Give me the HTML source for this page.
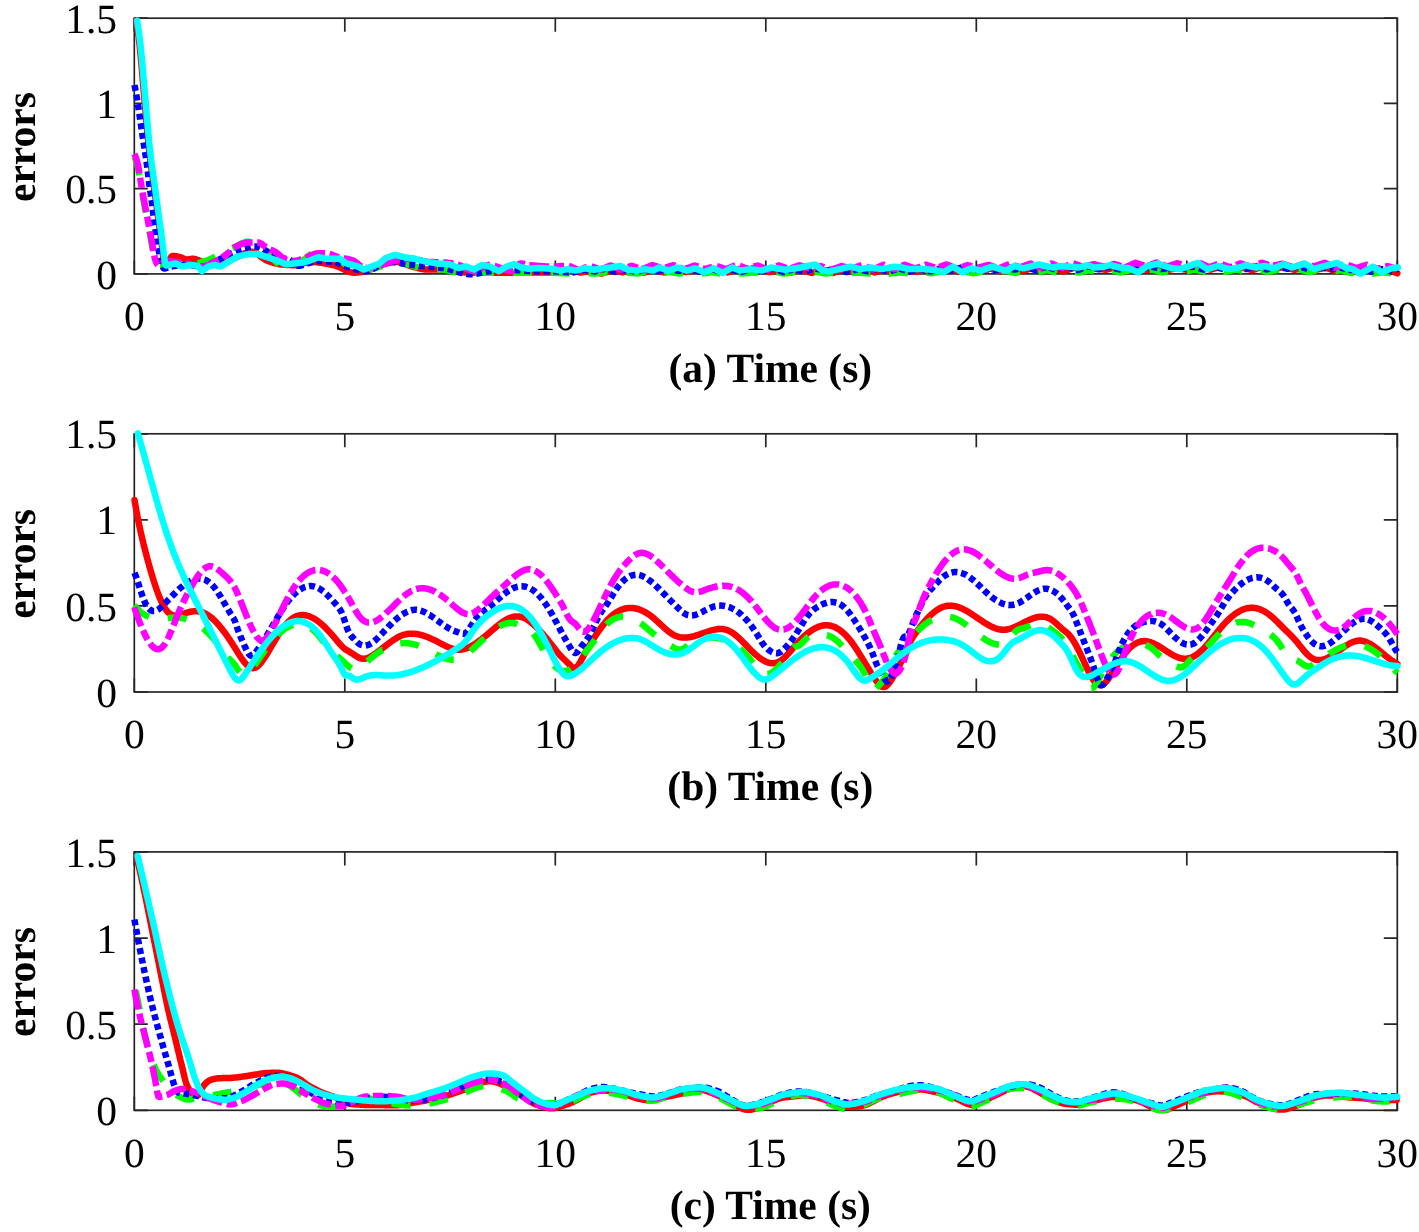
<!DOCTYPE html>
<html><head><meta charset="utf-8"><title>errors</title><style>html,body{margin:0;padding:0;background:#fff;width:1419px;height:1232px;overflow:hidden}svg{display:block}</style></head><body>
<svg width="1419" height="1232" viewBox="0 0 1419 1232">
<style>.t{font-family:"Liberation Serif","Times New Roman",serif;font-size:41.5px;fill:#000;text-rendering:geometricPrecision}.tb{font-family:"Liberation Serif","Times New Roman",serif;font-size:41.5px;font-weight:bold;fill:#000;text-rendering:geometricPrecision}</style>
<rect width="1419" height="1232" fill="#fff"/>
<defs><clipPath id="clipa"><rect x="130.30" y="14.20" width="1271.00" height="263.70"/></clipPath></defs>
<rect x="134.30" y="18.20" width="1263.00" height="255.70" fill="none" stroke="#262626" stroke-width="1.7"/>
<path d="M134.30 273.90V260.40M134.30 18.20V31.70M344.80 273.90V260.40M344.80 18.20V31.70M555.30 273.90V260.40M555.30 18.20V31.70M765.80 273.90V260.40M765.80 18.20V31.70M976.30 273.90V260.40M976.30 18.20V31.70M1186.80 273.90V260.40M1186.80 18.20V31.70M1397.30 273.90V260.40M1397.30 18.20V31.70M134.30 273.90H147.80M1397.30 273.90H1383.80M134.30 188.67H147.80M1397.30 188.67H1383.80M134.30 103.43H147.80M1397.30 103.43H1383.80M134.30 18.20H147.80M1397.30 18.20H1383.80" stroke="#262626" stroke-width="1.7" fill="none"/>
<text x="134.30" y="330.20" text-anchor="middle" class="t">0</text>
<text x="344.80" y="330.20" text-anchor="middle" class="t">5</text>
<text x="555.30" y="330.20" text-anchor="middle" class="t">10</text>
<text x="765.80" y="330.20" text-anchor="middle" class="t">15</text>
<text x="976.30" y="330.20" text-anchor="middle" class="t">20</text>
<text x="1186.80" y="330.20" text-anchor="middle" class="t">25</text>
<text x="1397.30" y="330.20" text-anchor="middle" class="t">30</text>
<text x="117.00" y="288.50" text-anchor="end" class="t">0</text>
<text x="117.00" y="203.27" text-anchor="end" class="t">0.5</text>
<text x="117.00" y="118.03" text-anchor="end" class="t">1</text>
<text x="117.00" y="32.80" text-anchor="end" class="t">1.5</text>
<text x="770.30" y="382.20" text-anchor="middle" class="tb">(a) Time (s)</text>
<text transform="translate(34.8 147.05) rotate(-90)" text-anchor="middle" class="tb">errors</text>
<g clip-path="url(#clipa)">
<path d="M136.3 20.6L137.3 26.9L138.3 34.2L139.3 42.4L139.6 45.0L140.3 51.6L141.3 62.4L142.3 74.0L143.3 85.9L144.1 95.0L144.3 97.2L145.3 108.7L146.3 120.3L147.3 131.7L148.3 142.4L149.1 150.0L149.3 151.8L150.3 160.1L151.3 167.9L152.3 175.1L153.3 182.1L154.3 189.2L155.1 195.0L155.3 196.5L156.3 203.9L157.3 211.3L158.3 218.7L159.3 225.9L160.3 233.0L160.5 234.4L161.3 240.6L162.3 249.3L163.3 257.5L164.3 263.6L165.3 266.0L166.3 265.5L167.3 264.1L168.3 262.3L169.3 260.2L170.3 258.3L171.3 256.8L172.3 256.0L172.6 256.0L173.3 256.0L174.3 256.1L175.3 256.2L176.3 256.3L177.3 256.5L178.3 256.8L179.3 257.0L180.3 257.2L180.3 257.2L181.3 257.5L182.3 258.0L183.3 258.5L184.3 259.0L185.3 259.3L186.3 259.5L186.5 259.5L187.3 259.5L188.3 259.4L189.3 259.2L190.3 259.0L191.3 258.9L192.3 258.8L192.7 258.8L193.3 258.8L194.3 258.9L195.3 259.1L196.3 259.4L197.3 259.8L198.3 260.1L198.9 260.3L199.3 260.5L200.3 260.9L201.3 261.5L202.3 262.1L203.3 262.7L204.3 263.2L205.1 263.4L205.3 263.5L206.3 263.7L207.3 263.9L208.3 264.0L209.3 264.2L210.3 264.4L211.3 264.5L212.3 264.6L213.3 264.7L214.3 264.8L215.3 264.9L216.3 264.9L217.3 265.0L217.5 265.0L218.3 264.9L219.3 264.8L220.3 264.6L221.3 264.3L222.3 264.0L223.3 263.5L224.3 263.1L225.3 262.6L226.3 262.1L227.3 261.6L228.3 261.0L229.3 260.5L230.3 260.0L231.3 259.5L232.3 259.1L233.0 258.8L233.3 258.7L234.3 258.2L235.3 257.8L236.3 257.3L237.3 256.8L238.3 256.3L239.3 255.8L240.3 255.3L241.3 254.9L242.3 254.4L243.3 253.9L244.3 253.5L245.3 253.1L246.3 252.7L247.3 252.4L248.3 252.2L249.3 252.0L250.3 251.9L251.3 251.8L251.6 251.8L252.3 251.8L253.3 252.0L254.3 252.3L255.3 252.8L256.3 253.3L257.3 254.0L258.3 254.7L259.3 255.4L260.3 256.2L261.3 257.0L262.3 257.7L263.3 258.4L264.3 259.1L265.3 259.7L266.3 260.3L267.1 260.6L267.3 260.7L268.3 261.1L269.3 261.4L270.3 261.8L271.3 262.1L272.3 262.5L273.3 262.8L274.3 263.1L275.3 263.4L276.3 263.6L277.3 263.8L278.3 264.0L279.3 264.2L279.5 264.2L280.3 264.3L281.3 264.4L282.3 264.5L283.3 264.6L284.3 264.7L285.3 264.8L286.3 264.9L287.3 265.0L288.3 265.0L289.3 265.1L290.3 265.1L291.3 265.2L292.3 265.2L293.3 265.3L294.3 265.3L295.0 265.3L295.3 265.3L296.3 265.2L297.3 265.1L298.3 264.9L299.3 264.6L300.3 264.4L301.3 264.1L302.3 263.7L303.3 263.4L304.3 263.1L305.3 262.8L306.3 262.5L307.3 262.2L308.3 262.1L309.3 261.9L310.3 261.9L310.5 261.9L311.3 261.9L312.3 261.9L313.3 261.9L314.3 262.0L315.3 262.1L316.3 262.2L317.3 262.3L318.3 262.4L319.3 262.5L320.3 262.7L321.3 262.8L322.3 263.0L323.3 263.1L324.3 263.3L325.3 263.5L326.3 263.7L327.3 263.9L328.3 264.1L329.3 264.3L330.3 264.5L331.3 264.7L332.3 265.0L333.3 265.2L333.8 265.3L334.3 265.4L335.3 265.7L336.3 266.0L337.3 266.4L338.3 266.8L339.3 267.2L340.3 267.7L341.3 268.2L342.3 268.7L343.3 269.2L344.3 269.7L345.3 270.2L346.3 270.7L347.3 271.1L348.3 271.5L349.3 271.9L350.3 272.2L351.3 272.4L352.3 272.6L353.3 272.7L354.0 272.7L354.3 272.7L355.3 272.7L356.3 272.6L357.3 272.5L358.3 272.4L359.3 272.3L360.3 272.1L361.3 272.0L362.3 271.8L363.3 271.6L364.3 271.4L365.3 271.2L365.5 271.2L366.3 271.0L367.3 270.7L368.3 270.4L369.3 270.0L370.3 269.6L371.3 269.1L372.3 268.7L373.3 268.2L374.3 267.7L375.3 267.2L376.3 266.7L377.3 266.3L378.3 265.9L379.3 265.5L380.3 265.2L381.0 265.0L381.3 264.9L382.3 264.6L383.3 264.3L384.3 264.1L385.3 263.8L386.3 263.5L387.3 263.3L388.3 263.0L389.3 262.8L390.3 262.6L391.3 262.4L392.3 262.2L393.3 262.1L394.3 262.0L395.3 261.9L396.3 261.9L396.5 261.9L397.3 261.9L398.3 262.0L399.3 262.2L400.3 262.4L401.3 262.7L402.3 263.0L403.3 263.4L404.3 263.7L405.3 264.1L406.3 264.5L407.3 264.9L408.3 265.3L409.3 265.7L410.3 266.0L411.3 266.3L412.0 266.5L412.3 266.6L413.3 266.8L414.3 267.1L415.3 267.4L416.3 267.6L417.3 267.9L418.3 268.2L419.3 268.4L420.3 268.7L421.3 268.9L422.3 269.1L423.3 269.2L424.3 269.4L425.3 269.5L426.3 269.6L427.3 269.6L427.5 269.6L428.3 269.6L429.3 269.6L430.3 269.6L431.3 269.6L432.3 269.6L433.3 269.6L434.3 269.6L435.3 269.6L436.3 269.6L437.3 269.6L438.3 269.6L439.3 269.6L440.3 269.6L441.3 269.6L442.3 269.6L443.0 269.6L443.3 269.6L444.3 269.6L445.3 269.7L446.3 269.8L447.3 270.0L448.3 270.1L449.3 270.3L450.3 270.5L451.3 270.7L452.3 270.9L453.3 271.2L454.3 271.3L455.3 271.5L456.3 271.7L457.3 271.8L458.3 271.9L458.5 271.9L459.3 272.0L460.3 272.1L461.3 272.1L462.3 272.2L463.3 272.3L464.3 272.4L465.3 272.4L466.3 272.5L467.3 272.5L468.3 272.6L469.3 272.6L470.3 272.7L471.3 272.7L472.3 272.7L473.3 272.7L474.0 272.7L474.3 272.7L475.3 272.7L476.3 272.7L477.3 272.7L478.3 272.7L479.3 272.7L480.3 272.7L481.3 272.7L482.3 272.7L483.3 272.7L484.3 272.7L485.3 272.7L486.3 272.7L487.3 272.7L488.3 272.7L489.3 272.7L490.3 272.7L491.3 272.7L492.3 272.7L493.3 272.7L494.3 272.7L495.3 272.7L496.3 272.7L497.3 272.7L498.3 272.7L499.3 272.7L500.3 272.7L501.3 272.7L502.3 272.7L503.3 272.7L504.3 272.7L505.0 272.7L505.3 272.7L506.3 272.7L507.3 272.7L508.3 272.7L509.3 272.7L510.3 272.7L511.3 272.7L512.3 272.7L513.3 272.7L514.3 272.7L515.3 272.7L516.3 272.7L517.3 272.7L518.3 272.7L519.3 272.7L520.3 272.7L521.3 272.7L522.3 272.7L523.3 272.7L524.3 272.6L525.3 272.6L526.3 272.6L527.3 272.6L528.3 272.6L529.3 272.6L530.3 272.6L531.3 272.6L532.3 272.6L533.3 272.6L534.3 272.6L535.3 272.6L536.3 272.6L537.3 272.5L538.3 272.5L539.3 272.5L540.3 272.5L541.3 272.5L542.3 272.5L543.3 272.5L544.3 272.5L545.3 272.5L546.3 272.5L547.3 272.4L548.3 272.4L549.3 272.4L550.3 272.4L551.3 272.4L551.6 272.4L570.0 270.0L580.5 272.6L591.0 270.5L601.5 273.6L612.0 270.4L622.5 272.4L633.0 269.1L643.5 272.8L654.0 269.7L664.5 272.6L675.0 269.2L685.5 272.2L696.0 269.9L706.5 272.9L717.0 269.2L727.5 272.5L738.0 269.0L748.5 272.6L759.0 268.9L769.5 272.2L780.0 269.5L790.5 272.6L801.0 269.8L811.5 272.8L822.0 270.0L832.5 273.1L843.0 269.2L853.5 272.2L864.0 269.7L874.5 272.4L885.0 270.1L895.5 273.1L906.0 269.5L916.5 271.9L927.0 269.0L937.5 271.8L948.0 268.4L958.5 271.5L969.0 269.3L979.5 271.3L990.0 268.6L1000.5 271.3L1011.0 267.6L1021.5 271.4L1032.0 268.2L1042.5 270.3L1053.0 268.2L1063.5 271.4L1074.0 267.7L1084.5 270.9L1095.0 268.1L1105.5 269.9L1116.0 267.0L1126.5 270.6L1137.0 267.6L1147.5 270.2L1158.0 267.8L1168.5 269.9L1179.0 267.8L1189.5 270.7L1200.0 267.2L1210.5 269.7L1221.0 266.7L1231.5 269.7L1242.0 267.6L1252.5 270.2L1263.0 266.5L1273.5 269.5L1284.0 266.7L1294.5 269.8L1305.0 267.7L1315.5 269.8L1326.0 267.8L1336.5 271.2L1347.0 268.2L1357.5 272.2L1368.0 269.5L1378.5 272.3L1389.0 270.0L1397.3 273.3" stroke="#ff0000" stroke-width="6.5" fill="none" stroke-linejoin="round" stroke-linecap="round"/>
<path d="M134.3 157.0L135.3 158.8L136.3 161.5L137.3 164.9L137.6 166.0L138.3 169.2L139.3 175.0L140.3 181.2L140.6 183.0L141.3 187.1L142.3 192.9L143.3 198.7L143.8 201.5L144.3 204.2L145.3 209.3L146.3 214.3L147.3 219.5L147.5 220.5L148.3 224.8L149.3 230.3L150.3 235.7L151.2 240.5L151.3 241.0L152.3 246.7L153.3 252.4L154.3 257.6L155.3 261.2L155.4 261.5L156.3 263.7L157.3 265.5L158.0 266.0L158.3 266.0L159.3 266.0L160.3 265.9L161.3 265.7L162.3 265.6L163.3 265.4L164.3 265.3L165.3 265.1L166.3 265.0L167.3 265.0L167.9 265.0L168.3 265.0L169.3 265.0L170.3 265.0L171.3 265.0L172.3 265.0L173.3 265.0L174.3 265.0L175.3 265.0L176.3 265.0L177.3 265.0L178.3 265.0L179.3 265.0L180.3 265.0L181.3 265.0L182.3 265.0L183.3 265.0L184.3 265.0L185.3 265.0L186.3 265.0L186.5 265.0L187.3 265.0L188.3 264.9L189.3 264.8L190.3 264.7L191.3 264.6L192.3 264.4L193.3 264.2L194.3 264.0L195.3 263.8L196.3 263.6L197.3 263.3L198.3 263.1L199.3 262.8L200.3 262.5L201.3 262.2L202.3 261.9L203.3 261.6L204.3 261.3L205.1 261.1L205.3 261.0L206.3 260.7L207.3 260.4L208.3 260.0L209.3 259.6L210.3 259.1L211.3 258.7L212.3 258.2L213.3 257.7L214.3 257.2L215.3 256.7L216.3 256.2L217.3 255.8L217.5 255.7L218.3 255.3L219.3 254.8L220.3 254.3L221.3 253.8L222.3 253.3L223.3 252.8L224.3 252.2L225.3 251.7L226.3 251.2L227.3 250.7L228.3 250.2L229.3 249.7L230.3 249.2L231.3 248.7L232.3 248.2L233.0 247.9L233.3 247.8L234.3 247.3L235.3 246.8L236.3 246.3L237.3 245.8L238.3 245.2L239.3 244.7L240.3 244.2L241.3 243.7L242.3 243.2L243.3 242.8L244.3 242.5L245.3 242.2L246.3 241.9L247.3 241.8L248.3 241.7L248.5 241.7L249.3 241.7L250.3 241.8L251.3 241.9L252.3 242.0L253.3 242.2L254.3 242.4L255.3 242.6L256.3 242.8L257.3 243.1L257.8 243.3L258.3 243.4L259.3 243.9L260.3 244.5L261.3 245.3L262.3 246.2L263.3 247.1L264.3 248.2L265.3 249.2L266.3 250.2L267.1 251.0L267.3 251.2L268.3 252.2L269.3 253.4L270.3 254.6L271.3 255.9L272.3 257.2L273.3 258.5L274.3 259.8L275.3 261.1L276.3 262.2L277.3 263.2L278.3 264.1L279.3 264.8L279.5 265.0L280.3 265.4L281.3 266.0L282.3 266.5L283.3 267.0L284.3 267.4L285.3 267.8L286.3 268.0L287.3 268.1L287.3 268.1L288.3 268.0L289.3 267.8L290.3 267.6L291.3 267.2L292.3 266.8L293.3 266.3L294.3 265.7L295.3 265.1L296.3 264.5L297.3 263.8L298.3 263.1L299.3 262.5L300.3 261.8L301.3 261.2L302.3 260.6L302.8 260.3L303.3 260.0L304.3 259.3L305.3 258.6L306.3 257.8L307.3 257.0L308.3 256.1L309.3 255.3L310.3 254.6L311.3 253.9L312.3 253.3L313.3 252.9L314.3 252.6L315.2 252.6L315.3 252.6L316.3 252.6L317.3 252.8L318.3 253.0L319.3 253.2L320.3 253.6L321.3 253.9L322.3 254.3L323.3 254.7L324.3 255.0L325.3 255.4L326.0 255.7L326.3 255.7L327.3 256.1L328.3 256.4L329.3 256.8L330.3 257.1L331.3 257.5L332.3 257.9L333.3 258.3L334.3 258.7L335.3 259.1L336.3 259.5L337.3 259.9L338.3 260.4L339.3 260.8L340.3 261.3L341.3 261.7L341.6 261.9L342.3 262.2L343.3 262.9L344.3 263.5L345.3 264.3L346.3 265.0L347.3 265.8L348.3 266.6L349.3 267.4L350.3 268.2L351.3 268.9L352.3 269.6L353.3 270.1L354.3 270.6L355.3 270.9L356.3 271.1L357.1 271.2L357.3 271.2L358.3 271.1L359.3 271.1L360.3 271.0L361.3 270.9L362.3 270.8L363.3 270.7L364.3 270.5L365.3 270.4L366.3 270.2L367.3 270.0L368.3 269.8L369.3 269.6L370.3 269.3L371.3 269.1L372.3 268.8L373.3 268.6L374.3 268.3L375.3 268.1L376.3 267.8L377.3 267.5L378.3 267.2L379.3 267.0L380.3 266.7L381.0 266.5L381.3 266.4L382.3 266.1L383.3 265.7L384.3 265.2L385.3 264.7L386.3 264.2L387.3 263.7L388.3 263.3L389.3 262.8L390.3 262.4L391.3 262.1L392.3 261.9L393.3 261.9L393.4 261.9L394.3 261.9L395.3 261.9L396.3 262.0L397.3 262.1L398.3 262.2L399.3 262.4L400.3 262.6L401.3 262.8L402.3 263.0L403.3 263.2L404.3 263.5L405.3 263.7L406.3 264.0L407.3 264.3L408.3 264.6L409.3 264.9L410.3 265.1L411.3 265.4L412.3 265.7L413.3 266.0L414.3 266.3L415.1 266.5L415.3 266.6L416.3 266.9L417.3 267.3L418.3 267.7L419.3 268.2L420.3 268.6L421.3 269.0L422.3 269.3L423.3 269.5L424.3 269.6L424.4 269.6L425.3 269.6L426.3 269.6L427.3 269.6L428.3 269.6L429.3 269.6L430.3 269.6L431.3 269.6L432.3 269.6L433.3 269.6L434.3 269.6L435.3 269.6L436.3 269.6L437.3 269.6L438.3 269.6L439.3 269.6L440.3 269.6L441.3 269.6L442.3 269.6L443.0 269.6L443.3 269.6L444.3 269.7L445.3 269.8L446.3 270.0L447.3 270.2L448.3 270.4L449.3 270.7L450.3 271.0L451.3 271.3L452.3 271.6L453.3 271.9L454.3 272.1L455.3 272.4L456.3 272.5L457.3 272.7L458.3 272.7L458.5 272.7L459.3 272.7L460.3 272.7L461.3 272.7L462.3 272.7L463.3 272.7L464.3 272.7L465.3 272.7L466.3 272.7L467.3 272.7L468.3 272.7L469.3 272.7L470.3 272.7L471.3 272.7L472.3 272.7L473.3 272.7L474.3 272.7L475.3 272.7L476.3 272.7L477.3 272.7L478.3 272.7L479.3 272.7L480.3 272.7L481.3 272.7L482.3 272.7L483.3 272.7L484.3 272.7L485.3 272.7L486.3 272.7L487.3 272.7L488.3 272.7L489.3 272.7L490.3 272.7L491.3 272.7L492.3 272.7L493.3 272.7L494.3 272.7L495.3 272.7L496.3 272.7L497.3 272.7L498.3 272.7L499.3 272.7L500.3 272.7L501.3 272.7L502.3 272.7L503.3 272.7L504.3 272.7L505.0 272.7L505.3 272.7L506.3 272.7L507.3 272.7L508.3 272.7L509.3 272.7L510.3 272.7L511.3 272.7L512.3 272.7L513.3 272.7L514.3 272.7L515.3 272.7L516.3 272.7L517.3 272.7L518.3 272.7L519.3 272.7L520.3 272.7L521.3 272.7L522.3 272.7L523.3 272.7L524.3 272.7L525.3 272.7L526.3 272.7L527.3 272.7L528.3 272.7L529.3 272.7L530.3 272.7L531.3 272.7L532.3 272.7L533.3 272.7L534.3 272.7L535.3 272.7L536.3 272.7L537.3 272.7L538.3 272.7L539.3 272.7L540.3 272.7L541.3 272.7L542.3 272.7L543.3 272.7L544.3 272.7L545.3 272.7L546.3 272.7L547.3 272.7L548.3 272.7L549.3 272.7L550.3 272.7L551.3 272.7L551.6 272.7L574.5 273.6L585.0 272.9L595.5 273.6L606.0 272.6L616.5 273.6L627.0 272.6L637.5 273.6L648.0 271.7L658.5 273.6L669.0 271.9L679.5 273.6L690.0 272.1L700.5 273.6L711.0 272.0L721.5 273.6L732.0 271.6L742.5 273.6L753.0 272.3L763.5 273.6L774.0 271.6L784.5 273.6L795.0 271.7L805.5 273.6L816.0 271.7L826.5 273.6L837.0 271.8L847.5 273.6L858.0 272.4L868.5 273.6L879.0 271.9L889.5 273.6L900.0 272.2L910.5 273.6L921.0 271.5L931.5 273.3L942.0 271.1L952.5 273.2L963.0 271.2L973.5 273.2L984.0 271.2L994.5 272.7L1005.0 270.5L1015.5 273.1L1026.0 270.3L1036.5 272.6L1047.0 270.1L1057.5 272.4L1068.0 270.1L1078.5 272.6L1089.0 270.2L1099.5 271.8L1110.0 269.6L1120.5 272.4L1131.0 269.9L1141.5 272.2L1152.0 269.6L1162.5 272.3L1173.0 270.1L1183.5 272.1L1194.0 269.6L1204.5 271.6L1215.0 269.4L1225.5 271.7L1236.0 269.6L1246.5 271.4L1257.0 269.1L1267.5 271.9L1278.0 269.9L1288.5 271.6L1299.0 269.4L1309.5 272.2L1320.0 269.5L1330.5 272.0L1341.0 270.1L1351.5 273.1L1362.0 271.7L1372.5 273.6L1383.0 272.3L1393.5 273.6L1397.3 271.8" stroke="#00ff00" stroke-width="6.5" fill="none" stroke-linejoin="round" stroke-linecap="butt" stroke-dasharray="19 19"/>
<path d="M134.5 85.0L135.5 90.3L136.5 95.9L137.5 101.9L137.9 104.3L138.5 108.1L139.5 114.9L140.5 121.8L140.8 123.8L141.5 128.5L142.5 135.3L143.5 142.0L143.7 143.3L144.5 148.4L145.5 154.7L146.5 161.4L146.7 162.8L147.5 169.1L148.5 177.7L149.4 185.0L149.5 185.7L150.5 192.5L151.5 199.3L151.6 200.0L152.5 207.0L153.5 215.3L154.5 223.1L154.6 223.8L155.5 230.1L156.5 237.0L157.5 243.4L158.5 249.3L159.5 254.2L159.8 255.5L160.5 258.4L161.5 262.6L162.5 266.1L163.5 268.2L164.0 268.5L164.5 268.5L165.5 268.3L166.5 268.0L167.5 267.6L168.5 267.3L169.5 266.9L170.5 266.6L171.0 266.5L171.5 266.4L172.5 266.3L173.5 266.1L174.5 266.0L175.5 265.8L176.5 265.7L177.5 265.6L178.5 265.5L179.5 265.4L180.5 265.3L181.5 265.2L182.5 265.1L183.5 265.0L184.5 265.0L185.5 265.0L186.5 265.0L186.5 265.0L187.5 265.0L188.5 265.0L189.5 265.1L190.5 265.2L191.5 265.3L192.5 265.5L193.5 265.6L194.5 265.8L195.5 265.9L196.5 266.1L197.5 266.2L198.5 266.3L199.5 266.4L200.5 266.5L201.5 266.5L202.0 266.5L202.5 266.5L203.5 266.4L204.5 266.2L205.5 266.0L206.5 265.7L207.5 265.3L208.5 264.9L209.5 264.4L210.5 263.9L211.5 263.4L212.5 262.9L213.5 262.3L214.5 261.8L215.5 261.3L216.5 260.8L217.5 260.3L217.5 260.3L218.5 259.9L219.5 259.4L220.5 258.9L221.5 258.4L222.5 257.9L223.5 257.3L224.5 256.8L225.5 256.3L226.5 255.8L227.5 255.2L228.5 254.7L229.5 254.2L230.5 253.8L231.5 253.3L231.5 253.3L232.5 252.9L233.5 252.4L234.5 252.0L235.5 251.5L236.5 251.1L237.5 250.7L238.5 250.2L239.5 249.8L240.5 249.4L241.5 249.1L242.5 248.7L243.5 248.4L244.5 248.1L245.4 247.9L245.5 247.9L246.5 247.7L247.5 247.4L248.5 247.2L249.5 247.0L250.5 246.8L251.5 246.6L252.5 246.5L253.5 246.4L254.5 246.4L254.7 246.4L255.5 246.4L256.5 246.5L257.5 246.8L258.5 247.1L259.5 247.5L260.5 247.9L261.5 248.3L262.5 248.7L262.5 248.7L263.5 249.2L264.5 249.8L265.5 250.5L266.5 251.3L267.5 252.1L268.5 253.0L269.5 253.9L270.5 254.7L271.5 255.4L272.5 256.1L273.5 256.7L274.5 257.1L274.9 257.2L275.5 257.4L276.5 257.6L277.5 257.8L278.5 257.9L279.5 258.1L280.5 258.2L281.5 258.3L282.5 258.4L283.5 258.6L284.5 258.7L285.5 258.8L286.5 259.0L287.5 259.2L288.5 259.4L288.8 259.5L289.5 259.8L290.5 260.4L291.5 261.1L292.5 262.0L293.5 263.0L294.5 263.9L295.5 264.7L296.5 265.3L297.5 265.7L298.1 265.7L298.5 265.7L299.5 265.7L300.5 265.5L301.5 265.3L302.5 265.1L303.5 264.8L304.5 264.5L305.5 264.1L306.5 263.8L307.5 263.5L308.5 263.2L309.5 262.9L310.5 262.6L310.5 262.6L311.5 262.4L312.5 262.1L313.5 261.9L314.5 261.6L315.5 261.4L316.5 261.2L317.5 261.1L318.3 261.1L318.5 261.1L319.5 261.1L320.5 261.1L321.5 261.1L322.5 261.1L323.5 261.2L324.5 261.2L325.5 261.3L326.5 261.3L327.5 261.4L328.5 261.4L329.5 261.5L330.5 261.6L331.5 261.7L332.5 261.7L333.5 261.8L333.8 261.9L334.5 261.9L335.5 262.1L336.5 262.4L337.5 262.8L338.5 263.2L339.5 263.6L340.5 264.1L341.5 264.5L342.5 265.0L343.5 265.5L344.5 265.9L345.5 266.3L346.2 266.5L346.5 266.6L347.5 266.9L348.5 267.2L349.5 267.6L350.5 267.9L351.5 268.2L352.5 268.5L353.5 268.7L354.5 269.0L355.5 269.2L356.5 269.5L357.1 269.6L357.5 269.7L358.5 270.0L359.5 270.2L360.5 270.4L361.5 270.7L362.5 270.9L363.5 271.0L364.5 271.1L365.5 271.2L365.5 271.2L366.5 271.1L367.5 271.0L368.5 270.7L369.5 270.4L370.5 270.1L371.5 269.6L372.5 269.1L373.5 268.6L374.5 268.1L375.5 267.5L376.5 266.9L377.5 266.3L378.5 265.7L379.5 265.1L380.5 264.5L381.5 264.0L382.5 263.5L383.5 263.1L384.5 262.7L385.5 262.4L386.5 262.1L387.5 261.9L388.5 261.9L388.8 261.9L389.5 261.9L390.5 261.9L391.5 261.9L392.5 262.0L393.5 262.1L394.5 262.2L395.5 262.3L396.5 262.5L397.5 262.6L398.5 262.8L399.5 262.9L400.5 263.1L401.5 263.3L402.5 263.5L403.5 263.6L404.5 263.8L405.5 264.0L406.5 264.2L407.5 264.3L408.5 264.5L409.5 264.6L410.5 264.8L411.5 264.9L412.0 265.0L412.5 265.0L413.5 265.1L414.5 265.2L415.5 265.3L416.5 265.4L417.5 265.5L418.5 265.6L419.5 265.7L420.5 265.8L421.5 265.9L422.5 266.0L423.5 266.1L424.5 266.2L425.5 266.3L426.5 266.4L427.5 266.5L427.5 266.5L428.5 266.6L429.5 266.7L430.5 266.8L431.5 266.9L432.5 267.0L433.5 267.1L434.5 267.2L435.5 267.2L436.5 267.3L437.5 267.4L438.5 267.5L439.5 267.6L440.5 267.8L441.5 267.9L442.5 268.0L443.0 268.1L443.5 268.1L444.5 268.3L445.5 268.5L446.5 268.7L447.5 268.9L448.5 269.2L449.5 269.4L450.5 269.7L451.5 270.0L452.5 270.3L453.5 270.6L454.5 270.9L455.5 271.2L456.5 271.5L457.5 271.8L458.5 272.1L459.5 272.4L460.5 272.6L461.5 272.9L462.5 273.1L463.5 273.4L464.5 273.6L465.5 273.8L466.5 273.9L467.5 274.1L468.5 274.2L469.5 274.2L470.5 274.3L470.9 274.3L471.5 274.3L472.5 274.2L473.5 274.1L474.5 274.0L475.5 273.9L476.5 273.7L477.5 273.6L478.5 273.4L479.5 273.2L480.5 272.9L481.5 272.7L482.5 272.5L483.5 272.3L484.5 272.1L485.5 271.8L486.5 271.6L487.5 271.5L488.5 271.3L489.5 271.2L489.5 271.2L490.5 271.0L491.5 270.9L492.5 270.8L493.5 270.6L494.5 270.5L495.5 270.4L496.5 270.2L497.5 270.1L498.5 270.0L499.5 269.9L500.5 269.8L501.5 269.7L502.5 269.7L503.5 269.6L504.5 269.6L505.0 269.6L505.5 269.6L506.5 269.6L507.5 269.6L508.5 269.7L509.5 269.7L510.5 269.7L511.5 269.8L512.5 269.8L513.5 269.9L514.5 270.0L515.5 270.0L516.5 270.1L517.5 270.2L518.5 270.2L519.5 270.3L520.5 270.4L521.5 270.5L522.5 270.5L523.5 270.6L524.5 270.7L525.5 270.7L526.5 270.8L527.5 270.9L528.5 270.9L529.5 271.0L530.5 271.0L531.5 271.1L532.5 271.1L533.5 271.1L534.5 271.2L535.5 271.2L536.0 271.2L536.5 271.2L537.5 271.2L538.5 271.2L539.5 271.2L540.5 271.2L541.5 271.2L542.5 271.2L543.5 271.2L544.5 271.2L545.5 271.2L546.5 271.2L547.5 271.2L548.5 271.2L549.5 271.2L550.5 271.2L551.5 271.2L551.6 271.2L573.6 272.4L584.1 269.5L594.6 271.4L605.1 268.5L615.6 271.9L626.1 269.5L636.6 272.1L647.1 268.1L657.6 271.2L668.1 268.2L678.6 270.9L689.1 268.6L699.6 271.7L710.1 268.7L720.6 271.4L731.1 269.1L741.6 271.8L752.1 268.6L762.6 271.2L773.1 268.4L783.6 272.1L794.1 268.7L804.6 271.8L815.1 268.2L825.6 271.0L836.1 268.7L846.6 272.1L857.1 269.2L867.6 271.2L878.1 268.6L888.6 271.7L899.1 268.5L909.6 271.4L920.1 269.0L930.6 271.4L941.1 268.4L951.6 270.4L962.1 267.4L972.6 270.8L983.1 267.7L993.6 270.6L1004.1 267.4L1014.6 269.6L1025.1 267.0L1035.6 270.2L1046.1 266.7L1056.6 269.8L1067.1 266.3L1077.6 270.1L1088.1 266.3L1098.6 269.3L1109.1 266.9L1119.6 269.4L1130.1 266.3L1140.6 268.9L1151.1 266.4L1161.6 269.1L1172.1 267.0L1182.6 269.0L1193.1 266.4L1203.6 269.6L1214.1 266.7L1224.6 269.5L1235.1 265.7L1245.6 269.1L1256.1 266.5L1266.6 269.3L1277.1 266.6L1287.6 268.8L1298.1 266.1L1308.6 269.1L1319.1 266.6L1329.6 269.3L1340.1 267.6L1350.6 270.1L1361.1 267.5L1371.6 271.6L1382.1 269.2L1392.6 271.7L1397.3 268.8" stroke="#0000ff" stroke-width="6.5" fill="none" stroke-linejoin="round" stroke-linecap="butt" stroke-dasharray="6 3.7"/>
<path d="M134.3 154.0L135.3 155.9L136.3 158.8L137.3 162.3L137.9 164.7L138.3 166.5L139.3 172.3L140.3 178.9L140.8 182.0L141.3 185.0L142.3 190.9L143.3 196.7L144.0 200.6L144.3 202.2L145.3 207.4L146.3 212.4L147.3 217.5L147.7 219.6L148.3 222.8L149.3 228.3L150.3 233.7L151.3 239.1L151.4 239.6L152.3 244.6L153.3 250.5L154.3 255.8L155.3 259.9L155.6 260.7L156.3 262.4L157.3 264.4L158.3 265.5L158.5 265.5L159.3 265.4L160.3 264.9L161.3 264.2L162.3 263.4L163.3 262.6L164.3 261.8L165.3 261.3L166.3 261.1L166.4 261.1L167.3 261.1L168.3 261.1L169.3 261.2L170.3 261.3L171.3 261.4L172.3 261.5L173.3 261.6L174.3 261.7L175.3 261.8L175.7 261.9L176.3 261.9L177.3 262.0L178.3 262.2L179.3 262.3L180.3 262.4L181.3 262.6L182.3 262.7L183.3 262.9L184.3 263.1L185.3 263.2L186.3 263.4L186.5 263.4L187.3 263.6L188.3 263.8L189.3 264.0L190.3 264.2L191.3 264.5L192.3 264.8L193.3 265.0L194.3 265.3L195.3 265.5L196.3 265.8L197.3 266.0L198.3 266.2L199.3 266.3L200.3 266.4L201.3 266.5L202.0 266.5L202.3 266.5L203.3 266.4L204.3 266.3L205.3 266.0L206.3 265.7L207.3 265.3L208.3 264.9L209.3 264.4L210.3 263.9L211.3 263.4L212.3 262.9L213.3 262.4L214.3 261.9L214.4 261.9L215.3 261.4L216.3 260.9L217.3 260.4L218.3 259.8L219.3 259.2L220.3 258.6L221.3 257.9L222.3 257.3L223.3 256.6L224.3 255.9L225.3 255.2L226.3 254.5L226.8 254.1L227.3 253.8L228.3 252.9L229.3 252.0L230.3 251.1L231.3 250.1L232.3 249.2L233.3 248.3L234.3 247.5L235.3 246.8L236.1 246.4L236.3 246.3L237.3 245.8L238.3 245.4L239.3 244.9L240.3 244.5L241.3 244.1L242.3 243.7L243.3 243.4L244.3 243.1L245.3 242.8L246.3 242.7L247.3 242.5L248.3 242.5L248.5 242.5L249.3 242.5L250.3 242.5L251.3 242.5L252.3 242.5L253.3 242.5L254.3 242.5L255.3 242.5L256.3 242.5L257.3 242.5L257.8 242.5L258.3 242.5L259.3 242.7L260.3 243.2L261.3 243.7L262.3 244.4L263.3 245.2L264.3 246.0L265.3 246.7L266.3 247.4L267.1 247.9L267.3 248.0L268.3 248.5L269.3 249.0L270.3 249.5L271.3 249.9L272.3 250.4L273.3 250.9L274.3 251.4L275.3 251.9L276.3 252.5L276.4 252.6L277.3 253.2L278.3 254.0L279.3 254.9L280.3 255.9L281.3 256.8L282.3 257.6L283.3 258.3L284.2 258.8L284.3 258.8L285.3 259.2L286.3 259.6L287.3 259.9L288.3 260.2L289.3 260.5L290.3 260.7L291.3 260.9L292.3 261.0L293.3 261.1L293.5 261.1L294.3 261.1L295.3 260.9L296.3 260.7L297.3 260.5L298.3 260.2L299.3 259.9L300.3 259.6L301.3 259.2L302.3 258.9L302.8 258.8L303.3 258.6L304.3 258.3L305.3 257.9L306.3 257.4L307.3 257.0L308.3 256.5L309.3 256.1L310.3 255.6L311.3 255.2L312.3 254.7L313.3 254.3L314.3 254.0L315.3 253.7L316.3 253.5L317.3 253.4L318.3 253.3L318.3 253.3L319.3 253.3L320.3 253.3L321.3 253.3L322.3 253.3L323.3 253.3L324.3 253.3L325.3 253.3L326.0 253.3L326.3 253.3L327.3 253.4L328.3 253.6L329.3 253.8L330.3 254.1L331.3 254.5L332.3 254.9L333.3 255.3L334.3 255.7L335.3 256.1L336.3 256.5L337.3 256.9L338.3 257.2L338.4 257.2L339.3 257.4L340.3 257.7L341.3 257.9L342.3 258.1L343.3 258.3L344.3 258.4L345.3 258.6L346.3 258.8L347.3 259.0L348.3 259.2L349.3 259.4L350.3 259.7L351.3 260.0L352.3 260.3L352.4 260.3L353.3 260.7L354.3 261.2L355.3 261.9L356.3 262.6L357.3 263.4L358.3 264.2L359.3 265.0L360.3 265.8L361.3 266.5L362.3 267.1L363.3 267.6L364.3 267.9L365.3 268.1L365.5 268.1L366.3 268.0L367.3 268.0L368.3 267.9L369.3 267.8L370.3 267.6L371.3 267.4L372.3 267.2L373.3 267.0L374.3 266.7L375.3 266.5L376.3 266.2L377.3 265.9L378.3 265.7L379.3 265.4L380.3 265.1L381.0 265.0L381.3 264.9L382.3 264.6L383.3 264.3L384.3 264.0L385.3 263.6L386.3 263.3L387.3 262.9L388.3 262.5L389.3 262.2L390.3 261.9L391.3 261.6L392.3 261.3L393.3 261.1L393.4 261.1L394.3 260.9L395.3 260.7L396.3 260.6L397.3 260.4L398.3 260.2L399.3 260.0L400.3 259.9L401.3 259.7L402.3 259.6L403.3 259.4L404.3 259.3L405.3 259.2L406.3 259.1L407.3 259.0L408.3 258.9L409.3 258.8L410.3 258.8L411.3 258.8L412.0 258.8L412.3 258.8L413.3 258.8L414.3 258.9L415.3 259.1L416.3 259.3L417.3 259.5L418.3 259.8L419.3 260.0L420.3 260.3L421.3 260.6L422.3 260.9L423.3 261.1L424.3 261.4L425.3 261.6L426.3 261.7L427.3 261.8L427.5 261.9L428.3 261.9L429.3 262.0L430.3 262.0L431.3 262.1L432.3 262.1L433.3 262.1L434.3 262.2L435.3 262.2L436.3 262.2L437.3 262.3L438.3 262.3L439.3 262.3L440.3 262.3L441.3 262.4L442.3 262.4L443.3 262.5L444.3 262.5L445.3 262.6L446.1 262.6L446.3 262.6L447.3 262.7L448.3 262.9L449.3 263.0L450.3 263.1L451.3 263.3L452.3 263.5L453.3 263.7L454.3 263.9L455.3 264.2L456.3 264.4L457.3 264.7L458.3 264.9L458.5 265.0L459.3 265.2L460.3 265.5L461.3 266.0L462.3 266.4L463.3 266.9L464.3 267.5L465.3 268.0L466.3 268.6L467.3 269.1L468.3 269.6L469.3 270.0L470.3 270.4L471.3 270.8L472.3 271.0L473.3 271.1L474.0 271.2L474.3 271.2L475.3 271.0L476.3 270.8L477.3 270.5L478.3 270.0L479.3 269.5L480.3 268.9L481.3 268.4L482.3 267.8L483.3 267.2L484.3 266.6L485.3 266.1L486.3 265.7L487.3 265.3L488.3 265.1L489.3 265.0L489.5 265.0L490.3 265.0L491.3 265.1L492.3 265.3L493.3 265.5L494.3 265.8L495.3 266.1L496.3 266.5L497.3 266.8L498.3 267.2L499.3 267.6L500.3 268.0L501.3 268.4L502.3 268.8L503.3 269.1L504.3 269.4L505.0 269.6L505.3 269.7L506.3 269.9L507.3 270.2L508.3 270.5L509.3 270.7L510.3 270.9L511.3 271.1L512.3 271.2L512.8 271.2L513.3 271.1L514.3 270.4L515.3 269.3L516.3 267.8L517.3 266.3L518.3 265.0L519.3 263.9L520.3 263.4L520.5 263.4L521.3 263.4L522.3 263.6L523.3 263.8L524.3 264.0L525.3 264.3L526.3 264.6L527.3 264.8L528.3 265.0L528.3 265.0L529.3 265.1L530.3 265.2L531.3 265.3L532.3 265.4L533.3 265.5L534.3 265.6L535.3 265.7L536.3 265.8L537.3 265.8L538.3 265.9L539.3 266.0L540.3 266.1L541.3 266.1L542.3 266.2L543.3 266.3L544.3 266.3L545.3 266.4L546.3 266.4L547.3 266.4L548.3 266.5L549.3 266.5L550.3 266.5L551.3 266.5L551.6 266.5L568.6 265.7L579.1 270.2L589.6 265.7L600.1 269.6L610.6 265.4L621.1 269.7L631.6 265.7L642.1 269.3L652.6 265.1L663.1 268.4L673.6 265.2L684.1 269.4L694.6 265.5L705.1 269.0L715.6 265.8L726.1 269.2L736.6 264.6L747.1 268.7L757.6 265.5L768.1 269.7L778.6 265.4L789.1 269.0L799.6 265.3L810.1 268.5L820.6 266.1L831.1 269.8L841.6 266.1L852.1 268.5L862.6 264.9L873.1 269.5L883.6 264.7L894.1 269.4L904.6 264.7L915.1 268.6L925.6 264.7L936.1 268.1L946.6 264.4L957.1 268.8L967.6 265.1L978.1 267.7L988.6 264.9L999.1 268.4L1009.6 263.9L1020.1 267.3L1030.6 263.6L1041.1 267.7L1051.6 263.4L1062.1 268.0L1072.6 263.0L1083.1 267.0L1093.6 264.2L1104.1 266.6L1114.6 264.0L1125.1 267.4L1135.6 262.8L1146.1 266.4L1156.6 262.5L1167.1 266.5L1177.6 263.2L1188.1 266.8L1198.6 262.3L1209.1 267.3L1219.6 263.5L1230.1 267.2L1240.6 263.4L1251.1 267.0L1261.6 262.7L1272.1 266.0L1282.6 263.7L1293.1 267.3L1303.6 263.9L1314.1 266.3L1324.6 262.7L1335.1 267.7L1345.6 264.0L1356.1 268.1L1366.6 264.8L1377.1 268.9L1387.6 266.2L1397.3 268.8" stroke="#ff00ff" stroke-width="6.5" fill="none" stroke-linejoin="round" stroke-linecap="butt" stroke-dasharray="20 4.6 10.3 4.6"/>
<path d="M137.1 20.6L138.1 26.6L139.1 33.7L140.1 41.6L140.5 45.0L141.1 50.6L142.1 61.2L143.1 72.8L144.1 84.7L145.0 95.0L145.1 96.1L146.1 107.5L147.1 119.2L148.1 130.6L149.1 141.3L150.0 150.0L150.1 150.9L151.1 159.3L152.1 167.1L153.1 174.4L154.1 181.4L155.1 188.5L156.0 195.0L156.1 195.7L157.1 203.2L158.1 210.6L159.1 217.9L160.1 225.2L161.1 232.3L161.4 234.4L162.1 239.8L163.1 248.5L164.1 256.8L165.1 263.0L166.1 265.5L175.7 263.4L181.9 266.5L191.2 265.0L197.4 265.7L202.0 271.2L208.2 266.5L214.4 265.0L220.6 266.5L228.4 261.9L237.7 256.4L248.5 254.1L257.8 254.1L267.1 257.2L276.4 260.3L285.7 264.2L293.5 263.4L302.8 262.6L310.5 260.3L318.3 257.2L326.0 258.8L340.0 258.8L346.2 263.4L357.8 266.5L364.0 269.6L371.7 266.5L379.5 263.4L385.7 258.0L395.0 254.9L404.3 257.2L415.1 258.8L427.5 261.9L436.8 263.4L449.2 264.2L458.5 268.1L466.3 266.5L474.0 269.6L481.8 265.0L489.5 266.5L498.8 271.2L506.6 266.5L514.3 264.2L520.5 267.3L528.3 268.8L539.1 268.1L551.6 268.8L560.0 270.6L567.8 269.1L575.5 270.6L584.8 268.3L594.1 269.8L603.4 268.3L611.2 267.5L620.5 266.0L628.2 269.8L636.0 270.6L645.3 269.1L653.0 270.6L659.2 267.5L668.5 270.6L677.8 267.5L687.1 270.6L694.9 268.3L704.2 272.2L713.5 268.3L722.8 272.9L732.1 267.5L739.8 270.6L750.7 269.1L761.6 270.6L770.9 267.5L785.5 269.8L801.0 267.5L815.0 264.4L822.7 270.6L828.9 271.4L839.8 269.1L850.6 266.7L859.9 269.1L870.8 267.5L881.6 269.1L894.0 266.7L901.8 267.5L909.5 269.1L925.0 269.1L937.4 270.6L943.6 272.2L952.9 266.7L962.2 272.2L971.6 268.3L980.9 270.6L992.4 266.7L1000.2 269.1L1006.4 270.6L1014.1 266.0L1023.4 268.3L1032.7 266.0L1038.9 264.4L1045.1 266.0L1052.9 267.5L1060.6 266.0L1069.9 266.7L1079.2 267.5L1087.0 265.2L1094.7 267.5L1104.0 266.7L1110.2 265.2L1119.5 267.5L1128.8 268.3L1138.1 272.2L1147.4 266.0L1158.3 263.6L1164.5 266.0L1172.2 268.3L1180.0 269.1L1189.3 266.0L1197.8 262.9L1207.1 269.1L1217.9 266.0L1228.8 269.1L1239.6 267.5L1245.8 265.2L1256.7 267.5L1264.4 266.0L1273.7 268.3L1283.0 264.4L1292.3 267.5L1304.7 263.6L1314.0 269.1L1324.9 266.0L1337.3 262.9L1345.0 267.5L1352.8 269.1L1360.5 273.7L1372.9 266.7L1382.2 272.2L1391.6 268.3L1397.8 267.5" stroke="#00ffff" stroke-width="6.5" fill="none" stroke-linejoin="round" stroke-linecap="round"/>
</g>
<defs><clipPath id="clipb"><rect x="130.30" y="429.80" width="1271.00" height="266.20"/></clipPath></defs>
<rect x="134.30" y="433.80" width="1263.00" height="258.20" fill="none" stroke="#262626" stroke-width="1.7"/>
<path d="M134.30 692.00V678.50M134.30 433.80V447.30M344.80 692.00V678.50M344.80 433.80V447.30M555.30 692.00V678.50M555.30 433.80V447.30M765.80 692.00V678.50M765.80 433.80V447.30M976.30 692.00V678.50M976.30 433.80V447.30M1186.80 692.00V678.50M1186.80 433.80V447.30M1397.30 692.00V678.50M1397.30 433.80V447.30M134.30 692.00H147.80M1397.30 692.00H1383.80M134.30 605.93H147.80M1397.30 605.93H1383.80M134.30 519.87H147.80M1397.30 519.87H1383.80M134.30 433.80H147.80M1397.30 433.80H1383.80" stroke="#262626" stroke-width="1.7" fill="none"/>
<text x="134.30" y="748.30" text-anchor="middle" class="t">0</text>
<text x="344.80" y="748.30" text-anchor="middle" class="t">5</text>
<text x="555.30" y="748.30" text-anchor="middle" class="t">10</text>
<text x="765.80" y="748.30" text-anchor="middle" class="t">15</text>
<text x="976.30" y="748.30" text-anchor="middle" class="t">20</text>
<text x="1186.80" y="748.30" text-anchor="middle" class="t">25</text>
<text x="1397.30" y="748.30" text-anchor="middle" class="t">30</text>
<text x="117.00" y="706.60" text-anchor="end" class="t">0</text>
<text x="117.00" y="620.53" text-anchor="end" class="t">0.5</text>
<text x="117.00" y="534.47" text-anchor="end" class="t">1</text>
<text x="117.00" y="448.40" text-anchor="end" class="t">1.5</text>
<text x="770.30" y="800.30" text-anchor="middle" class="tb">(b) Time (s)</text>
<text transform="translate(34.8 563.90) rotate(-90)" text-anchor="middle" class="tb">errors</text>
<g clip-path="url(#clipb)">
<path d="M134.5 500.0L135.5 505.8L136.5 511.3L136.8 512.9L137.5 516.6L138.5 521.6L139.1 524.5L139.5 526.4L140.5 531.1L141.4 535.1L141.5 535.5L142.5 539.8L143.5 543.9L144.2 546.7L144.5 547.9L145.5 551.8L146.5 555.6L147.0 557.5L147.5 559.3L148.5 563.0L149.5 566.6L150.5 570.1L151.5 573.5L152.5 576.9L153.5 580.1L153.9 581.4L154.5 583.3L155.5 586.3L156.5 589.2L157.5 592.0L157.8 592.8L158.5 594.7L159.5 597.2L160.5 599.6L161.5 601.8L161.8 602.4L162.5 603.9L163.5 605.8L164.5 607.5L165.5 609.1L166.4 610.3L166.5 610.4L167.5 611.6L168.5 612.6L169.5 613.5L170.5 614.2L171.5 614.7L172.0 615.0L172.5 615.1L173.5 615.4L174.5 615.6L175.5 615.7L176.5 615.7L177.5 615.6L178.5 615.4L178.9 615.3L179.5 615.2L180.5 614.9L181.5 614.6L182.5 614.2L183.5 613.9L184.5 613.5L185.5 613.2L186.5 612.8L186.8 612.7L187.5 612.5L188.5 612.2L189.5 612.0L190.5 611.7L191.5 611.5L192.5 611.4L193.5 611.3L194.5 611.2L195.5 611.2L195.9 611.2L196.5 611.2L197.5 611.3L198.5 611.4L199.5 611.5L200.5 611.8L201.5 612.0L202.5 612.4L203.5 612.7L203.9 612.9L204.5 613.2L205.5 613.7L206.5 614.2L207.5 614.8L208.5 615.5L209.5 616.2L210.5 617.0L211.5 617.8L211.8 618.0L212.5 618.6L213.5 619.6L214.5 620.5L215.5 621.5L216.5 622.6L217.5 623.7L218.5 624.8L219.5 625.9L220.5 627.2L220.9 627.6L221.5 628.4L222.5 629.7L223.5 631.0L224.5 632.3L225.5 633.7L226.5 635.1L227.5 636.5L228.5 638.0L229.5 639.5L230.0 640.2L230.5 641.0L231.5 642.5L232.5 644.1L233.5 645.6L234.5 647.2L235.0 648.0L235.5 648.8L236.5 650.4L237.5 652.1L238.5 653.7L239.5 655.2L240.5 656.8L241.5 658.3L242.5 659.7L243.5 661.1L244.5 662.4L245.5 663.5L246.5 664.6L247.5 665.6L248.0 666.0L248.5 666.4L249.5 667.1L250.5 667.6L251.5 668.0L252.5 668.1L253.2 668.2L253.5 668.1L254.5 667.9L255.5 667.6L256.5 667.0L257.5 666.3L258.5 665.4L259.5 664.4L260.5 663.3L261.0 662.7L261.5 662.1L262.5 660.8L263.5 659.3L264.5 657.8L265.5 656.3L266.5 654.7L267.5 653.0L268.5 651.3L269.5 649.6L270.1 648.6L270.5 647.9L271.5 646.2L272.5 644.5L273.5 642.9L274.5 641.2L275.5 639.5L276.5 637.9L277.5 636.3L278.5 634.8L279.2 633.7L279.5 633.2L280.5 631.7L281.5 630.3L282.5 628.9L283.5 627.5L284.5 626.3L285.5 625.0L286.5 623.9L287.5 622.8L288.5 621.7L289.5 620.8L290.5 619.9L291.5 619.1L292.5 618.4L293.5 617.7L294.5 617.2L295.5 616.7L296.5 616.2L297.5 615.9L298.5 615.6L298.6 615.6L299.5 615.4L300.5 615.2L301.5 615.1L302.5 615.1L303.5 615.1L304.5 615.2L305.1 615.3L305.5 615.3L306.5 615.5L307.5 615.8L308.5 616.1L309.5 616.4L310.5 616.8L311.5 617.3L312.5 617.8L313.5 618.3L314.5 618.9L315.5 619.5L316.5 620.2L317.5 620.9L318.5 621.7L319.5 622.5L320.5 623.3L321.5 624.1L322.5 625.0L323.5 625.9L324.5 626.9L325.5 627.9L325.9 628.3L326.5 628.9L327.5 629.9L328.5 631.0L329.5 632.0L330.5 633.1L331.5 634.2L332.5 635.4L333.5 636.5L334.5 637.7L335.5 638.9L336.3 639.8L336.5 640.1L337.5 641.3L338.5 642.5L339.5 643.6L340.5 644.8L341.5 645.8L342.5 646.9L343.5 647.8L344.5 648.7L345.0 649.0L345.5 649.4L346.5 650.0L347.5 650.6L348.5 651.2L349.5 651.7L349.7 651.9L350.5 652.4L351.5 653.0L352.5 653.7L353.5 654.4L354.5 655.0L355.5 655.7L356.5 656.3L357.5 656.9L358.5 657.5L359.5 657.9L360.5 658.3L361.5 658.6L361.6 658.6L362.5 658.7L363.5 658.8L364.5 658.7L365.5 658.6L366.5 658.3L367.5 658.0L368.5 657.6L369.5 657.2L370.5 656.7L371.5 656.1L372.5 655.5L373.5 654.8L374.4 654.2L374.5 654.2L375.5 653.5L376.5 652.8L377.5 652.0L378.5 651.3L379.5 650.5L380.5 649.8L381.5 649.0L382.5 648.2L383.5 647.4L384.5 646.7L385.5 645.9L386.5 645.1L387.5 644.3L388.5 643.6L389.2 643.0L389.5 642.8L390.5 642.1L391.5 641.4L392.5 640.7L393.5 640.0L394.5 639.3L395.5 638.7L396.5 638.1L397.5 637.5L398.5 637.0L399.5 636.5L400.5 636.0L401.5 635.6L402.0 635.4L402.5 635.2L403.5 634.9L404.5 634.6L405.5 634.4L406.5 634.2L407.5 634.0L408.5 633.8L409.5 633.7L410.5 633.7L411.5 633.7L411.9 633.7L412.5 633.7L413.5 633.7L414.5 633.8L415.5 633.9L416.5 634.0L417.5 634.2L418.5 634.4L419.5 634.6L420.5 634.8L421.5 635.1L422.5 635.4L423.5 635.7L423.7 635.7L424.5 636.0L425.5 636.3L426.5 636.7L427.5 637.1L428.5 637.5L429.5 637.9L430.5 638.4L431.5 638.8L432.5 639.3L433.5 639.8L434.5 640.2L435.5 640.7L436.5 641.2L437.5 641.7L438.5 642.3L439.5 642.8L440.5 643.3L441.5 643.8L442.5 644.4L443.5 644.9L444.5 645.4L445.5 645.9L446.5 646.3L447.5 646.8L448.5 647.2L449.5 647.7L450.5 648.0L451.5 648.4L452.5 648.7L453.3 648.9L453.5 649.0L454.5 649.2L455.5 649.4L456.5 649.6L457.5 649.7L458.3 649.7L458.5 649.7L459.5 649.7L460.5 649.7L461.5 649.5L462.5 649.4L463.5 649.2L464.5 648.9L465.0 648.8L465.5 648.6L466.5 648.3L467.5 647.9L468.5 647.5L469.5 647.0L470.5 646.5L471.5 646.0L472.5 645.4L472.8 645.3L473.5 644.9L474.5 644.2L475.5 643.6L476.5 642.9L477.5 642.2L478.5 641.5L479.5 640.7L480.5 640.0L480.6 639.9L481.5 639.2L482.5 638.4L483.5 637.6L484.5 636.8L485.5 636.0L486.5 635.1L487.5 634.3L488.5 633.4L489.5 632.6L490.5 631.7L491.0 631.3L491.5 630.8L492.5 630.0L493.5 629.1L494.5 628.3L495.5 627.4L496.5 626.6L497.5 625.8L498.5 625.0L499.5 624.2L500.5 623.5L501.4 622.8L501.5 622.7L502.5 622.0L503.5 621.4L504.5 620.7L505.5 620.1L506.5 619.5L507.5 619.0L508.5 618.5L509.5 618.1L510.5 617.7L511.5 617.3L512.5 617.0L513.5 616.8L514.5 616.6L515.5 616.5L516.5 616.4L517.5 616.4L518.2 616.4L518.5 616.5L519.5 616.6L520.5 616.8L521.5 617.1L522.5 617.4L523.5 617.8L524.5 618.2L525.5 618.7L526.0 619.0L526.5 619.3L527.5 619.9L528.5 620.5L529.5 621.3L530.5 622.0L531.5 622.8L532.5 623.6L533.5 624.5L534.5 625.4L535.1 625.9L535.5 626.3L536.5 627.3L537.5 628.3L538.5 629.3L539.5 630.4L540.5 631.5L541.5 632.6L542.5 633.7L543.5 634.8L544.2 635.7L544.5 636.0L545.5 637.2L546.5 638.4L547.5 639.6L548.5 640.9L549.5 642.1L550.5 643.4L551.5 644.7L552.5 645.9L553.3 647.0L553.5 647.2L554.5 648.5L555.5 649.8L556.5 651.1L557.5 652.3L558.5 653.5L559.5 654.7L560.5 655.8L561.1 656.5L561.5 656.9L562.5 657.9L563.5 658.8L564.5 659.8L565.5 660.7L566.5 661.6L567.5 662.6L568.5 663.5L568.9 663.9L569.5 664.6L570.5 665.6L571.5 666.6L572.5 667.4L573.5 667.9L574.5 668.1L575.0 668.0L575.5 667.9L576.5 667.2L577.5 666.2L578.5 664.9L579.5 663.3L580.5 661.6L581.5 659.7L582.5 657.8L582.8 657.3L583.5 656.0L584.5 654.1L585.5 652.3L586.5 650.6L587.5 648.8L588.5 647.1L589.5 645.4L590.5 643.8L590.6 643.6L591.5 642.1L592.5 640.5L593.5 638.9L594.5 637.3L595.5 635.8L596.5 634.3L597.5 632.8L598.4 631.4L598.5 631.3L599.5 629.9L600.5 628.5L601.5 627.1L602.5 625.8L603.5 624.5L604.5 623.3L605.5 622.1L606.5 620.9L607.5 619.8L608.5 618.8L609.5 617.8L610.5 616.9L611.5 616.0L612.5 615.1L613.5 614.3L614.5 613.6L615.5 612.9L616.5 612.3L617.5 611.7L617.9 611.4L618.5 611.1L619.5 610.6L620.5 610.1L621.5 609.7L622.5 609.3L623.5 609.0L624.5 608.7L625.5 608.5L626.5 608.3L627.5 608.2L628.5 608.1L629.5 608.0L630.5 608.0L630.8 608.0L631.5 608.0L632.5 608.0L633.5 608.1L634.5 608.3L635.5 608.5L636.5 608.7L637.5 608.9L638.5 609.2L639.5 609.6L640.5 610.0L641.5 610.4L642.5 610.8L643.5 611.3L644.5 611.8L645.5 612.4L646.5 613.0L647.5 613.6L648.5 614.2L649.5 614.9L650.5 615.7L651.5 616.4L652.5 617.2L652.9 617.5L653.5 618.0L654.5 618.9L655.5 619.8L656.5 620.7L657.5 621.6L658.5 622.5L659.5 623.4L660.5 624.4L661.5 625.3L662.5 626.2L663.3 627.0L663.5 627.2L664.5 628.1L665.5 629.0L666.5 629.8L667.5 630.7L668.5 631.5L669.5 632.2L670.5 632.9L671.5 633.6L672.5 634.2L673.5 634.8L673.7 634.9L674.5 635.3L675.5 635.8L676.5 636.2L677.5 636.5L678.5 636.8L679.5 637.1L680.5 637.3L681.5 637.4L682.5 637.5L683.5 637.6L684.5 637.6L685.0 637.6L685.5 637.6L686.5 637.5L687.5 637.4L688.5 637.3L689.5 637.2L690.5 637.0L691.5 636.8L692.5 636.6L693.5 636.3L694.5 636.0L695.4 635.8L695.5 635.7L696.5 635.4L697.5 635.1L698.5 634.8L699.5 634.4L700.5 634.1L701.5 633.7L702.5 633.4L703.5 633.0L704.5 632.7L705.5 632.3L706.5 632.0L707.1 631.8L707.5 631.6L708.5 631.3L709.5 631.0L710.5 630.7L711.5 630.4L712.5 630.1L713.5 629.9L714.5 629.6L715.5 629.4L716.5 629.3L717.5 629.1L718.5 629.1L718.8 629.0L719.5 629.0L720.5 629.0L721.5 629.0L722.5 629.1L723.5 629.2L724.5 629.4L725.5 629.6L726.5 629.9L727.5 630.2L728.5 630.6L729.2 630.9L729.5 631.1L730.5 631.6L731.5 632.2L732.5 632.8L733.5 633.5L734.5 634.3L735.5 635.1L736.5 635.9L737.5 636.8L738.5 637.7L739.5 638.6L740.5 639.5L741.5 640.5L742.5 641.5L743.5 642.5L744.5 643.6L745.5 644.6L746.5 645.6L747.5 646.7L748.5 647.7L749.5 648.7L749.9 649.1L750.5 649.7L751.5 650.7L752.5 651.7L753.5 652.6L754.5 653.6L755.5 654.5L756.5 655.3L757.5 656.2L758.5 657.0L759.5 657.8L760.3 658.4L760.5 658.5L761.5 659.2L762.5 659.8L763.5 660.4L764.5 661.0L765.5 661.5L766.5 661.9L767.5 662.3L768.5 662.6L769.5 662.9L770.5 663.1L770.7 663.1L771.5 663.2L772.5 663.3L773.5 663.2L774.5 663.1L775.5 663.0L776.5 662.7L777.5 662.4L778.5 661.9L779.5 661.4L779.8 661.2L780.5 660.8L781.5 660.1L782.5 659.3L783.5 658.5L784.5 657.6L785.5 656.6L786.5 655.6L787.5 654.5L788.5 653.4L788.9 652.9L789.5 652.2L790.5 651.1L791.5 649.9L792.5 648.8L793.5 647.6L794.5 646.4L795.0 645.8L795.5 645.3L796.5 644.1L797.5 643.0L798.5 642.0L799.5 640.9L800.5 639.9L801.5 638.9L802.5 637.9L802.8 637.6L803.5 636.9L804.5 636.0L805.5 635.1L806.5 634.3L807.5 633.4L808.5 632.7L809.5 631.9L810.5 631.2L811.5 630.5L811.9 630.2L812.5 629.8L813.5 629.2L814.5 628.7L815.5 628.1L816.5 627.6L817.5 627.2L818.5 626.8L819.5 626.4L820.5 626.1L821.5 625.8L822.5 625.6L823.5 625.5L824.5 625.3L825.5 625.3L826.2 625.3L826.5 625.3L827.5 625.3L828.5 625.4L829.5 625.5L830.5 625.7L831.5 626.0L832.5 626.3L833.5 626.6L834.5 627.0L835.5 627.5L836.5 628.0L837.5 628.6L838.5 629.2L839.2 629.6L839.5 629.9L840.5 630.6L841.5 631.4L842.5 632.2L843.5 633.1L844.5 634.0L845.5 635.0L846.5 636.0L847.5 637.1L848.5 638.3L849.5 639.5L850.5 640.7L850.8 641.1L851.5 642.0L852.5 643.4L853.5 644.8L854.5 646.2L855.5 647.7L856.5 649.2L857.5 650.8L858.5 652.4L859.5 654.0L859.9 654.6L860.5 655.6L861.5 657.2L862.5 658.9L863.5 660.5L864.5 662.2L865.5 663.9L866.5 665.5L867.5 667.2L867.7 667.5L868.5 668.8L869.5 670.5L870.5 672.1L871.5 673.7L872.5 675.3L873.5 676.8L874.5 678.3L875.5 679.8L876.5 681.2L877.5 682.5L878.5 683.8L879.5 684.9L880.5 685.8L881.5 686.5L882.5 686.9L883.3 687.1L883.5 687.1L884.5 686.9L885.5 686.5L886.5 685.8L887.5 684.9L888.5 683.8L889.5 682.5L890.5 681.1L891.1 680.2L891.5 679.6L892.5 678.0L893.5 676.3L894.5 674.6L895.5 672.8L896.5 670.9L897.5 669.1L897.6 668.9L898.5 667.2L899.5 665.2L900.5 663.3L901.5 661.3L902.5 659.2L903.5 657.0L904.5 654.8L905.0 653.6L905.5 652.4L906.5 650.0L907.5 647.6L908.5 645.3L908.9 644.5L909.5 643.2L910.5 641.3L911.5 639.5L912.5 637.8L913.5 636.3L914.5 634.8L915.4 633.5L915.5 633.3L916.5 631.9L917.5 630.5L918.5 629.2L919.5 627.9L920.5 626.5L921.5 625.3L922.5 624.0L923.2 623.2L923.5 622.8L924.5 621.6L925.5 620.5L926.5 619.4L927.5 618.3L928.5 617.2L929.5 616.2L930.5 615.3L931.5 614.3L932.5 613.5L933.5 612.6L933.6 612.5L934.5 611.8L935.5 611.1L936.5 610.4L937.5 609.7L938.5 609.1L939.5 608.5L940.5 608.0L941.5 607.5L942.5 607.1L943.5 606.7L944.0 606.6L944.5 606.4L945.5 606.2L946.5 606.0L947.5 605.8L948.5 605.7L949.5 605.7L950.5 605.7L951.5 605.7L952.5 605.8L953.1 605.9L953.5 605.9L954.5 606.1L955.5 606.3L956.5 606.6L957.5 606.8L958.5 607.2L959.5 607.5L960.5 607.9L961.5 608.3L962.5 608.8L963.4 609.2L963.5 609.3L964.5 609.8L965.5 610.3L966.5 610.9L967.5 611.4L968.5 612.0L969.5 612.7L970.5 613.3L971.5 613.9L972.5 614.6L973.5 615.3L973.8 615.5L974.5 615.9L975.5 616.6L976.5 617.3L977.5 618.0L978.5 618.7L979.5 619.3L980.5 620.0L981.5 620.7L982.5 621.4L983.5 622.0L984.2 622.5L984.5 622.6L985.5 623.3L986.5 623.9L987.5 624.5L988.5 625.0L989.5 625.6L990.5 626.1L991.5 626.6L992.5 627.1L993.5 627.5L994.5 627.9L994.6 628.0L995.5 628.3L996.5 628.6L997.5 628.9L998.5 629.2L999.5 629.4L1000.5 629.5L1001.5 629.7L1002.5 629.7L1003.5 629.8L1003.7 629.8L1004.5 629.7L1005.5 629.7L1006.5 629.5L1007.5 629.4L1008.5 629.1L1009.5 628.9L1010.5 628.6L1011.5 628.3L1012.5 627.9L1013.5 627.5L1014.5 627.1L1015.0 626.9L1015.5 626.7L1016.5 626.2L1017.5 625.8L1018.5 625.3L1019.5 624.8L1020.5 624.3L1021.5 623.8L1022.5 623.3L1023.0 623.0L1023.5 622.8L1024.5 622.2L1025.5 621.7L1026.5 621.2L1027.5 620.8L1028.5 620.3L1029.5 619.8L1030.5 619.4L1031.5 619.0L1032.1 618.7L1032.5 618.6L1033.5 618.2L1034.5 617.9L1035.5 617.6L1036.5 617.3L1037.5 617.1L1038.5 616.9L1039.5 616.8L1040.5 616.7L1041.2 616.7L1041.5 616.7L1042.5 616.7L1043.5 616.8L1044.5 616.9L1045.5 617.1L1046.5 617.3L1047.5 617.7L1048.5 618.1L1049.5 618.5L1050.5 619.1L1051.5 619.7L1051.6 619.7L1052.5 620.4L1053.5 621.1L1054.5 622.0L1055.5 622.8L1056.5 623.7L1057.5 624.7L1058.5 625.6L1059.5 626.5L1060.5 627.4L1061.5 628.3L1061.9 628.7L1062.5 629.2L1063.5 630.0L1064.5 630.8L1065.5 631.6L1066.5 632.4L1067.5 633.3L1068.5 634.3L1069.5 635.4L1070.0 636.0L1070.5 636.6L1071.5 637.9L1072.5 639.4L1073.5 641.0L1074.5 642.6L1075.5 644.4L1076.5 646.2L1076.8 646.8L1077.5 648.1L1078.5 650.1L1079.5 652.1L1080.5 654.2L1081.5 656.3L1082.5 658.5L1083.5 660.6L1084.5 662.8L1085.5 665.0L1086.5 667.1L1087.5 669.2L1088.5 671.3L1089.5 673.3L1090.5 675.1L1091.5 676.9L1092.5 678.6L1093.5 680.1L1094.5 681.4L1095.5 682.6L1096.5 683.6L1097.5 684.4L1098.5 684.9L1099.5 685.3L1099.6 685.3L1100.5 685.3L1101.5 685.1L1102.5 684.7L1103.5 684.1L1104.5 683.3L1105.5 682.3L1106.5 681.2L1107.5 680.0L1108.5 678.6L1109.5 677.2L1110.5 675.7L1111.5 674.1L1112.3 672.9L1112.5 672.5L1113.5 670.9L1114.5 669.3L1115.5 667.7L1116.5 666.1L1117.5 664.5L1118.5 662.9L1119.0 662.1L1119.5 661.3L1120.5 659.8L1121.5 658.3L1122.5 656.8L1123.5 655.4L1124.5 654.0L1125.5 652.7L1125.8 652.4L1126.5 651.5L1127.5 650.4L1128.5 649.3L1129.5 648.3L1130.5 647.3L1131.5 646.4L1132.5 645.6L1133.5 644.9L1134.3 644.3L1134.5 644.2L1135.5 643.6L1136.5 643.1L1137.5 642.6L1138.5 642.2L1139.5 641.8L1140.5 641.5L1141.5 641.3L1142.5 641.2L1143.5 641.1L1144.4 641.1L1144.5 641.1L1145.5 641.1L1146.5 641.2L1147.5 641.4L1148.5 641.6L1149.5 641.9L1150.5 642.2L1151.5 642.5L1152.5 642.9L1153.5 643.4L1154.5 643.9L1154.6 643.9L1155.5 644.4L1156.5 644.9L1157.5 645.4L1158.5 646.0L1159.5 646.6L1160.5 647.2L1161.5 647.9L1162.5 648.5L1163.0 648.8L1163.5 649.2L1164.5 649.8L1165.5 650.5L1166.5 651.1L1167.5 651.8L1168.5 652.4L1169.5 653.0L1170.5 653.6L1171.5 654.2L1172.5 654.8L1173.5 655.3L1174.5 655.8L1175.5 656.3L1176.5 656.7L1177.5 657.2L1178.5 657.5L1179.5 657.9L1179.9 658.0L1180.5 658.1L1181.5 658.4L1182.5 658.5L1183.5 658.7L1184.5 658.7L1185.0 658.7L1185.5 658.7L1186.5 658.7L1187.5 658.5L1188.5 658.3L1189.5 658.1L1190.5 657.8L1191.5 657.4L1192.5 657.0L1192.8 656.9L1193.5 656.5L1194.5 656.0L1195.5 655.4L1196.5 654.7L1197.5 654.0L1198.5 653.2L1199.5 652.4L1200.5 651.6L1201.5 650.7L1201.9 650.3L1202.5 649.7L1203.5 648.7L1204.5 647.6L1205.5 646.5L1206.5 645.4L1207.5 644.3L1208.5 643.1L1209.5 641.9L1210.5 640.6L1211.0 640.0L1211.5 639.4L1212.5 638.1L1213.5 636.9L1214.5 635.6L1215.5 634.3L1216.5 633.1L1217.5 631.8L1218.5 630.6L1219.5 629.4L1220.5 628.1L1221.4 627.1L1221.5 627.0L1222.5 625.8L1223.5 624.7L1224.5 623.6L1225.5 622.5L1226.5 621.5L1227.5 620.5L1228.5 619.5L1229.5 618.6L1230.5 617.7L1231.5 616.8L1231.8 616.6L1232.5 616.0L1233.5 615.2L1234.5 614.4L1235.5 613.7L1236.5 613.0L1237.5 612.4L1238.5 611.8L1239.5 611.2L1240.5 610.7L1241.5 610.2L1242.1 609.9L1242.5 609.7L1243.5 609.3L1244.5 609.0L1245.5 608.7L1246.5 608.4L1247.5 608.2L1248.5 608.0L1249.5 607.9L1250.5 607.8L1251.2 607.8L1251.5 607.7L1252.5 607.8L1253.5 607.8L1254.5 607.9L1255.5 608.1L1256.5 608.3L1257.5 608.5L1258.5 608.8L1259.5 609.2L1260.5 609.5L1261.5 610.0L1262.5 610.4L1262.9 610.6L1263.5 610.9L1264.5 611.5L1265.5 612.1L1266.5 612.7L1267.5 613.4L1268.5 614.1L1269.5 614.8L1270.5 615.6L1271.5 616.4L1272.5 617.3L1273.3 618.0L1273.5 618.2L1274.5 619.1L1275.5 620.1L1276.5 621.0L1277.5 622.0L1278.5 623.1L1279.5 624.1L1280.5 625.1L1281.5 626.1L1282.5 627.1L1283.5 628.1L1283.7 628.3L1284.5 629.1L1285.5 630.1L1286.5 631.1L1287.5 632.0L1288.5 633.0L1289.5 634.0L1290.5 635.0L1291.5 636.0L1292.5 637.0L1293.5 638.1L1294.5 639.2L1295.0 639.7L1295.5 640.3L1296.5 641.5L1297.5 642.7L1298.5 643.9L1299.5 645.2L1300.5 646.5L1301.5 647.7L1302.5 648.9L1302.8 649.3L1303.5 650.2L1304.5 651.3L1305.5 652.5L1306.5 653.6L1307.5 654.6L1308.5 655.5L1309.5 656.4L1310.5 657.2L1310.6 657.3L1311.5 657.9L1312.5 658.4L1313.5 658.9L1314.5 659.3L1315.5 659.7L1316.5 659.9L1317.5 660.0L1318.5 660.1L1319.5 660.1L1319.7 660.1L1320.5 660.0L1321.5 659.9L1322.5 659.7L1323.5 659.5L1324.5 659.2L1325.5 658.8L1326.5 658.4L1327.5 657.9L1328.5 657.4L1328.8 657.3L1329.5 656.9L1330.5 656.3L1331.5 655.7L1332.5 655.1L1333.5 654.5L1334.5 653.8L1335.5 653.1L1336.5 652.4L1337.5 651.7L1338.5 651.0L1339.2 650.5L1339.5 650.3L1340.5 649.6L1341.5 648.8L1342.5 648.1L1343.5 647.4L1344.5 646.7L1345.5 646.1L1346.5 645.4L1347.5 644.8L1348.5 644.2L1349.5 643.7L1350.5 643.2L1351.5 642.7L1352.5 642.2L1353.5 641.8L1354.5 641.5L1355.5 641.2L1356.5 641.0L1357.5 640.8L1358.5 640.7L1359.5 640.6L1359.9 640.6L1360.5 640.6L1361.5 640.7L1362.5 640.9L1363.5 641.1L1364.5 641.4L1365.5 641.7L1366.5 642.1L1367.5 642.6L1368.5 643.1L1369.5 643.6L1370.3 644.0L1370.5 644.2L1371.5 644.8L1372.5 645.4L1373.5 646.1L1374.5 646.8L1375.5 647.6L1376.5 648.3L1377.5 649.1L1378.5 649.9L1379.5 650.7L1380.5 651.5L1380.7 651.7L1381.5 652.4L1382.5 653.2L1383.5 654.0L1384.5 654.9L1385.5 655.7L1386.5 656.5L1387.5 657.3L1388.5 658.1L1389.5 658.9L1390.5 659.6L1391.5 660.3L1392.5 661.0L1393.5 661.7L1394.5 662.3L1395.5 662.9L1396.5 663.5L1397.3 663.9" stroke="#ff0000" stroke-width="6.5" fill="none" stroke-linejoin="round" stroke-linecap="round"/>
<path d="M134.3 605.3L135.3 606.6L136.3 607.8L137.3 608.9L138.3 609.9L139.3 610.9L140.2 611.7L140.3 611.8L141.3 612.6L142.3 613.4L143.3 614.0L144.3 614.7L145.3 615.2L146.3 615.8L147.0 616.1L147.3 616.2L148.3 616.6L149.3 617.0L150.3 617.3L151.3 617.6L152.3 617.8L153.3 618.0L154.3 618.2L155.3 618.3L156.3 618.4L157.3 618.5L158.0 618.5L158.3 618.5L159.3 618.5L160.3 618.5L161.3 618.5L162.3 618.5L163.3 618.4L164.3 618.3L165.3 618.3L166.3 618.2L167.3 618.1L168.3 618.0L169.3 618.0L170.3 617.9L170.9 617.8L171.3 617.8L172.3 617.8L173.3 617.7L174.3 617.7L175.3 617.7L176.3 617.7L177.3 617.7L178.3 617.7L178.9 617.8L179.3 617.8L180.3 617.9L181.3 618.1L182.3 618.2L183.3 618.4L184.3 618.6L185.3 618.9L186.3 619.2L187.3 619.5L188.0 619.7L188.3 619.8L189.3 620.2L190.3 620.6L191.3 621.0L192.3 621.5L193.3 622.0L194.3 622.5L195.3 623.0L196.3 623.6L197.0 624.0L197.3 624.2L198.3 624.9L199.3 625.6L200.3 626.3L201.3 627.0L202.3 627.8L203.3 628.6L204.3 629.4L205.3 630.3L206.3 631.2L207.3 632.2L208.3 633.1L209.3 634.1L210.3 635.2L211.3 636.3L212.3 637.4L213.3 638.5L214.3 639.7L215.3 640.9L216.3 642.2L216.4 642.3L217.3 643.5L218.3 644.8L219.3 646.1L220.3 647.4L221.3 648.8L222.3 650.2L223.3 651.5L224.0 652.4L224.3 652.8L225.3 654.1L226.3 655.4L227.3 656.7L228.3 657.9L229.3 659.0L230.3 660.1L231.1 660.9L231.3 661.1L232.3 662.1L233.3 663.1L234.3 664.2L235.0 665.1L235.3 665.5L236.3 667.1L237.3 668.7L238.3 670.2L239.3 671.6L240.2 672.7L240.3 672.8L241.3 673.5L242.3 673.9L243.3 674.1L244.3 673.9L245.3 673.6L246.0 673.3L246.3 673.1L247.3 672.5L248.3 671.8L249.3 670.9L250.3 670.0L251.3 669.0L252.3 667.9L253.3 666.7L254.3 665.4L255.0 664.5L255.3 664.1L256.3 662.8L257.3 661.4L258.3 659.9L259.3 658.5L260.3 657.0L261.3 655.5L262.3 654.1L263.3 652.6L264.3 651.1L265.0 650.1L265.3 649.7L266.3 648.3L267.3 646.9L268.3 645.6L269.3 644.3L270.3 643.0L271.3 641.8L272.3 640.6L273.3 639.4L274.3 638.3L275.3 637.2L276.3 636.2L277.3 635.2L278.0 634.5L278.3 634.2L279.3 633.3L280.3 632.4L281.3 631.5L282.3 630.7L283.3 629.9L284.3 629.2L285.3 628.5L286.3 627.9L287.3 627.3L288.3 626.8L289.3 626.3L290.3 625.8L291.3 625.4L292.3 625.1L293.3 624.8L293.4 624.7L294.3 624.5L295.3 624.3L296.3 624.2L297.3 624.1L298.3 624.0L298.6 624.0L299.3 624.0L300.3 624.1L301.3 624.2L302.3 624.4L303.3 624.6L304.3 624.9L305.3 625.3L306.3 625.7L307.3 626.1L308.0 626.5L308.3 626.6L309.3 627.2L310.3 627.9L311.3 628.5L312.3 629.3L313.3 630.1L314.3 631.0L315.3 632.0L316.3 633.0L317.3 634.0L318.3 635.2L319.3 636.4L319.4 636.5L320.3 637.7L321.3 639.0L322.3 640.3L323.3 641.6L324.3 643.0L325.3 644.2L325.9 645.0L326.3 645.5L327.3 646.6L328.3 647.7L329.3 648.7L330.3 649.7L331.3 650.7L332.3 651.6L333.3 652.5L334.3 653.4L335.0 654.0L335.3 654.3L336.3 655.2L337.3 656.1L338.3 657.0L339.3 657.9L340.3 658.8L341.3 659.7L342.3 660.6L343.3 661.5L344.1 662.3L344.3 662.4L345.3 663.4L346.3 664.3L346.7 664.6L347.3 665.2L348.3 666.1L349.3 666.9L350.3 667.7L351.3 668.4L352.3 668.9L353.3 669.3L353.4 669.3L354.3 669.5L355.3 669.5L356.3 669.3L357.3 669.0L358.3 668.6L359.3 668.0L360.3 667.4L361.3 666.7L362.3 665.9L363.3 665.0L364.3 664.1L365.3 663.2L366.3 662.3L366.8 661.9L367.3 661.4L368.3 660.5L369.3 659.6L370.3 658.8L371.3 658.0L372.3 657.1L373.3 656.3L374.3 655.5L375.3 654.8L376.3 654.0L377.3 653.3L378.3 652.6L379.3 651.9L380.3 651.3L381.3 650.6L382.3 650.0L382.4 650.0L383.3 649.4L384.3 648.9L385.3 648.3L386.3 647.8L387.3 647.3L388.3 646.8L389.3 646.4L390.3 646.0L391.3 645.6L392.3 645.2L393.3 644.9L394.3 644.6L395.3 644.3L396.3 644.1L397.3 643.8L398.0 643.7L398.3 643.7L399.3 643.5L400.3 643.4L401.3 643.3L402.3 643.2L403.3 643.1L404.3 643.1L405.3 643.1L406.3 643.2L407.3 643.2L408.3 643.3L409.3 643.4L410.3 643.6L411.3 643.8L411.4 643.8L412.3 643.9L413.3 644.2L414.3 644.4L415.3 644.7L416.3 645.0L417.3 645.3L418.3 645.6L419.3 646.0L420.3 646.3L421.3 646.7L422.3 647.1L423.3 647.6L424.3 648.0L424.8 648.3L425.3 648.5L426.3 649.0L427.3 649.5L428.3 650.1L429.3 650.6L430.3 651.1L431.3 651.7L432.3 652.2L433.3 652.8L434.3 653.3L435.3 653.9L436.3 654.4L437.3 654.9L438.3 655.5L439.3 656.0L440.3 656.4L440.4 656.5L441.3 656.9L442.3 657.3L443.3 657.7L444.3 658.1L445.3 658.4L446.3 658.7L447.3 659.0L448.3 659.2L449.3 659.4L450.3 659.5L451.3 659.6L452.3 659.7L453.3 659.6L454.3 659.6L455.3 659.4L456.0 659.3L456.3 659.2L457.3 659.0L458.3 658.7L459.3 658.3L460.3 657.9L461.3 657.4L462.3 656.9L463.3 656.3L464.3 655.7L465.0 655.2L465.3 655.0L466.3 654.3L467.3 653.6L468.3 652.8L469.3 652.0L470.3 651.2L471.3 650.3L472.3 649.5L473.3 648.6L474.3 647.6L475.3 646.7L476.3 645.8L477.3 644.8L478.3 643.9L479.3 642.9L480.3 642.0L480.6 641.7L481.3 641.0L482.3 640.1L483.3 639.1L484.3 638.2L485.3 637.3L486.3 636.4L487.3 635.5L488.3 634.6L489.3 633.7L490.3 632.9L491.3 632.0L492.3 631.2L493.3 630.5L494.3 629.7L494.9 629.3L495.3 629.0L496.3 628.3L497.3 627.6L498.3 627.0L499.3 626.4L500.3 625.9L501.3 625.4L502.3 624.9L503.3 624.5L504.3 624.1L505.3 623.8L506.3 623.5L507.3 623.3L508.3 623.1L509.3 623.0L510.3 623.0L511.3 623.0L512.3 623.0L513.3 623.1L514.3 623.3L514.4 623.4L515.3 623.6L516.3 623.9L517.3 624.3L518.3 624.7L519.3 625.1L520.3 625.5L521.3 625.9L522.3 626.4L523.3 626.8L523.4 626.8L524.3 627.1L525.3 627.5L526.3 627.9L527.3 628.3L528.3 628.8L529.3 629.4L530.3 630.1L531.2 631.0L531.3 631.1L532.3 632.2L533.3 633.4L534.3 634.8L535.3 636.3L536.3 637.9L537.0 639.0L537.3 639.5L538.3 641.2L539.3 642.9L540.3 644.6L541.3 646.4L542.3 648.1L542.9 649.1L543.3 649.8L544.3 651.5L545.3 653.2L546.3 654.8L547.3 656.4L548.3 658.0L549.3 659.5L550.3 660.9L551.3 662.3L552.0 663.1L552.3 663.5L553.3 664.7L554.3 665.8L555.3 666.7L556.3 667.6L557.3 668.4L558.3 669.1L559.3 669.7L560.3 670.2L561.0 670.5L561.3 670.6L562.3 670.8L563.3 671.0L564.3 671.1L565.3 671.1L566.3 670.9L567.3 670.7L568.3 670.3L569.3 669.8L570.2 669.3L570.3 669.2L571.3 668.5L572.3 667.7L573.3 666.8L574.3 665.8L575.0 665.1L575.3 664.8L576.3 663.7L577.3 662.5L578.3 661.3L579.3 660.1L580.3 658.8L581.3 657.5L582.3 656.2L582.8 655.6L583.3 655.0L584.3 653.7L585.3 652.4L586.3 651.2L587.3 649.9L588.3 648.7L589.3 647.4L590.3 646.1L591.3 644.7L592.3 643.4L593.2 642.1L593.3 642.0L594.3 640.6L595.3 639.1L596.3 637.6L597.3 636.2L598.3 634.7L599.3 633.2L600.3 631.8L601.3 630.5L602.3 629.2L603.3 627.9L604.3 626.8L605.3 625.7L606.3 624.7L607.3 623.7L608.3 622.8L609.3 622.0L610.3 621.2L611.3 620.5L612.0 620.0L612.3 619.8L613.3 619.2L614.3 618.7L615.3 618.3L616.3 617.8L617.3 617.5L618.3 617.2L619.3 617.0L620.3 616.8L621.3 616.6L622.3 616.5L623.3 616.5L624.3 616.5L624.4 616.5L625.3 616.6L626.3 616.7L627.3 616.9L628.3 617.1L629.3 617.4L630.3 617.7L631.3 618.0L632.3 618.4L633.3 618.8L633.4 618.9L634.3 619.3L635.3 619.8L636.3 620.4L637.3 621.0L638.3 621.6L639.3 622.3L640.3 623.0L641.2 623.6L641.3 623.7L642.3 624.5L643.3 625.3L644.3 626.1L645.3 626.9L646.3 627.8L647.3 628.6L648.3 629.5L649.0 630.1L649.3 630.4L650.3 631.2L651.3 632.1L652.3 633.0L653.3 633.8L654.3 634.6L655.3 635.4L656.3 636.2L656.8 636.5L657.3 636.9L658.3 637.6L659.3 638.2L660.3 638.9L661.3 639.5L662.3 640.1L663.3 640.8L664.3 641.4L665.3 642.0L665.9 642.4L666.3 642.7L667.3 643.4L668.3 644.1L669.3 644.8L670.3 645.5L671.3 646.1L672.3 646.8L672.4 646.8L673.3 647.4L674.3 647.9L675.3 648.4L676.3 648.8L677.3 649.1L678.3 649.4L679.3 649.5L680.3 649.5L681.3 649.4L682.3 649.1L683.3 648.7L684.3 648.2L685.0 647.7L685.3 647.5L686.3 646.6L687.3 645.6L688.3 644.6L689.3 643.6L690.2 642.8L690.3 642.7L691.3 642.0L692.3 641.3L693.3 640.8L694.3 640.3L695.3 640.0L696.3 639.7L697.3 639.4L698.3 639.2L699.3 639.0L700.0 638.9L700.3 638.9L701.3 638.7L702.3 638.5L703.3 638.4L704.3 638.2L705.3 638.1L706.3 638.0L707.3 637.8L708.3 637.8L709.3 637.7L710.3 637.6L711.3 637.6L712.0 637.6L712.3 637.6L713.3 637.6L714.3 637.6L715.3 637.7L716.3 637.8L717.3 638.0L718.3 638.1L719.3 638.4L720.3 638.6L721.3 638.9L722.3 639.3L723.3 639.6L724.0 639.9L724.3 640.1L725.3 640.6L726.3 641.1L727.3 641.6L728.3 642.2L729.3 642.8L730.3 643.4L731.3 644.0L732.3 644.6L733.0 645.0L733.3 645.2L734.3 645.7L735.3 646.3L736.3 646.8L737.3 647.4L738.3 648.0L739.3 648.6L740.3 649.3L741.3 650.0L742.3 650.8L743.3 651.6L743.4 651.7L744.3 652.6L745.3 653.6L746.3 654.7L747.3 655.9L748.3 657.1L749.3 658.3L750.3 659.5L751.3 660.8L752.3 662.1L753.3 663.4L754.3 664.6L755.3 665.8L756.3 667.0L757.3 668.1L757.7 668.5L758.3 669.2L759.3 670.1L760.3 671.0L761.3 671.8L762.3 672.5L763.3 673.1L764.3 673.6L765.3 673.9L765.5 673.9L766.3 674.0L767.3 674.0L768.3 673.9L769.3 673.7L770.3 673.3L771.3 672.8L772.0 672.4L772.3 672.2L773.3 671.5L774.3 670.7L775.3 669.9L776.3 669.0L777.3 668.0L778.3 667.0L779.3 665.9L780.0 665.1L780.3 664.8L781.3 663.6L782.3 662.5L783.3 661.2L784.3 660.0L785.3 658.6L786.3 657.3L787.3 655.8L787.6 655.3L788.3 654.3L789.3 652.7L790.3 651.2L791.3 649.8L792.3 648.6L793.3 647.6L794.1 647.0L794.3 646.9L795.3 646.6L796.3 646.4L797.3 646.2L797.6 646.1L798.3 645.8L799.3 645.3L800.3 644.5L801.3 643.6L802.3 642.7L803.3 641.6L804.3 640.6L805.3 639.5L806.3 638.5L807.0 637.9L807.3 637.6L808.3 636.9L809.3 636.2L810.3 635.7L811.3 635.2L812.3 634.9L813.3 634.6L814.3 634.4L815.3 634.2L816.3 634.1L817.3 634.0L818.3 634.0L818.4 634.0L819.3 634.0L820.3 634.1L821.3 634.1L822.3 634.2L823.3 634.3L824.3 634.5L825.3 634.7L826.3 635.0L827.3 635.3L827.5 635.3L828.3 635.6L829.3 636.0L830.3 636.4L831.3 636.9L832.3 637.5L833.3 638.1L834.3 638.7L835.3 639.5L836.3 640.2L836.6 640.5L837.3 641.1L838.3 642.0L839.3 643.0L840.3 644.0L841.3 645.0L842.3 646.1L843.3 647.2L844.3 648.3L845.3 649.5L846.3 650.6L847.3 651.7L848.3 652.8L849.3 653.9L849.5 654.2L850.3 655.0L851.3 656.1L852.3 657.1L853.3 658.2L854.3 659.2L855.3 660.3L856.3 661.4L857.3 662.6L858.3 663.8L859.3 665.1L860.3 666.5L861.3 667.9L862.3 669.5L862.5 669.8L863.3 671.2L864.3 673.0L865.3 674.8L866.3 676.8L867.3 678.9L868.0 680.4L868.3 681.0L869.3 683.2L870.3 685.2L871.3 687.0L872.3 688.3L872.9 688.8L873.3 689.1L874.3 689.2L875.3 688.8L876.3 688.1L877.3 687.1L878.0 686.4L878.3 686.1L879.3 685.0L880.3 683.9L881.3 682.7L882.3 681.5L883.3 680.2L884.3 678.9L885.3 677.4L886.3 675.9L887.3 674.2L888.3 672.4L889.3 670.5L890.3 668.4L891.0 666.8L891.3 666.1L892.3 663.7L893.3 661.2L894.3 658.9L895.3 656.7L896.3 654.8L897.3 653.3L898.3 652.3L898.9 652.1L899.3 652.0L900.3 652.3L901.3 653.0L902.3 653.8L903.3 654.5L904.3 654.7L905.0 654.6L905.3 654.4L906.3 653.3L907.3 651.6L908.3 649.5L909.3 647.0L910.3 644.5L911.3 642.0L912.0 640.3L912.3 639.6L913.3 637.5L914.3 635.7L915.3 634.1L916.3 632.7L917.3 631.5L918.3 630.3L919.3 629.3L920.3 628.4L920.6 628.1L921.3 627.5L922.3 626.6L923.3 625.7L924.3 624.9L925.3 624.1L926.3 623.4L927.3 622.6L928.0 622.2L928.3 622.0L929.3 621.3L930.3 620.7L931.3 620.1L932.3 619.6L933.3 619.1L934.3 618.7L935.3 618.3L936.2 617.9L936.3 617.9L937.3 617.6L938.3 617.3L939.3 617.0L940.3 616.8L941.3 616.6L942.3 616.5L943.3 616.4L944.3 616.4L945.3 616.4L946.0 616.4L946.3 616.4L947.3 616.4L948.3 616.6L949.3 616.7L950.3 616.9L951.3 617.1L952.3 617.4L953.3 617.7L954.3 618.0L955.3 618.4L956.3 618.9L956.9 619.1L957.3 619.3L958.3 619.8L959.3 620.4L960.3 621.0L961.3 621.6L962.3 622.2L963.3 622.9L964.3 623.6L965.3 624.3L966.3 625.0L967.3 625.8L968.3 626.5L969.3 627.3L970.3 628.1L971.3 628.9L972.3 629.7L972.5 629.9L973.3 630.5L974.3 631.3L975.3 632.1L976.3 633.0L977.3 633.7L978.3 634.5L979.3 635.3L980.3 636.1L981.0 636.6L981.3 636.8L982.3 637.5L983.3 638.2L984.3 638.9L985.3 639.6L986.3 640.2L987.3 640.8L988.3 641.3L989.3 641.9L989.4 641.9L990.3 642.3L991.3 642.8L992.3 643.2L993.3 643.5L994.3 643.8L995.3 644.1L996.3 644.3L997.3 644.5L998.3 644.5L998.5 644.5L999.3 644.6L1000.3 644.5L1001.3 644.4L1002.3 644.2L1003.3 643.9L1004.3 643.4L1005.3 642.8L1006.3 642.1L1007.3 641.3L1007.6 641.0L1008.3 640.3L1009.3 639.1L1010.3 637.8L1011.3 636.6L1012.3 635.3L1013.3 634.0L1014.3 632.8L1015.3 631.8L1016.0 631.1L1016.3 630.9L1017.3 630.2L1018.3 629.7L1019.3 629.3L1020.3 628.9L1021.3 628.7L1022.3 628.4L1023.0 628.2L1023.3 628.2L1024.3 627.8L1025.3 627.5L1026.3 627.1L1027.3 626.8L1028.3 626.4L1029.3 626.0L1030.3 625.6L1031.3 625.3L1032.0 625.0L1032.3 624.9L1033.3 624.6L1034.3 624.4L1035.3 624.1L1036.3 624.0L1037.3 623.9L1038.3 623.8L1039.3 623.8L1040.3 623.9L1041.3 624.1L1042.3 624.3L1042.5 624.4L1043.3 624.7L1044.3 625.1L1045.3 625.6L1046.3 626.1L1047.3 626.7L1048.3 627.4L1049.3 628.1L1050.3 628.8L1051.3 629.5L1052.0 630.0L1052.3 630.3L1053.3 631.0L1054.3 631.8L1055.3 632.6L1056.3 633.4L1057.3 634.2L1058.3 635.1L1059.3 636.0L1060.3 637.0L1061.3 638.0L1061.9 638.6L1062.3 639.1L1063.3 640.2L1064.3 641.4L1065.3 642.7L1066.3 644.1L1067.3 645.6L1068.3 647.1L1069.3 648.8L1070.3 650.6L1071.0 651.9L1071.3 652.5L1072.3 654.5L1073.3 656.5L1074.3 658.6L1075.3 660.6L1076.3 662.5L1077.1 664.0L1077.3 664.4L1078.3 666.0L1079.3 667.7L1080.3 669.4L1081.0 670.7L1081.3 671.2L1082.3 673.3L1083.3 675.6L1084.3 677.9L1085.3 680.2L1086.3 682.3L1086.9 683.5L1087.3 684.3L1088.3 685.9L1089.3 687.2L1090.3 688.0L1091.3 688.3L1092.3 688.2L1093.3 687.5L1094.3 686.6L1095.3 685.3L1096.3 683.8L1097.3 682.0L1098.3 680.2L1099.3 678.3L1100.0 677.0L1100.3 676.4L1101.3 674.5L1102.3 672.7L1103.3 670.9L1104.3 669.2L1105.3 667.5L1106.3 665.8L1107.3 664.2L1108.3 662.7L1108.9 661.8L1109.3 661.2L1110.3 659.8L1111.3 658.4L1112.3 657.1L1113.3 655.9L1114.3 654.8L1115.3 653.7L1115.7 653.3L1116.3 652.6L1117.3 651.7L1118.3 650.8L1119.3 650.0L1120.3 649.3L1121.3 648.6L1122.3 647.9L1123.3 647.4L1124.0 647.0L1124.3 646.8L1125.3 646.4L1126.3 645.9L1127.3 645.6L1128.3 645.2L1129.3 644.9L1130.3 644.7L1131.3 644.4L1132.3 644.3L1133.3 644.1L1134.3 644.0L1135.3 643.9L1136.3 643.8L1137.3 643.7L1138.3 643.7L1139.3 643.7L1140.3 643.8L1141.3 643.9L1142.3 644.0L1142.7 644.1L1143.3 644.2L1144.3 644.5L1145.3 644.8L1146.3 645.2L1147.3 645.6L1148.3 646.1L1149.3 646.7L1150.3 647.3L1151.3 648.0L1152.3 648.8L1153.3 649.6L1154.3 650.5L1155.3 651.4L1156.3 652.4L1157.3 653.3L1158.0 654.0L1158.3 654.3L1159.3 655.3L1160.3 656.3L1161.3 657.2L1162.3 658.1L1163.3 659.0L1164.3 659.9L1165.3 660.7L1165.6 660.9L1166.3 661.4L1167.3 662.0L1168.3 662.7L1169.3 663.2L1170.3 663.7L1171.3 664.2L1172.3 664.6L1173.3 665.1L1174.3 665.5L1175.3 665.9L1175.7 666.0L1176.3 666.3L1177.3 666.7L1178.3 667.0L1179.3 667.2L1180.3 667.4L1181.3 667.3L1182.3 667.1L1183.3 666.7L1184.3 666.0L1185.3 665.2L1186.3 664.2L1187.3 663.1L1188.3 662.0L1189.3 660.9L1190.0 660.2L1190.3 659.9L1191.3 659.1L1192.3 658.3L1193.3 657.6L1194.3 657.0L1195.3 656.4L1196.3 655.8L1197.3 655.3L1198.3 654.7L1199.3 654.0L1200.3 653.3L1201.3 652.5L1202.3 651.7L1203.3 650.8L1204.3 649.9L1205.3 648.9L1206.3 647.9L1207.3 646.9L1208.3 645.8L1209.3 644.7L1210.3 643.6L1211.0 642.8L1211.3 642.5L1212.3 641.4L1213.3 640.3L1214.3 639.1L1215.3 638.0L1216.3 637.0L1217.3 635.9L1218.3 634.9L1219.0 634.2L1219.3 633.9L1220.3 632.9L1221.3 631.9L1222.3 631.1L1223.3 630.2L1224.3 629.4L1225.3 628.6L1226.3 627.8L1227.3 627.1L1227.9 626.7L1228.3 626.5L1229.3 625.9L1230.3 625.3L1231.3 624.8L1232.3 624.3L1233.3 623.8L1234.3 623.4L1235.3 623.1L1236.0 622.8L1236.3 622.7L1237.3 622.5L1238.3 622.3L1239.3 622.1L1240.3 622.0L1241.3 621.9L1242.3 621.9L1243.3 621.9L1244.3 622.0L1244.7 622.0L1245.3 622.1L1246.3 622.3L1247.3 622.5L1248.3 622.8L1249.3 623.1L1250.3 623.5L1251.3 623.9L1252.3 624.3L1253.3 624.7L1254.0 625.1L1254.3 625.2L1255.3 625.7L1256.3 626.2L1257.3 626.8L1258.3 627.3L1259.3 627.9L1260.3 628.5L1261.3 629.1L1262.3 629.6L1263.3 630.2L1264.2 630.8L1264.3 630.8L1265.3 631.4L1266.3 632.0L1267.3 632.6L1268.3 633.2L1269.3 633.9L1270.3 634.5L1271.3 635.3L1272.3 636.1L1273.3 636.9L1274.3 637.8L1275.3 638.8L1276.3 639.9L1277.3 641.1L1278.3 642.4L1278.5 642.7L1279.3 643.8L1280.3 645.3L1281.3 646.9L1282.3 648.5L1283.3 650.0L1284.3 651.6L1285.3 653.1L1286.3 654.5L1287.3 655.8L1288.3 657.0L1289.3 657.9L1290.3 658.7L1291.3 659.2L1291.5 659.3L1292.3 659.5L1293.3 659.6L1294.3 659.6L1295.0 659.7L1295.3 659.8L1296.3 660.1L1297.3 660.5L1298.3 661.1L1299.3 661.7L1300.3 662.4L1301.3 663.2L1302.3 663.9L1303.3 664.6L1304.3 665.2L1305.3 665.8L1306.3 666.2L1307.3 666.5L1308.0 666.6L1308.3 666.6L1309.3 666.5L1310.3 666.2L1311.3 665.8L1312.3 665.3L1313.3 664.7L1314.3 664.0L1315.3 663.2L1316.3 662.5L1317.0 662.0L1317.3 661.7L1318.3 661.0L1319.3 660.3L1320.3 659.6L1321.3 658.9L1322.3 658.2L1323.3 657.6L1324.3 656.9L1325.3 656.3L1326.2 655.7L1326.3 655.6L1327.3 655.0L1328.3 654.4L1329.3 653.7L1330.3 653.1L1331.3 652.5L1332.3 651.9L1333.3 651.3L1334.3 650.7L1335.3 650.2L1336.3 649.6L1337.3 649.1L1338.3 648.6L1339.3 648.1L1340.3 647.6L1341.3 647.2L1342.3 646.8L1343.1 646.5L1343.3 646.4L1344.3 646.0L1345.3 645.7L1346.3 645.4L1347.3 645.1L1348.3 644.9L1349.3 644.6L1350.3 644.5L1351.3 644.3L1352.0 644.3L1352.3 644.3L1353.3 644.2L1354.3 644.2L1355.3 644.2L1356.3 644.3L1357.3 644.4L1358.3 644.5L1359.3 644.7L1360.3 644.9L1361.3 645.2L1362.3 645.5L1362.5 645.5L1363.3 645.8L1364.3 646.1L1365.3 646.5L1366.3 646.9L1367.3 647.4L1368.3 647.9L1369.3 648.4L1370.3 648.9L1371.3 649.5L1372.3 650.1L1373.3 650.7L1374.3 651.4L1375.3 652.1L1376.3 652.8L1377.3 653.6L1378.1 654.2L1378.3 654.3L1379.3 655.1L1380.3 655.9L1381.3 656.8L1382.3 657.6L1383.3 658.5L1384.3 659.4L1385.3 660.4L1386.3 661.3L1387.0 662.0L1387.3 662.3L1388.3 663.3L1389.3 664.3L1390.3 665.3L1391.3 666.4L1392.3 667.4L1393.3 668.5L1394.3 669.6L1395.3 670.7L1396.3 671.9L1397.3 673.0" stroke="#00ff00" stroke-width="6.5" fill="none" stroke-linejoin="round" stroke-linecap="butt" stroke-dasharray="19 19"/>
<path d="M134.5 572.8L135.5 575.3L136.5 578.0L137.4 580.7L137.5 581.0L138.5 584.0L139.5 587.2L140.5 590.3L140.8 591.2L141.5 593.3L142.5 596.3L143.5 599.0L144.2 600.7L144.5 601.4L145.5 603.6L146.5 605.4L147.5 606.9L148.5 608.2L149.3 609.0L149.5 609.2L150.5 610.0L151.5 610.5L152.5 610.9L153.5 611.0L154.5 611.0L155.5 610.8L156.5 610.4L157.5 609.9L158.4 609.4L158.5 609.3L159.5 608.6L160.5 607.8L161.5 606.9L162.5 605.9L163.5 604.9L164.5 603.9L165.2 603.2L165.5 602.9L166.5 601.8L167.5 600.8L168.5 599.7L169.5 598.7L170.5 597.6L171.5 596.6L172.0 596.1L172.5 595.6L173.5 594.6L174.5 593.6L175.5 592.6L176.5 591.6L177.5 590.6L178.5 589.7L178.9 589.3L179.5 588.8L180.5 587.9L181.5 587.0L182.5 586.2L183.5 585.4L184.5 584.6L185.5 583.9L186.5 583.2L187.5 582.6L188.5 581.9L189.1 581.6L189.5 581.4L190.5 580.9L191.5 580.4L192.5 580.0L193.5 579.6L194.5 579.3L195.5 579.0L196.5 578.8L197.5 578.7L198.2 578.6L198.5 578.6L199.5 578.6L200.5 578.7L201.5 578.8L202.5 579.0L203.5 579.3L204.5 579.6L205.0 579.8L205.5 580.0L206.5 580.5L207.5 581.1L208.5 581.8L209.5 582.6L210.5 583.4L211.5 584.3L212.5 585.4L213.0 585.9L213.5 586.5L214.5 587.7L215.5 589.0L216.5 590.4L217.5 591.8L218.5 593.4L219.5 594.9L219.8 595.4L220.5 596.5L221.5 598.2L222.5 599.9L223.5 601.6L224.3 603.0L224.5 603.3L225.5 605.0L226.5 606.8L227.5 608.5L228.5 610.2L228.9 610.9L229.5 611.9L230.5 613.6L231.5 615.2L232.3 616.4L232.5 616.8L233.5 618.3L234.5 620.2L235.0 621.3L235.5 622.6L236.5 625.6L237.5 628.7L237.6 629.0L238.5 631.5L239.5 634.1L240.5 636.6L241.5 638.9L242.5 641.3L243.5 643.5L244.5 645.8L245.4 647.7L245.5 648.0L246.5 650.0L247.5 651.9L248.5 653.5L249.5 654.8L250.5 655.5L250.6 655.6L251.5 655.8L252.5 655.5L253.5 654.8L254.5 653.9L255.5 652.6L256.5 651.3L257.1 650.4L257.5 649.8L258.5 648.4L259.5 646.9L260.5 645.4L261.5 643.9L262.5 642.4L263.5 640.9L264.5 639.3L264.9 638.7L265.5 637.7L266.5 636.1L267.5 634.4L268.5 632.7L269.5 631.1L270.5 629.4L271.5 627.6L272.5 625.9L273.5 624.2L274.0 623.4L274.5 622.5L275.5 620.8L276.5 619.1L277.5 617.4L278.5 615.7L279.5 614.1L280.5 612.4L281.5 610.8L282.5 609.2L283.5 607.7L284.5 606.2L285.5 604.7L286.5 603.3L287.5 601.9L288.2 601.0L288.5 600.6L289.5 599.4L290.5 598.2L291.5 597.0L292.5 595.9L293.5 594.9L294.5 593.9L295.5 592.9L296.5 592.1L297.5 591.3L298.5 590.5L298.6 590.4L299.5 589.8L300.5 589.2L301.5 588.6L302.5 588.1L303.5 587.6L304.5 587.2L305.5 586.9L306.5 586.6L307.5 586.4L308.5 586.2L309.0 586.2L309.5 586.1L310.5 586.1L311.5 586.1L312.5 586.2L313.5 586.4L314.5 586.6L315.5 586.9L316.5 587.3L317.5 587.7L318.5 588.2L319.4 588.7L319.5 588.7L320.5 589.3L321.5 590.0L322.5 590.8L323.5 591.5L324.5 592.4L325.5 593.3L326.5 594.2L327.5 595.2L328.5 596.2L329.5 597.2L330.5 598.3L331.5 599.4L332.5 600.5L333.5 601.6L334.5 602.7L335.5 603.9L336.3 604.8L336.5 605.0L337.5 606.2L338.5 607.4L339.5 608.8L340.5 610.4L341.5 612.3L342.5 614.6L342.8 615.4L343.5 617.3L344.5 620.3L345.5 623.4L346.5 626.4L347.5 629.2L347.8 629.9L348.5 631.5L349.5 633.4L350.5 634.9L351.5 636.2L352.5 637.3L352.7 637.6L353.5 638.4L354.5 639.5L355.5 640.6L356.5 641.5L357.5 642.5L358.5 643.3L359.5 644.0L360.5 644.6L360.6 644.6L361.5 645.0L362.5 645.3L363.5 645.5L364.5 645.6L365.5 645.6L366.5 645.4L367.5 645.1L368.5 644.8L369.5 644.3L370.5 643.8L371.5 643.2L372.5 642.5L373.5 641.7L374.5 640.9L375.5 640.1L376.5 639.2L377.4 638.3L377.5 638.2L378.5 637.2L379.5 636.2L380.5 635.1L381.5 634.1L382.5 633.0L383.5 631.9L384.3 631.1L384.5 630.8L385.5 629.8L386.5 628.7L387.5 627.7L388.5 626.6L389.5 625.6L390.5 624.6L391.2 623.9L391.5 623.6L392.5 622.6L393.5 621.7L394.5 620.7L395.5 619.8L396.5 619.0L397.5 618.1L398.5 617.3L399.5 616.5L400.5 615.8L401.5 615.0L402.5 614.4L402.5 614.4L403.5 613.7L404.5 613.1L405.5 612.6L406.5 612.1L407.5 611.6L408.5 611.2L409.5 610.8L410.5 610.5L411.5 610.2L412.5 610.0L413.5 609.9L414.5 609.8L415.5 609.8L415.9 609.8L416.5 609.8L417.5 609.9L418.5 610.1L419.5 610.3L420.5 610.6L421.5 610.9L422.5 611.3L423.5 611.7L424.5 612.1L425.5 612.6L426.5 613.2L427.5 613.7L428.5 614.3L429.2 614.8L429.5 614.9L430.5 615.6L431.5 616.2L432.5 616.9L433.5 617.6L434.5 618.3L435.5 619.1L436.5 619.8L437.5 620.5L438.5 621.3L439.5 622.0L440.5 622.7L441.5 623.5L442.5 624.2L443.5 624.9L444.5 625.6L445.5 626.2L446.5 626.9L447.5 627.5L448.5 628.1L449.5 628.7L450.5 629.2L451.3 629.6L451.5 629.7L452.5 630.2L453.5 630.6L454.5 631.0L455.5 631.4L456.5 631.7L457.5 632.1L458.5 632.4L459.5 632.8L460.2 633.0L460.5 633.1L461.5 633.5L462.5 633.7L463.5 633.8L464.5 633.6L465.0 633.4L465.5 633.1L466.5 632.3L467.5 631.2L468.5 629.9L469.5 628.4L470.5 626.8L471.5 625.2L472.5 623.6L472.8 623.2L473.5 622.1L474.5 620.7L475.5 619.4L476.5 618.1L477.5 617.0L478.5 615.9L479.5 614.9L480.5 613.9L480.6 613.8L481.5 613.0L482.5 612.1L483.5 611.3L484.5 610.5L485.5 609.7L486.5 609.0L487.5 608.2L488.5 607.5L489.5 606.7L489.7 606.5L490.5 605.9L491.5 605.1L492.5 604.2L493.5 603.3L494.5 602.5L495.5 601.6L496.5 600.7L497.5 599.8L498.5 598.9L499.5 598.0L500.5 597.2L501.5 596.3L502.5 595.4L503.5 594.6L504.0 594.2L504.5 593.8L505.5 593.0L506.5 592.3L507.5 591.5L508.5 590.8L509.5 590.2L510.5 589.6L511.5 589.0L511.8 588.9L512.5 588.5L513.5 588.0L514.5 587.6L515.5 587.3L516.5 587.0L517.5 586.7L518.5 586.5L519.5 586.4L520.5 586.3L520.8 586.3L521.5 586.3L522.5 586.3L523.5 586.4L524.5 586.5L525.5 586.7L526.5 587.0L527.5 587.3L528.5 587.7L529.5 588.1L529.9 588.3L530.5 588.6L531.5 589.2L532.5 589.8L533.5 590.5L534.5 591.3L535.5 592.1L536.5 593.0L537.5 593.9L537.7 594.1L538.5 595.0L539.5 596.1L540.5 597.2L541.5 598.4L542.5 599.7L543.5 601.0L544.2 602.0L544.5 602.4L545.5 603.8L546.5 605.3L547.5 606.9L548.5 608.4L549.4 609.9L549.5 610.1L550.5 611.7L551.5 613.4L552.5 615.2L553.5 617.0L554.5 618.8L554.6 619.0L555.5 620.6L556.5 622.5L557.5 624.4L558.5 626.3L559.5 628.2L560.5 630.2L561.5 632.1L562.5 634.0L563.5 635.9L563.7 636.2L564.5 637.6L565.5 639.4L566.5 641.1L567.5 642.8L568.5 644.5L568.9 645.2L569.5 646.3L570.5 648.0L571.5 649.7L572.5 651.1L573.5 652.2L574.5 652.9L575.0 653.0L575.5 653.0L576.5 652.6L577.5 651.8L578.5 650.6L579.5 649.2L580.5 647.8L581.5 646.3L582.5 645.0L583.5 643.8L584.5 642.6L585.5 641.3L586.5 640.0L587.5 638.6L588.0 637.9L588.5 637.1L589.5 635.3L590.5 633.4L591.5 631.4L592.5 629.3L593.5 627.1L594.5 625.0L595.5 622.8L596.5 620.7L597.5 618.6L598.5 616.6L599.5 614.8L599.7 614.5L600.5 613.1L601.5 611.6L602.5 610.2L603.5 608.8L604.5 607.4L605.5 606.1L606.2 605.1L606.5 604.7L607.5 603.2L608.5 601.6L609.5 600.0L610.5 598.4L611.4 597.0L611.5 596.8L612.5 595.1L613.5 593.5L614.5 591.9L615.5 590.4L616.5 588.9L616.6 588.8L617.5 587.5L618.5 586.1L619.5 584.9L620.5 583.7L621.5 582.6L621.8 582.3L622.5 581.6L623.5 580.6L624.5 579.7L625.5 578.9L626.5 578.2L627.5 577.5L628.5 576.9L629.5 576.4L630.5 575.9L631.5 575.6L632.5 575.3L633.5 575.0L634.5 574.9L635.5 574.8L636.5 574.8L637.5 574.8L638.5 575.0L638.6 575.0L639.5 575.2L640.5 575.4L641.5 575.7L642.5 576.1L643.5 576.6L644.5 577.1L645.5 577.6L646.5 578.2L647.5 578.9L647.7 579.0L648.5 579.6L649.5 580.3L650.5 581.1L651.5 581.9L652.5 582.8L653.5 583.6L654.5 584.5L655.5 585.5L656.5 586.4L657.5 587.4L658.5 588.4L659.5 589.4L660.5 590.4L661.5 591.4L662.5 592.4L663.3 593.2L663.5 593.4L664.5 594.4L665.5 595.4L666.5 596.5L667.5 597.5L668.5 598.5L669.5 599.5L670.5 600.5L671.1 601.1L671.5 601.5L672.5 602.5L673.5 603.5L674.5 604.5L675.5 605.5L676.5 606.5L677.5 607.4L678.5 608.4L678.9 608.8L679.5 609.4L680.5 610.3L681.5 611.2L682.5 612.1L683.5 612.8L684.5 613.5L685.0 613.8L685.5 614.1L686.5 614.6L687.5 615.0L688.5 615.2L689.5 615.4L690.5 615.5L691.5 615.5L692.5 615.4L692.8 615.4L693.5 615.3L694.5 615.1L695.5 614.8L696.5 614.5L697.5 614.1L698.5 613.7L699.5 613.3L700.5 612.8L701.5 612.3L701.9 612.1L702.5 611.8L703.5 611.2L704.5 610.7L705.5 610.2L706.5 609.7L707.5 609.2L708.5 608.7L709.5 608.2L710.5 607.8L711.0 607.6L711.5 607.4L712.5 607.0L713.5 606.7L714.5 606.4L715.5 606.2L716.5 606.0L717.5 605.8L718.5 605.7L719.5 605.7L720.5 605.6L721.4 605.6L721.5 605.6L722.5 605.7L723.5 605.8L724.5 605.9L725.5 606.1L726.5 606.3L727.5 606.6L728.5 606.9L729.5 607.2L730.5 607.6L731.5 608.1L732.5 608.6L733.5 609.1L734.5 609.6L735.5 610.3L736.5 610.9L737.5 611.6L738.2 612.1L738.5 612.3L739.5 613.1L740.5 614.0L741.5 614.8L742.5 615.8L743.5 616.7L744.5 617.7L745.5 618.8L746.0 619.3L746.5 619.9L747.5 621.0L748.5 622.2L749.5 623.5L750.5 624.8L751.5 626.1L752.5 627.5L753.5 628.9L754.5 630.4L755.5 631.9L756.5 633.4L757.5 635.1L757.7 635.4L758.5 636.7L759.5 638.4L760.5 640.0L761.5 641.7L762.5 643.2L762.9 643.7L763.5 644.6L764.5 645.8L765.5 647.0L766.5 648.0L767.5 648.9L768.5 649.8L769.4 650.4L769.5 650.5L770.5 651.2L771.5 651.8L772.5 652.3L773.5 652.7L774.5 653.0L775.5 653.2L776.5 653.3L777.5 653.2L778.5 652.9L779.5 652.5L780.5 652.0L781.5 651.3L782.5 650.5L783.5 649.6L784.5 648.6L785.5 647.6L786.3 646.7L786.5 646.5L787.5 645.4L788.5 644.2L789.5 643.0L790.5 641.7L791.5 640.5L792.5 639.1L793.5 637.7L794.5 636.3L795.0 635.5L795.5 634.8L796.5 633.2L797.5 631.6L798.5 630.0L799.5 628.4L800.5 626.7L801.5 625.1L802.5 623.5L803.5 621.9L804.5 620.3L805.5 618.8L806.5 617.4L807.5 616.0L808.5 614.7L809.3 613.8L809.5 613.5L810.5 612.5L811.5 611.5L812.5 610.6L813.5 609.7L814.5 609.0L815.5 608.2L816.5 607.6L817.1 607.2L817.5 606.9L818.5 606.3L819.5 605.7L820.5 605.2L821.5 604.7L822.5 604.2L823.5 603.8L824.5 603.4L824.9 603.3L825.5 603.1L826.5 602.8L827.5 602.5L828.5 602.3L829.5 602.2L830.5 602.1L831.5 602.0L832.5 602.0L833.5 602.1L834.5 602.3L835.3 602.4L835.5 602.5L836.5 602.7L837.5 603.1L838.5 603.5L839.5 604.0L840.5 604.5L841.5 605.2L842.5 605.9L843.5 606.7L844.4 607.5L844.5 607.6L845.5 608.6L846.5 609.6L847.5 610.7L848.5 611.9L849.5 613.2L850.5 614.5L850.8 614.9L851.5 615.9L852.5 617.3L853.5 618.8L854.5 620.3L855.5 621.9L856.5 623.4L857.3 624.7L857.5 625.1L858.5 626.7L859.5 628.4L860.5 630.0L861.5 631.7L862.5 633.4L863.5 635.1L864.5 636.8L865.5 638.6L866.5 640.4L867.5 642.2L867.7 642.6L868.5 644.2L869.5 646.3L870.5 648.4L871.5 650.8L872.5 653.2L872.9 654.3L873.5 655.9L874.5 658.6L875.5 661.3L876.5 663.9L876.8 664.7L877.5 666.3L878.5 668.3L879.5 670.2L880.5 671.9L881.5 673.6L882.5 675.2L883.3 676.5L883.5 676.9L884.5 678.6L885.5 680.1L886.5 681.1L887.2 681.4L887.5 681.4L888.5 680.9L889.5 679.8L890.5 678.1L891.5 676.0L892.4 674.0L892.5 673.8L893.5 671.4L894.5 668.9L895.5 666.2L896.5 663.1L897.5 659.6L897.6 659.2L898.5 655.6L899.5 651.3L900.5 647.1L901.5 643.2L902.5 640.0L903.5 637.7L904.1 636.9L904.5 636.7L905.5 636.6L906.3 636.6L906.5 636.5L907.5 635.6L908.5 634.1L909.5 631.9L910.5 629.5L911.5 626.8L912.5 624.1L912.8 623.3L913.5 621.5L914.5 619.1L915.5 616.8L916.5 614.6L917.5 612.5L918.5 610.4L919.3 608.7L919.5 608.3L920.5 606.2L921.5 604.1L922.5 602.0L923.5 600.0L924.5 598.2L925.5 596.4L925.8 595.9L926.5 594.8L927.5 593.4L928.5 592.1L929.5 590.9L930.5 589.7L931.5 588.7L932.5 587.6L933.5 586.6L933.6 586.5L934.5 585.5L935.5 584.4L936.5 583.3L937.5 582.2L938.5 581.2L939.5 580.1L940.5 579.2L941.4 578.3L941.5 578.2L942.5 577.4L943.5 576.6L944.5 575.9L945.5 575.2L946.5 574.6L947.5 574.1L948.5 573.6L949.2 573.3L949.5 573.2L950.5 572.9L951.5 572.6L952.5 572.4L953.5 572.2L954.5 572.1L955.5 572.1L956.5 572.1L957.5 572.2L958.5 572.3L959.5 572.5L960.5 572.7L961.5 573.0L962.5 573.4L963.5 573.8L964.5 574.2L965.5 574.7L966.5 575.2L967.5 575.8L968.5 576.5L968.6 576.5L969.5 577.2L970.5 577.9L971.5 578.7L972.5 579.5L973.5 580.3L974.5 581.2L975.5 582.1L976.4 582.9L976.5 583.0L977.5 583.9L978.5 584.9L979.5 585.8L980.5 586.8L981.5 587.8L982.5 588.7L982.9 589.1L983.5 589.7L984.5 590.7L985.5 591.6L986.5 592.6L987.5 593.5L988.5 594.4L989.5 595.3L990.5 596.1L990.7 596.3L991.5 597.0L992.5 597.7L993.5 598.5L994.5 599.2L995.5 599.9L996.5 600.5L997.5 601.1L998.5 601.7L999.5 602.2L1000.5 602.7L1001.5 603.2L1002.5 603.6L1003.5 603.9L1004.5 604.2L1005.5 604.5L1006.5 604.7L1007.5 604.9L1007.6 604.9L1008.5 605.0L1009.5 605.0L1010.5 605.0L1011.5 605.0L1012.5 604.9L1013.5 604.7L1014.5 604.5L1015.5 604.2L1016.5 603.9L1017.5 603.5L1018.5 603.1L1019.5 602.6L1020.5 602.0L1021.5 601.4L1022.5 600.8L1023.5 600.2L1024.5 599.5L1025.5 598.8L1025.6 598.7L1026.5 598.1L1027.5 597.4L1028.5 596.6L1029.5 595.9L1030.5 595.2L1031.5 594.5L1032.5 593.8L1033.4 593.2L1033.5 593.1L1034.5 592.5L1035.5 591.9L1036.5 591.3L1037.5 590.8L1038.5 590.3L1039.5 589.9L1040.5 589.5L1041.5 589.2L1042.5 589.0L1043.5 588.8L1044.5 588.8L1045.5 588.7L1046.5 588.8L1047.5 588.9L1048.5 589.1L1049.5 589.4L1050.5 589.7L1051.5 590.2L1051.6 590.2L1052.5 590.6L1053.5 591.2L1054.5 591.8L1055.5 592.5L1056.5 593.3L1057.5 594.1L1058.5 595.0L1059.4 595.8L1059.5 595.9L1060.5 597.0L1061.5 598.1L1062.5 599.2L1063.5 600.5L1064.5 601.7L1065.5 603.1L1065.8 603.5L1066.5 604.5L1067.5 605.9L1068.2 606.8L1068.5 607.2L1069.5 608.4L1070.5 609.6L1071.5 611.0L1071.7 611.3L1072.5 612.8L1073.5 614.9L1074.5 617.2L1075.5 619.7L1075.9 620.7L1076.5 622.2L1077.5 624.8L1078.5 627.3L1079.5 629.9L1079.7 630.4L1080.5 632.5L1081.5 635.0L1082.5 637.6L1083.5 640.2L1084.5 642.8L1085.5 645.3L1086.5 647.9L1086.9 648.9L1087.5 650.4L1088.5 653.0L1089.5 655.6L1090.3 657.7L1090.5 658.2L1091.5 661.0L1092.5 663.8L1093.5 666.8L1093.7 667.4L1094.5 669.9L1095.5 673.0L1096.5 676.1L1097.1 677.8L1097.5 678.9L1098.5 681.4L1099.5 683.4L1100.5 684.7L1101.3 685.2L1101.5 685.3L1102.5 685.0L1103.5 684.1L1104.5 682.8L1105.5 681.1L1106.4 679.6L1106.5 679.4L1107.5 677.8L1108.5 676.2L1109.5 674.6L1110.5 672.9L1111.5 671.0L1112.3 669.2L1112.5 668.8L1113.5 666.3L1114.5 663.6L1115.5 660.8L1116.5 657.9L1117.5 655.0L1118.5 652.2L1119.0 650.8L1119.5 649.6L1120.5 647.1L1121.5 644.9L1122.5 642.8L1123.3 641.2L1123.5 640.8L1124.5 639.0L1125.5 637.3L1126.5 635.7L1127.5 634.2L1128.4 633.0L1128.5 632.9L1129.5 631.6L1130.5 630.4L1131.5 629.4L1132.5 628.4L1133.5 627.5L1134.5 626.7L1135.5 625.9L1136.0 625.6L1136.5 625.2L1137.5 624.6L1138.5 624.1L1139.5 623.6L1140.5 623.1L1141.5 622.8L1142.5 622.4L1143.5 622.1L1144.4 621.9L1144.5 621.8L1145.5 621.6L1146.5 621.4L1147.5 621.2L1148.5 621.1L1149.5 621.0L1150.5 620.9L1151.5 621.0L1152.5 621.0L1153.5 621.1L1153.7 621.1L1154.5 621.3L1155.5 621.5L1156.5 621.8L1157.5 622.2L1158.5 622.6L1159.5 623.1L1160.5 623.6L1161.5 624.3L1162.5 625.0L1163.0 625.4L1163.5 625.8L1164.5 626.7L1165.5 627.7L1166.5 628.7L1167.5 629.7L1168.5 630.7L1169.5 631.8L1169.8 632.1L1170.5 632.9L1171.5 633.9L1172.5 634.9L1173.5 635.9L1174.5 636.9L1175.5 637.8L1176.5 638.7L1176.6 638.8L1177.5 639.5L1178.5 640.3L1179.5 641.1L1180.5 641.8L1181.5 642.4L1182.5 643.0L1183.5 643.5L1184.5 643.9L1185.0 644.1L1185.5 644.2L1186.5 644.5L1187.5 644.6L1188.5 644.7L1189.5 644.7L1190.5 644.6L1191.5 644.3L1192.5 644.0L1192.8 643.9L1193.5 643.5L1194.5 643.0L1195.5 642.3L1196.5 641.5L1197.5 640.7L1198.5 639.7L1199.5 638.7L1200.5 637.6L1200.6 637.5L1201.5 636.4L1202.5 635.2L1203.5 633.9L1204.5 632.6L1205.5 631.3L1206.5 629.9L1207.1 629.1L1207.5 628.5L1208.5 627.1L1209.5 625.7L1210.5 624.3L1211.5 622.9L1212.3 621.8L1212.5 621.5L1213.5 620.2L1214.5 618.8L1215.5 617.4L1216.5 616.0L1217.5 614.5L1218.5 612.9L1218.8 612.4L1219.5 611.3L1220.5 609.5L1221.5 607.8L1222.5 606.0L1223.5 604.3L1224.0 603.5L1224.5 602.7L1225.5 601.2L1226.5 599.7L1227.5 598.4L1228.5 597.1L1229.2 596.2L1229.5 595.8L1230.5 594.6L1231.5 593.4L1232.5 592.3L1233.5 591.1L1234.5 590.1L1235.5 589.0L1235.6 588.9L1236.5 588.0L1237.5 587.1L1238.5 586.1L1239.5 585.3L1240.5 584.4L1241.5 583.6L1242.1 583.2L1242.5 582.9L1243.5 582.2L1244.5 581.5L1245.5 580.9L1246.5 580.3L1247.5 579.8L1248.5 579.3L1249.5 578.9L1250.5 578.5L1251.2 578.3L1251.5 578.2L1252.5 577.9L1253.5 577.7L1254.5 577.5L1255.5 577.4L1256.5 577.3L1257.5 577.3L1258.5 577.4L1259.5 577.5L1260.3 577.7L1260.5 577.7L1261.5 578.0L1262.5 578.3L1263.5 578.7L1264.5 579.1L1265.5 579.6L1266.5 580.2L1267.5 580.8L1268.5 581.5L1269.4 582.2L1269.5 582.3L1270.5 583.2L1271.5 584.1L1272.5 585.0L1273.5 586.0L1274.5 586.9L1275.5 587.9L1276.5 588.8L1277.2 589.4L1277.5 589.6L1278.5 590.4L1279.5 591.2L1280.5 592.1L1281.5 593.1L1282.5 594.2L1283.5 595.5L1283.7 595.8L1284.5 597.1L1285.5 598.9L1286.5 600.7L1287.5 602.5L1288.5 604.2L1288.9 604.8L1289.5 605.7L1290.5 606.9L1291.5 608.0L1292.5 609.2L1293.5 610.5L1294.5 612.0L1295.0 612.8L1295.5 613.8L1296.5 616.0L1297.5 618.3L1298.5 620.6L1298.9 621.5L1299.5 622.9L1300.5 624.9L1301.5 626.8L1302.5 628.6L1303.5 630.3L1304.1 631.2L1304.5 631.9L1305.5 633.4L1306.5 634.9L1307.5 636.3L1308.5 637.7L1309.3 638.7L1309.5 638.9L1310.5 640.1L1311.5 641.2L1312.5 642.2L1313.5 643.1L1314.5 643.9L1315.5 644.5L1315.8 644.7L1316.5 645.1L1317.5 645.5L1318.5 645.9L1319.5 646.1L1320.5 646.2L1321.5 646.2L1322.5 646.2L1323.5 646.0L1324.5 645.8L1324.9 645.6L1325.5 645.4L1326.5 645.1L1327.5 644.6L1328.5 644.1L1329.5 643.5L1330.5 642.8L1331.5 642.1L1332.5 641.4L1333.5 640.6L1334.0 640.2L1334.5 639.7L1335.5 638.9L1336.5 638.0L1337.5 637.1L1338.5 636.1L1339.5 635.2L1340.5 634.2L1341.5 633.3L1341.8 633.0L1342.5 632.3L1343.5 631.3L1344.5 630.4L1345.5 629.4L1346.5 628.5L1347.5 627.6L1348.2 626.9L1348.5 626.7L1349.5 625.8L1350.5 625.0L1351.5 624.2L1352.5 623.4L1353.5 622.7L1354.5 622.0L1355.5 621.4L1356.0 621.1L1356.5 620.8L1357.5 620.3L1358.5 619.9L1359.5 619.5L1360.5 619.2L1361.5 619.0L1362.5 618.8L1363.5 618.7L1364.5 618.8L1365.1 618.8L1365.5 618.9L1366.5 619.1L1367.5 619.3L1368.5 619.7L1369.5 620.1L1370.5 620.6L1371.5 621.2L1372.5 621.8L1373.5 622.5L1374.2 623.0L1374.5 623.3L1375.5 624.1L1376.5 624.9L1377.5 625.7L1378.5 626.6L1379.5 627.5L1380.5 628.4L1381.5 629.4L1382.0 629.8L1382.5 630.3L1383.5 631.3L1384.5 632.3L1385.5 633.3L1386.5 634.5L1387.5 635.8L1388.5 637.3L1389.5 638.9L1390.5 640.7L1391.5 642.5L1392.5 644.3L1393.5 646.2L1393.7 646.5L1394.5 647.9L1395.5 649.6L1396.5 651.0L1397.3 652.0" stroke="#0000ff" stroke-width="6.5" fill="none" stroke-linejoin="round" stroke-linecap="butt" stroke-dasharray="6 3.7"/>
<path d="M134.3 607.4L135.3 610.3L136.3 613.2L137.3 615.9L138.0 617.9L138.3 618.7L139.3 621.3L140.3 623.9L141.3 626.4L142.3 628.8L142.5 629.2L143.3 631.0L144.3 633.2L145.3 635.3L146.3 637.3L147.0 638.6L147.3 639.1L148.3 640.8L149.3 642.4L150.3 643.8L151.3 645.1L152.3 646.2L152.7 646.6L153.3 647.1L154.3 647.9L155.3 648.5L156.3 648.9L157.3 649.1L158.3 649.2L159.3 649.0L160.3 648.6L161.3 648.0L162.3 647.1L163.0 646.4L163.3 646.0L164.3 644.7L165.3 643.2L166.3 641.5L167.3 639.6L167.5 639.2L168.3 637.6L169.3 635.4L170.3 633.2L171.3 630.8L172.3 628.4L173.2 626.1L173.3 625.9L174.3 623.3L175.3 620.8L176.3 618.3L177.3 615.8L178.3 613.3L178.9 611.9L179.3 610.9L180.3 608.6L181.3 606.4L182.3 604.2L183.3 602.1L183.4 601.9L184.3 600.0L185.3 598.0L186.3 596.0L187.3 594.1L188.3 592.2L189.1 590.7L189.3 590.3L190.3 588.5L191.3 586.7L192.3 584.9L193.3 583.1L194.3 581.5L195.3 579.8L195.9 578.9L196.3 578.3L197.3 576.7L198.3 575.3L199.3 574.0L200.3 572.7L201.3 571.5L202.3 570.5L202.7 570.1L203.3 569.5L204.3 568.7L205.3 567.9L206.3 567.3L207.3 566.8L208.3 566.5L209.3 566.3L209.5 566.2L210.3 566.2L211.3 566.3L212.3 566.5L213.3 566.8L214.3 567.3L215.3 567.8L216.3 568.4L216.4 568.5L217.3 569.1L218.3 569.8L219.3 570.6L220.3 571.5L221.3 572.3L222.3 573.2L223.2 574.0L223.3 574.1L224.3 575.0L225.3 575.9L226.3 576.8L227.3 577.8L228.3 578.8L229.3 579.9L230.0 580.7L230.3 581.1L231.3 582.4L232.3 583.8L233.3 585.3L234.3 587.0L235.0 588.3L235.3 588.9L236.3 590.9L237.3 593.1L238.3 595.4L239.3 597.8L240.3 600.2L241.3 602.7L241.5 603.2L242.3 605.3L243.3 607.8L244.3 610.4L245.3 612.9L246.3 615.4L247.3 617.9L248.0 619.6L248.3 620.3L249.3 622.6L250.3 624.9L251.3 627.1L252.3 629.1L253.3 631.1L254.3 632.9L254.5 633.3L255.3 634.6L256.3 636.2L257.3 637.5L258.3 638.6L259.3 639.5L260.3 640.2L261.3 640.6L262.3 640.6L263.3 640.4L264.3 639.9L265.3 639.1L266.3 638.1L267.3 636.9L268.3 635.5L268.8 634.8L269.3 634.0L270.3 632.4L271.3 630.7L272.3 628.9L273.3 627.1L274.3 625.2L275.3 623.2L276.3 621.2L277.3 619.2L278.3 617.1L279.3 615.1L280.3 613.0L281.3 610.9L281.8 609.9L282.3 608.8L283.3 606.8L284.3 604.7L285.3 602.7L286.3 600.7L287.3 598.8L288.3 596.9L289.3 595.1L289.5 594.7L290.3 593.3L291.3 591.6L292.3 590.0L293.3 588.4L294.3 586.9L295.3 585.5L296.3 584.1L297.3 582.8L298.3 581.5L299.3 580.4L300.3 579.3L301.3 578.2L302.3 577.2L303.3 576.3L304.3 575.4L305.3 574.6L306.3 573.9L306.4 573.8L307.3 573.2L308.3 572.6L309.3 572.1L310.3 571.6L311.3 571.2L312.3 570.8L313.3 570.5L314.3 570.3L315.3 570.1L316.3 570.0L316.8 570.0L317.3 569.9L318.3 570.0L319.3 570.0L320.3 570.2L321.3 570.3L322.3 570.6L323.3 570.9L324.3 571.3L325.3 571.7L326.3 572.2L327.3 572.8L328.3 573.4L328.5 573.5L329.3 574.1L330.3 574.8L331.3 575.6L332.3 576.4L333.3 577.3L334.3 578.3L335.3 579.3L336.3 580.4L337.3 581.5L337.6 581.9L338.3 582.7L339.3 584.0L340.3 585.3L341.3 586.7L342.3 588.1L343.3 589.5L344.3 591.1L345.0 592.2L345.3 592.6L346.3 594.3L347.3 595.9L348.3 597.6L348.9 598.7L349.3 599.4L350.3 601.2L351.3 603.0L352.3 604.9L353.3 606.7L354.3 608.5L355.3 610.2L356.3 611.9L357.3 613.5L358.3 614.9L359.3 616.3L360.1 617.3L360.3 617.5L361.3 618.6L362.3 619.6L363.3 620.4L364.3 621.1L365.3 621.6L366.3 622.0L367.3 622.4L368.3 622.6L369.3 622.6L370.3 622.6L371.2 622.5L371.3 622.5L372.3 622.3L373.3 622.1L374.3 621.7L375.3 621.3L376.3 620.7L377.3 620.2L378.3 619.5L379.3 618.9L380.3 618.1L381.3 617.3L382.3 616.5L383.3 615.7L384.3 614.8L384.6 614.5L385.3 613.9L386.3 612.9L387.3 612.0L388.3 611.0L389.3 610.1L390.3 609.1L391.3 608.1L392.3 607.1L393.3 606.1L394.3 605.1L395.3 604.1L396.3 603.1L397.3 602.1L398.0 601.5L398.3 601.2L399.3 600.2L400.3 599.3L401.3 598.4L402.3 597.5L403.3 596.7L404.3 595.8L405.3 595.0L406.3 594.3L407.3 593.5L408.3 592.8L409.3 592.2L410.3 591.6L411.3 591.0L411.4 591.0L412.3 590.5L413.3 590.1L414.3 589.7L415.3 589.3L416.3 589.0L417.3 588.8L418.3 588.5L419.3 588.4L420.3 588.3L421.3 588.2L422.3 588.2L422.6 588.2L423.3 588.2L424.3 588.3L425.3 588.4L426.3 588.6L427.3 588.8L428.3 589.0L429.3 589.3L430.3 589.7L431.3 590.0L432.3 590.4L433.3 590.9L434.3 591.3L435.3 591.8L435.9 592.2L436.3 592.4L437.3 592.9L438.3 593.6L439.3 594.2L440.3 594.8L441.3 595.5L442.3 596.2L443.3 597.0L444.3 597.7L445.3 598.5L446.3 599.3L447.3 600.2L448.3 601.0L449.3 601.9L449.3 601.9L450.3 602.8L451.3 603.7L452.3 604.6L453.3 605.5L454.3 606.3L455.3 607.2L456.3 608.1L457.3 608.9L458.3 609.7L459.3 610.4L460.3 611.1L460.5 611.2L461.3 611.8L462.3 612.3L463.3 612.9L464.3 613.3L465.3 613.7L466.3 613.9L467.3 614.1L468.3 614.2L469.3 614.2L470.2 614.0L470.3 614.0L471.3 613.7L472.3 613.4L473.3 612.9L474.3 612.4L475.3 611.7L476.3 611.0L477.3 610.3L478.0 609.8L478.3 609.5L479.3 608.7L480.3 607.9L481.3 607.0L482.3 606.1L483.3 605.2L484.3 604.2L485.3 603.3L486.3 602.3L487.1 601.5L487.3 601.3L488.3 600.4L489.3 599.4L490.3 598.4L491.3 597.4L492.3 596.4L493.3 595.5L494.3 594.5L495.3 593.6L496.2 592.7L496.3 592.6L497.3 591.7L498.3 590.8L499.3 589.9L500.3 589.1L501.3 588.2L502.3 587.3L503.3 586.4L504.0 585.8L504.3 585.5L505.3 584.6L506.3 583.7L507.3 582.8L508.3 581.9L509.3 580.9L510.3 580.0L511.3 579.1L512.3 578.3L513.1 577.6L513.3 577.4L514.3 576.5L515.3 575.7L516.3 574.9L517.3 574.2L518.3 573.5L519.3 572.8L520.3 572.2L521.3 571.6L522.1 571.2L522.3 571.1L523.3 570.6L524.3 570.2L525.3 569.9L526.3 569.6L527.3 569.5L528.3 569.3L529.3 569.3L529.9 569.3L530.3 569.4L531.3 569.5L532.3 569.7L533.3 570.0L534.3 570.4L535.3 570.9L536.3 571.5L537.3 572.1L537.7 572.3L538.3 572.8L539.3 573.5L540.3 574.4L541.3 575.3L542.3 576.2L543.3 577.3L544.3 578.4L545.3 579.5L546.3 580.7L547.3 582.0L548.1 583.0L548.3 583.3L549.3 584.7L550.3 586.1L551.3 587.5L552.3 589.0L553.3 590.5L554.3 592.0L555.3 593.6L555.8 594.3L556.3 595.1L557.3 596.7L558.3 598.2L559.3 599.9L560.3 601.5L561.3 603.3L562.3 605.1L563.3 607.0L563.7 607.8L564.3 609.1L565.3 611.2L566.3 613.3L567.3 615.3L568.3 617.1L569.3 618.7L570.2 619.9L570.3 620.0L571.3 620.9L572.3 621.7L573.3 622.3L574.3 623.0L575.0 623.5L575.3 623.8L576.3 624.9L577.3 626.2L578.3 627.6L579.3 628.9L580.3 630.0L581.3 630.9L581.5 631.1L582.3 631.5L583.3 631.8L584.3 631.7L585.3 631.4L586.3 630.8L587.3 629.9L588.3 628.8L589.3 627.5L590.3 626.1L591.3 624.5L592.3 622.7L593.3 620.9L594.3 618.9L594.5 618.5L595.3 616.9L596.3 614.9L597.3 612.8L598.3 610.7L599.3 608.6L600.3 606.5L601.0 605.0L601.3 604.3L602.3 602.2L603.3 600.1L604.3 598.0L605.3 595.9L606.3 593.9L607.3 591.8L607.5 591.4L608.3 589.9L609.3 587.9L610.3 586.0L611.3 584.1L612.3 582.3L613.3 580.6L614.0 579.4L614.3 578.9L615.3 577.3L616.3 575.7L617.3 574.2L618.3 572.7L619.3 571.3L620.3 570.0L620.5 569.7L621.3 568.7L622.3 567.4L623.3 566.2L624.3 565.1L625.3 564.0L626.3 562.9L627.3 561.8L628.3 560.8L629.3 559.9L629.5 559.7L630.3 558.9L631.3 558.0L632.3 557.1L633.3 556.3L634.3 555.6L635.3 554.9L636.3 554.3L637.3 553.8L638.3 553.4L638.6 553.3L639.3 553.1L640.3 552.9L641.3 552.8L642.3 552.8L643.3 552.9L644.3 553.1L645.3 553.4L646.3 553.8L647.3 554.2L648.3 554.7L649.3 555.2L650.3 555.9L651.3 556.5L652.3 557.3L653.3 558.0L654.3 558.9L655.3 559.7L656.3 560.6L657.3 561.5L658.3 562.4L659.3 563.4L659.4 563.4L660.3 564.3L661.3 565.3L662.3 566.2L663.3 567.2L664.3 568.2L665.3 569.2L666.3 570.2L667.3 571.2L668.3 572.2L668.5 572.4L669.3 573.2L670.3 574.2L671.3 575.2L672.3 576.1L673.3 577.1L674.3 578.1L675.3 579.0L676.3 580.0L677.3 580.9L677.6 581.2L678.3 581.8L679.3 582.7L680.3 583.6L681.3 584.4L682.3 585.3L683.3 586.1L684.3 586.9L685.0 587.4L685.3 587.6L686.3 588.3L687.3 589.0L688.3 589.7L689.3 590.3L690.3 590.8L691.3 591.3L692.3 591.7L693.3 592.0L694.3 592.2L695.3 592.3L695.4 592.3L696.3 592.4L697.3 592.3L698.3 592.1L699.3 591.9L700.3 591.6L701.3 591.3L702.3 590.9L703.3 590.6L704.3 590.2L704.5 590.1L705.3 589.8L706.3 589.4L707.3 589.1L708.3 588.7L709.3 588.4L710.3 588.1L711.3 587.8L712.3 587.5L713.3 587.2L714.3 587.0L715.3 586.7L716.2 586.6L716.3 586.5L717.3 586.4L718.3 586.2L719.3 586.1L720.3 585.9L721.3 585.9L722.3 585.8L723.3 585.8L724.3 585.8L725.3 585.8L726.3 585.9L726.6 585.9L727.3 586.0L728.3 586.2L729.3 586.3L730.3 586.6L731.3 586.8L732.3 587.1L733.3 587.5L734.3 587.8L735.3 588.3L736.3 588.7L737.0 589.1L737.3 589.2L738.3 589.8L739.3 590.4L740.3 591.1L741.3 591.8L742.3 592.5L743.3 593.3L744.3 594.1L744.7 594.5L745.3 595.0L746.3 595.9L747.3 596.9L748.3 597.9L749.3 598.9L750.3 600.0L751.3 601.1L752.3 602.3L752.5 602.5L753.3 603.5L754.3 604.7L755.3 606.0L756.3 607.2L757.3 608.5L758.3 609.8L759.3 611.1L760.3 612.5L761.3 613.8L762.3 615.0L763.3 616.3L764.3 617.6L765.3 618.8L766.3 620.0L767.3 621.1L768.1 622.0L768.3 622.2L769.3 623.2L770.3 624.2L771.3 625.1L772.3 626.0L773.3 626.8L774.3 627.5L775.3 628.1L775.9 628.4L776.3 628.6L777.3 629.0L778.3 629.3L779.3 629.5L780.3 629.7L781.3 629.7L782.3 629.7L783.3 629.5L783.7 629.5L784.3 629.3L785.3 629.0L786.3 628.6L787.3 628.2L788.3 627.6L789.3 627.0L790.3 626.3L791.3 625.5L791.5 625.4L792.3 624.7L793.3 623.8L794.3 622.8L795.0 622.1L795.3 621.7L796.3 620.6L797.3 619.5L798.3 618.3L799.3 617.1L800.3 615.8L801.3 614.5L802.3 613.2L803.3 611.8L804.3 610.5L805.3 609.1L805.4 609.0L806.3 607.8L807.3 606.4L808.3 605.1L809.3 603.7L810.3 602.4L811.3 601.1L812.3 599.9L813.3 598.6L814.3 597.4L815.3 596.3L815.8 595.7L816.3 595.2L817.3 594.1L818.3 593.1L819.3 592.2L820.3 591.3L821.3 590.5L822.3 589.7L823.3 589.0L824.3 588.3L824.9 587.9L825.3 587.7L826.3 587.1L827.3 586.6L828.3 586.1L829.3 585.7L830.3 585.3L831.3 585.1L832.3 584.8L833.3 584.6L834.3 584.5L835.3 584.4L836.3 584.4L837.3 584.5L838.3 584.5L839.3 584.7L840.3 584.9L841.3 585.2L842.3 585.5L843.3 585.9L844.3 586.4L845.3 586.9L846.3 587.4L847.0 587.8L847.3 588.0L848.3 588.7L849.3 589.5L850.3 590.3L851.3 591.1L852.3 592.1L853.3 593.1L854.3 594.2L855.3 595.3L856.0 596.2L856.3 596.6L857.3 597.9L858.3 599.2L859.3 600.7L860.3 602.2L861.3 603.9L862.3 605.6L862.5 605.9L863.3 607.4L864.3 609.2L865.3 611.2L866.3 613.3L867.3 615.4L868.3 617.7L869.0 619.3L869.3 620.0L870.3 622.5L871.3 625.0L872.3 627.5L873.3 629.9L874.2 632.1L874.3 632.3L875.3 634.6L876.3 636.8L877.3 639.1L878.3 641.3L879.3 643.7L879.4 643.9L880.3 646.1L881.3 648.6L882.3 651.2L883.3 653.8L884.3 656.3L884.6 657.1L885.3 658.8L886.3 661.3L887.3 663.6L888.3 665.7L889.3 667.6L889.8 668.5L890.3 669.3L891.3 670.8L892.3 672.0L893.3 672.8L894.3 673.4L895.0 673.5L895.3 673.5L896.3 673.3L897.3 672.8L898.3 671.9L899.3 670.8L900.2 669.4L900.3 669.3L901.3 667.4L902.3 665.3L903.3 662.6L904.3 659.5L905.0 657.0L905.3 655.9L906.3 651.7L907.3 647.2L908.3 642.6L909.3 638.2L910.2 634.5L910.3 634.1L911.3 630.5L912.3 627.4L913.3 624.5L914.3 621.9L915.3 619.5L916.3 617.0L916.7 616.0L917.3 614.5L918.3 611.8L919.3 609.1L920.3 606.4L921.3 603.6L922.3 601.0L923.2 598.7L923.3 598.5L924.3 596.1L925.3 593.8L926.3 591.7L927.3 589.6L928.3 587.7L929.3 585.8L930.3 583.9L931.0 582.6L931.3 582.1L932.3 580.3L933.3 578.5L934.3 576.8L935.3 575.1L936.3 573.4L937.3 571.8L937.5 571.4L938.3 570.2L939.3 568.7L940.3 567.2L941.3 565.7L942.3 564.4L943.3 563.0L944.0 562.1L944.3 561.8L945.3 560.5L946.3 559.4L947.3 558.3L948.3 557.2L949.3 556.3L950.3 555.3L951.3 554.5L951.8 554.1L952.3 553.7L953.3 552.9L954.3 552.3L955.3 551.7L956.3 551.1L957.3 550.6L958.3 550.2L959.3 549.9L960.3 549.6L960.8 549.5L961.3 549.5L962.3 549.3L963.3 549.3L964.3 549.3L965.3 549.4L966.0 549.5L966.3 549.5L967.3 549.7L968.3 550.0L969.3 550.3L970.3 550.6L971.3 551.0L972.3 551.5L973.3 552.0L974.3 552.5L975.1 553.0L975.3 553.1L976.3 553.7L977.3 554.4L978.3 555.1L979.3 555.8L980.3 556.6L981.3 557.3L982.3 558.1L983.3 558.9L984.3 559.8L985.3 560.6L985.5 560.8L986.3 561.5L987.3 562.3L988.3 563.2L989.3 564.1L990.3 564.9L991.3 565.8L992.3 566.6L993.3 567.5L994.3 568.3L995.3 569.2L995.9 569.7L996.3 570.0L997.3 570.8L998.3 571.6L999.3 572.3L1000.3 573.0L1001.3 573.7L1002.3 574.4L1003.3 575.0L1004.3 575.6L1005.3 576.1L1006.3 576.6L1007.3 577.1L1008.3 577.5L1009.3 577.9L1010.3 578.2L1011.3 578.4L1012.3 578.6L1013.3 578.7L1014.3 578.8L1015.0 578.8L1015.3 578.8L1016.3 578.7L1017.3 578.6L1017.8 578.5L1018.3 578.4L1019.3 578.1L1020.3 577.7L1021.3 577.3L1022.3 576.9L1023.3 576.4L1024.3 576.0L1025.3 575.5L1026.3 575.1L1027.3 574.6L1028.2 574.3L1028.3 574.3L1029.3 573.9L1030.3 573.6L1031.3 573.3L1032.3 573.1L1033.3 572.9L1034.3 572.7L1035.3 572.4L1036.3 572.2L1037.3 572.0L1038.3 571.7L1039.3 571.5L1040.3 571.2L1041.3 571.0L1042.3 570.7L1043.3 570.5L1044.3 570.3L1045.3 570.2L1046.3 570.1L1046.4 570.1L1047.3 570.1L1048.3 570.2L1049.3 570.3L1050.3 570.5L1051.3 570.7L1052.3 571.0L1053.3 571.3L1054.3 571.7L1055.3 572.2L1056.3 572.7L1056.8 573.0L1057.3 573.3L1058.3 573.9L1059.3 574.6L1060.3 575.3L1061.3 576.0L1062.3 576.8L1063.3 577.7L1064.3 578.6L1065.3 579.5L1065.8 580.0L1066.3 580.5L1067.3 581.5L1068.3 582.6L1069.3 583.7L1070.3 584.9L1071.3 586.1L1072.3 587.5L1073.3 588.9L1073.6 589.3L1074.3 590.3L1075.3 591.9L1076.3 593.5L1077.3 595.3L1078.3 597.1L1079.3 599.1L1080.3 601.2L1081.0 602.7L1081.3 603.4L1082.3 605.7L1083.3 608.1L1084.3 610.5L1085.2 612.8L1085.3 613.0L1086.3 615.5L1087.3 618.0L1088.3 620.5L1089.3 623.0L1090.3 625.6L1091.1 627.6L1091.3 628.1L1092.3 630.7L1093.3 633.3L1094.3 635.9L1095.3 638.5L1096.3 641.2L1097.1 643.3L1097.3 643.9L1098.3 646.6L1099.3 649.3L1100.3 652.0L1101.3 654.6L1102.3 657.2L1103.3 659.7L1104.3 662.1L1105.3 664.3L1105.5 664.8L1106.3 666.4L1107.3 668.3L1108.3 670.0L1109.3 671.5L1110.3 672.7L1111.3 673.6L1112.3 674.2L1113.3 674.5L1114.3 674.4L1115.3 674.0L1116.3 673.1L1117.3 671.8L1117.4 671.7L1118.3 670.1L1119.3 667.9L1120.3 665.4L1121.3 662.8L1122.3 660.0L1122.4 659.7L1123.3 657.2L1124.3 654.4L1125.3 651.7L1126.3 649.0L1127.3 646.4L1128.3 643.9L1129.2 641.7L1129.3 641.4L1130.3 639.1L1131.3 637.0L1132.3 634.9L1133.3 633.0L1134.3 631.1L1135.3 629.4L1136.0 628.2L1136.3 627.8L1137.3 626.2L1138.3 624.8L1139.3 623.5L1140.3 622.3L1141.3 621.1L1142.3 620.1L1142.7 619.7L1143.3 619.1L1144.3 618.2L1145.3 617.4L1146.3 616.7L1147.3 616.0L1148.3 615.4L1149.3 614.9L1150.3 614.4L1151.2 614.1L1151.3 614.0L1152.3 613.7L1153.3 613.4L1154.3 613.2L1155.3 613.0L1156.3 612.9L1157.3 612.8L1158.3 612.8L1158.8 612.8L1159.3 612.9L1160.3 613.0L1161.3 613.1L1162.3 613.4L1163.3 613.6L1164.3 614.0L1165.3 614.3L1166.3 614.8L1167.3 615.3L1168.3 615.8L1169.3 616.4L1170.3 617.0L1171.3 617.7L1172.3 618.4L1173.3 619.1L1174.3 619.9L1175.3 620.6L1175.7 620.9L1176.3 621.4L1177.3 622.1L1178.3 622.9L1179.3 623.6L1180.3 624.3L1181.3 625.0L1182.3 625.7L1183.3 626.3L1184.3 626.9L1185.0 627.3L1185.3 627.5L1186.3 627.9L1187.3 628.4L1188.3 628.7L1189.3 629.0L1190.3 629.2L1191.3 629.4L1191.5 629.4L1192.3 629.4L1193.3 629.4L1194.3 629.2L1195.3 628.9L1196.3 628.6L1197.3 628.1L1198.3 627.5L1199.3 626.7L1200.3 625.9L1200.6 625.6L1201.3 624.9L1202.3 623.7L1203.3 622.5L1204.3 621.2L1205.3 619.7L1206.3 618.3L1207.1 617.0L1207.3 616.7L1208.3 615.2L1209.3 613.6L1210.3 611.9L1211.3 610.3L1212.3 608.6L1213.3 607.0L1214.3 605.3L1214.9 604.3L1215.3 603.6L1216.3 601.9L1217.3 600.3L1218.3 598.6L1219.3 596.9L1220.3 595.3L1221.3 593.7L1221.4 593.5L1222.3 592.1L1223.3 590.5L1224.3 588.9L1225.3 587.3L1226.3 585.8L1227.3 584.2L1227.9 583.2L1228.3 582.6L1229.3 581.0L1230.3 579.4L1231.3 577.7L1232.3 576.1L1233.3 574.4L1234.3 572.8L1235.3 571.2L1235.6 570.7L1236.3 569.6L1237.3 568.1L1238.3 566.5L1239.3 565.1L1240.3 563.6L1241.3 562.2L1242.3 560.9L1243.3 559.6L1243.4 559.5L1244.3 558.4L1245.3 557.3L1246.3 556.2L1247.3 555.2L1248.3 554.3L1249.3 553.4L1250.3 552.6L1251.2 551.9L1251.3 551.9L1252.3 551.2L1253.3 550.6L1254.3 550.0L1255.3 549.5L1256.3 549.1L1257.3 548.7L1258.3 548.4L1259.3 548.2L1260.3 548.0L1261.3 547.8L1261.6 547.8L1262.3 547.7L1263.3 547.7L1264.3 547.7L1265.3 547.8L1266.3 547.9L1267.3 548.1L1268.3 548.3L1269.3 548.6L1270.3 549.0L1271.3 549.3L1272.3 549.8L1273.3 550.3L1274.3 550.8L1275.3 551.4L1276.3 552.0L1277.3 552.7L1278.3 553.4L1279.3 554.2L1280.3 555.1L1281.3 556.0L1282.3 557.0L1283.3 558.0L1283.7 558.4L1284.3 559.1L1285.3 560.3L1286.3 561.5L1287.3 562.8L1288.3 564.0L1289.3 565.2L1290.3 566.4L1291.3 567.6L1291.5 567.8L1292.3 568.7L1293.3 569.9L1294.3 571.1L1295.0 572.2L1295.3 572.6L1296.3 574.4L1297.3 576.4L1298.3 578.5L1299.3 580.6L1300.2 582.5L1300.3 582.7L1301.3 584.6L1302.3 586.5L1303.3 588.3L1304.3 590.1L1305.3 591.9L1306.3 593.7L1306.7 594.5L1307.3 595.6L1308.3 597.5L1309.3 599.5L1310.3 601.5L1311.3 603.6L1311.9 604.8L1312.3 605.6L1313.3 607.6L1314.3 609.6L1315.3 611.6L1316.3 613.4L1317.3 615.2L1318.3 617.0L1318.4 617.1L1319.3 618.6L1320.3 620.1L1321.3 621.5L1322.3 622.8L1323.3 624.0L1324.3 625.1L1325.3 626.1L1326.2 626.9L1326.3 627.0L1327.3 627.7L1328.3 628.4L1329.3 629.0L1330.3 629.5L1331.3 629.9L1332.3 630.2L1332.7 630.3L1333.3 630.4L1334.3 630.6L1335.3 630.6L1336.3 630.5L1337.3 630.4L1338.3 630.1L1339.3 629.8L1340.3 629.4L1341.3 628.9L1341.8 628.6L1342.3 628.3L1343.3 627.6L1344.3 626.9L1345.3 626.1L1346.3 625.2L1347.3 624.3L1348.3 623.4L1349.3 622.4L1349.5 622.2L1350.3 621.5L1351.3 620.5L1352.3 619.5L1353.3 618.6L1354.3 617.6L1355.3 616.7L1356.3 615.9L1357.3 615.1L1358.3 614.4L1358.6 614.2L1359.3 613.7L1360.3 613.1L1361.3 612.6L1362.3 612.1L1363.3 611.7L1364.3 611.4L1365.3 611.2L1366.3 611.0L1367.3 610.9L1368.3 610.9L1369.3 610.9L1370.3 611.0L1371.3 611.1L1372.3 611.4L1373.3 611.6L1374.3 612.0L1375.3 612.4L1376.3 612.8L1377.3 613.3L1378.3 613.9L1379.3 614.5L1380.3 615.2L1380.7 615.5L1381.3 615.9L1382.3 616.7L1383.3 617.5L1384.3 618.4L1385.3 619.4L1386.3 620.3L1387.3 621.4L1388.3 622.5L1389.3 623.6L1389.8 624.2L1390.3 624.8L1391.3 626.0L1392.3 627.2L1393.3 628.5L1394.3 629.9L1395.0 630.8L1395.3 631.3L1396.3 632.7L1397.3 634.1" stroke="#ff00ff" stroke-width="6.5" fill="none" stroke-linejoin="round" stroke-linecap="butt" stroke-dasharray="20 4.6 10.3 4.6"/>
<path d="M137.8 433.3L138.8 436.7L139.8 440.1L140.8 443.6L141.8 447.1L142.8 450.6L143.4 452.7L143.8 454.2L144.8 457.8L145.8 461.4L146.8 465.0L147.8 468.6L148.8 472.2L149.8 475.9L150.8 479.5L151.8 483.1L152.8 486.7L153.8 490.3L154.1 491.4L154.8 493.9L155.8 497.4L156.8 501.0L157.8 504.4L158.8 507.9L159.5 510.3L159.8 511.3L160.8 514.7L161.8 518.0L162.8 521.2L163.8 524.4L164.8 527.6L165.8 530.6L166.8 533.7L167.8 536.6L168.8 539.5L169.8 542.3L170.2 543.4L170.8 545.1L171.8 547.8L172.8 550.4L173.8 553.0L174.8 555.6L175.8 558.1L176.6 560.1L176.8 560.5L177.8 563.0L178.8 565.3L179.8 567.7L180.8 570.0L181.8 572.2L182.8 574.5L183.8 576.7L184.5 578.2L184.8 578.8L185.8 581.0L186.8 583.1L187.8 585.2L188.8 587.2L189.8 589.3L190.8 591.3L191.8 593.3L192.8 595.3L193.6 596.9L193.8 597.3L194.8 599.3L195.8 601.3L196.8 603.3L197.8 605.2L198.8 607.2L199.8 609.1L200.8 611.1L201.8 613.1L202.7 614.8L202.8 615.0L203.8 617.0L204.8 619.0L205.8 621.0L206.8 623.0L207.8 625.0L208.8 627.0L209.8 629.0L210.8 631.1L211.8 633.1L212.8 635.1L213.8 637.1L214.8 639.2L215.8 641.2L216.8 643.2L217.8 645.3L218.8 647.3L219.8 649.3L220.8 651.3L220.9 651.5L221.8 653.4L222.8 655.4L223.8 657.4L224.8 659.4L225.8 661.4L226.8 663.4L227.8 665.4L228.8 667.4L228.9 667.6L229.8 669.4L230.8 671.3L231.8 673.2L232.8 674.9L233.8 676.5L234.5 677.4L234.8 677.8L235.8 678.9L236.8 679.8L237.8 680.3L238.8 680.4L238.9 680.4L239.8 680.1L240.8 679.5L241.8 678.6L242.8 677.5L243.8 676.2L244.8 674.7L245.4 673.8L245.8 673.2L246.8 671.7L247.8 670.2L248.8 668.7L249.8 667.2L250.8 665.6L251.8 664.1L252.8 662.6L253.2 662.0L253.8 661.0L254.8 659.5L255.8 658.0L256.8 656.5L257.8 655.1L258.8 653.6L259.8 652.2L260.8 650.8L261.0 650.5L261.8 649.4L262.8 648.0L263.8 646.6L264.8 645.3L265.8 644.0L266.8 642.7L267.8 641.5L268.8 640.2L269.8 639.1L270.8 637.9L271.8 636.8L272.8 635.7L273.8 634.6L274.8 633.6L275.8 632.6L276.8 631.6L277.8 630.7L277.9 630.6L278.8 629.8L279.8 629.0L280.8 628.2L281.8 627.4L282.8 626.7L283.8 626.0L284.8 625.3L285.8 624.7L286.8 624.2L287.0 624.1L287.8 623.7L288.8 623.2L289.8 622.8L290.8 622.4L291.8 622.1L292.8 621.8L293.8 621.5L294.8 621.4L295.8 621.2L296.8 621.1L297.8 621.1L298.6 621.1L298.8 621.1L299.8 621.2L300.8 621.3L301.8 621.5L302.8 621.8L303.8 622.1L304.8 622.4L305.8 622.8L306.8 623.3L307.8 623.8L308.8 624.4L309.0 624.5L309.8 625.1L310.8 625.8L311.8 626.5L312.8 627.4L313.8 628.3L314.8 629.2L315.8 630.3L316.8 631.4L317.8 632.5L318.1 632.9L318.8 633.8L319.8 635.1L320.8 636.4L321.8 637.8L322.8 639.3L323.8 640.8L324.8 642.3L325.8 643.8L325.9 644.0L326.8 645.3L327.8 646.9L328.8 648.5L329.8 650.0L330.8 651.6L331.8 653.1L332.8 654.6L333.7 655.9L333.8 656.0L334.8 657.5L335.8 658.9L336.8 660.3L337.8 661.9L338.8 663.5L339.8 665.2L340.8 667.1L341.5 668.5L341.8 669.2L342.8 671.3L343.8 673.3L344.8 674.7L345.0 674.9L345.8 675.4L346.8 675.4L347.8 675.4L348.8 675.6L349.8 676.0L350.8 676.6L351.8 677.4L352.8 678.1L353.8 678.8L354.7 679.2L354.8 679.3L355.8 679.6L356.8 679.7L357.8 679.6L358.8 679.4L359.8 679.1L360.8 678.8L361.8 678.3L362.8 677.9L363.8 677.4L364.5 677.1L364.8 677.0L365.8 676.6L366.8 676.3L367.8 676.0L368.8 675.8L369.8 675.6L370.8 675.5L371.8 675.3L372.8 675.2L373.8 675.2L374.8 675.1L375.4 675.1L375.8 675.1L376.8 675.1L377.8 675.1L378.8 675.2L379.8 675.2L380.8 675.2L381.8 675.3L382.8 675.4L383.8 675.4L384.8 675.5L385.8 675.5L386.8 675.6L387.8 675.6L388.8 675.6L389.2 675.6L389.8 675.6L390.8 675.6L391.8 675.6L392.8 675.5L393.8 675.4L394.8 675.4L395.8 675.3L396.8 675.1L397.8 675.0L398.8 674.9L399.8 674.7L400.8 674.5L401.0 674.5L401.8 674.3L402.8 674.1L403.8 673.9L404.8 673.6L405.8 673.4L406.8 673.1L407.8 672.9L408.8 672.6L408.9 672.5L409.8 672.3L410.8 672.0L411.8 671.6L412.8 671.3L413.8 670.9L414.8 670.6L415.8 670.2L416.8 669.8L417.8 669.4L418.8 669.0L419.8 668.6L420.8 668.2L421.8 667.8L422.8 667.3L423.8 666.9L424.8 666.4L425.8 666.0L426.8 665.5L427.8 665.0L428.7 664.6L428.8 664.6L429.8 664.1L430.8 663.6L431.8 663.1L432.8 662.6L433.8 662.0L434.8 661.5L435.8 661.0L436.8 660.5L437.8 659.9L438.5 659.5L438.8 659.4L439.8 658.8L440.8 658.3L441.8 657.7L442.8 657.1L443.8 656.5L444.8 656.0L445.8 655.4L446.8 654.8L447.8 654.2L448.4 653.8L448.8 653.6L449.8 653.0L450.8 652.3L451.8 651.7L452.8 651.1L453.8 650.5L454.8 649.8L455.8 649.2L456.8 648.5L457.8 647.9L458.3 647.5L458.8 647.2L459.8 646.5L460.8 645.8L461.8 645.1L462.8 644.2L463.8 643.3L464.8 642.2L465.0 642.0L465.8 641.1L466.8 639.8L467.8 638.4L468.8 637.0L469.8 635.5L470.8 634.0L471.8 632.5L472.8 631.1L473.8 629.7L474.8 628.4L475.8 627.1L476.8 625.8L477.8 624.7L478.8 623.5L479.8 622.4L480.8 621.4L481.8 620.4L481.9 620.3L482.8 619.5L483.8 618.5L484.8 617.7L485.8 616.8L486.8 616.0L487.8 615.2L488.8 614.5L489.8 613.8L490.8 613.1L491.0 612.9L491.8 612.4L492.8 611.8L493.8 611.1L494.8 610.5L495.8 610.0L496.8 609.4L497.8 608.9L498.8 608.5L499.8 608.0L500.8 607.6L501.4 607.4L501.8 607.3L502.8 606.9L503.8 606.7L504.8 606.4L505.8 606.2L506.8 606.1L507.8 605.9L508.8 605.9L509.8 605.9L510.5 605.9L510.8 605.9L511.8 606.0L512.8 606.1L513.8 606.3L514.8 606.6L515.8 606.9L516.8 607.2L517.8 607.6L518.8 608.1L519.5 608.4L519.8 608.6L520.8 609.2L521.8 609.8L522.8 610.5L523.8 611.2L524.8 612.0L525.8 612.9L526.8 613.8L527.8 614.8L528.6 615.6L528.8 615.8L529.8 616.9L530.8 618.1L531.8 619.3L532.8 620.6L533.8 621.9L534.8 623.3L535.8 624.8L536.4 625.7L536.8 626.3L537.8 627.9L538.8 629.5L539.8 631.2L540.8 633.0L541.8 634.8L542.8 636.6L543.8 638.5L544.2 639.3L544.8 640.4L545.8 642.4L546.8 644.3L547.8 646.3L548.8 648.3L549.8 650.4L550.8 652.4L551.8 654.4L552.0 654.8L552.8 656.5L553.8 658.5L554.8 660.5L555.8 662.4L556.8 664.3L557.8 666.1L558.5 667.3L558.8 667.8L559.8 669.4L560.8 670.9L561.8 672.2L562.8 673.4L563.8 674.4L564.8 675.1L565.0 675.3L565.8 675.7L566.8 676.1L567.8 676.2L568.8 676.2L569.8 676.1L570.2 676.0L570.8 675.8L571.8 675.4L572.8 675.0L573.8 674.4L574.8 673.8L575.0 673.7L575.8 673.1L576.8 672.4L577.8 671.7L578.8 671.0L579.8 670.2L580.8 669.4L581.8 668.6L582.8 667.7L583.8 666.9L584.8 666.0L585.8 665.1L586.8 664.2L587.8 663.3L588.8 662.3L589.8 661.4L590.8 660.5L591.8 659.6L591.9 659.5L592.8 658.6L593.8 657.7L594.8 656.8L595.8 655.9L596.8 655.0L597.8 654.1L598.8 653.2L599.8 652.4L600.8 651.6L601.0 651.4L601.8 650.7L602.8 650.0L603.8 649.2L604.8 648.5L605.8 647.7L606.8 647.0L607.8 646.4L608.8 645.7L609.8 645.1L610.8 644.5L611.4 644.2L611.8 643.9L612.8 643.4L613.8 642.8L614.8 642.3L615.8 641.9L616.8 641.4L617.8 641.0L618.8 640.6L619.8 640.2L620.8 639.9L621.8 639.5L622.8 639.2L623.8 638.9L624.8 638.7L625.8 638.5L626.8 638.3L627.8 638.1L628.8 638.0L629.8 637.9L630.8 637.9L631.8 637.8L632.8 637.9L633.8 637.9L634.8 638.0L635.8 638.1L636.8 638.3L637.8 638.5L638.8 638.8L639.8 639.1L639.9 639.1L640.8 639.4L641.8 639.8L642.8 640.3L643.8 640.7L644.8 641.2L645.8 641.8L646.8 642.3L647.8 642.9L648.8 643.5L649.8 644.1L650.3 644.4L650.8 644.7L651.8 645.3L652.8 645.9L653.8 646.6L654.8 647.2L655.8 647.8L656.8 648.4L657.8 649.0L658.8 649.6L659.8 650.1L660.7 650.6L660.8 650.6L661.8 651.1L662.8 651.6L663.8 652.0L664.8 652.4L665.8 652.8L666.8 653.2L667.8 653.5L668.8 653.7L669.8 654.0L670.8 654.2L671.8 654.3L672.8 654.4L673.8 654.5L674.8 654.5L675.8 654.5L676.8 654.5L677.6 654.4L677.8 654.4L678.8 654.2L679.8 654.0L680.8 653.7L681.8 653.4L682.8 653.1L683.8 652.7L684.8 652.2L685.0 652.1L685.8 651.7L686.8 651.1L687.8 650.5L688.8 649.8L689.8 649.1L690.8 648.4L691.8 647.7L692.8 646.9L693.8 646.2L694.8 645.4L695.8 644.6L696.8 643.9L697.8 643.1L698.8 642.4L699.8 641.7L700.8 641.1L701.8 640.5L701.9 640.4L702.8 639.9L703.8 639.4L704.8 638.9L705.8 638.5L706.8 638.1L707.8 637.8L708.8 637.5L709.8 637.2L710.8 637.0L711.0 637.0L711.8 636.9L712.8 636.8L713.8 636.8L714.8 636.8L715.8 636.8L716.8 637.0L717.5 637.1L717.8 637.1L718.8 637.3L719.8 637.6L720.8 637.9L721.8 638.3L722.8 638.7L723.8 639.2L724.8 639.7L725.8 640.3L726.6 640.8L726.8 640.9L727.8 641.6L728.8 642.3L729.8 643.1L730.8 644.0L731.8 644.9L732.8 645.8L733.8 646.9L734.4 647.5L734.8 647.9L735.8 649.1L736.8 650.2L737.8 651.4L738.8 652.7L739.8 654.0L740.8 655.3L741.8 656.6L742.1 657.0L742.8 658.0L743.8 659.3L744.8 660.7L745.8 662.1L746.8 663.4L747.8 664.7L748.8 666.1L749.8 667.4L749.9 667.5L750.8 668.6L751.8 669.9L752.8 671.1L753.8 672.2L754.8 673.3L755.8 674.3L756.8 675.3L757.7 676.1L757.8 676.2L758.8 677.1L759.8 677.8L760.8 678.4L761.8 679.0L762.8 679.3L763.8 679.6L764.2 679.6L764.8 679.6L765.8 679.5L766.8 679.3L767.8 678.9L768.8 678.4L769.8 677.8L770.8 677.2L771.8 676.5L772.8 675.7L773.3 675.4L773.8 675.0L774.8 674.2L775.8 673.4L776.8 672.6L777.8 671.8L778.8 671.0L779.8 670.2L780.8 669.4L781.8 668.6L782.8 667.8L783.7 667.1L783.8 667.0L784.8 666.2L785.8 665.4L786.8 664.5L787.8 663.7L788.8 663.0L789.8 662.2L790.8 661.4L791.8 660.6L792.8 659.9L793.8 659.1L794.8 658.4L795.0 658.2L795.8 657.7L796.8 657.0L797.8 656.3L798.8 655.6L799.8 655.0L800.8 654.3L801.8 653.7L802.8 653.1L803.8 652.6L804.8 652.0L805.8 651.5L806.8 651.0L807.8 650.6L808.8 650.1L809.8 649.7L810.8 649.3L811.8 649.0L811.9 649.0L812.8 648.7L813.8 648.4L814.8 648.1L815.8 647.9L816.8 647.7L817.8 647.5L818.8 647.4L819.8 647.3L820.8 647.3L821.8 647.2L822.3 647.2L822.8 647.3L823.8 647.3L824.8 647.4L825.8 647.5L826.8 647.7L827.8 647.9L828.8 648.2L829.8 648.5L830.8 648.8L831.8 649.2L832.7 649.6L832.8 649.6L833.8 650.1L834.8 650.6L835.8 651.2L836.8 651.8L837.8 652.5L838.8 653.2L839.8 654.0L840.8 654.8L841.8 655.7L842.8 656.7L843.8 657.7L844.8 658.7L845.8 659.8L846.8 661.0L847.8 662.2L848.8 663.5L849.5 664.5L849.8 664.9L850.8 666.3L851.8 667.8L852.8 669.2L853.8 670.7L854.8 672.1L855.8 673.5L856.8 674.9L857.3 675.5L857.8 676.1L858.8 677.2L859.8 678.2L860.8 679.1L861.8 679.8L862.8 680.3L863.8 680.6L864.8 680.7L865.8 680.6L866.8 680.3L867.8 679.9L868.8 679.4L869.8 678.8L870.8 678.1L871.6 677.6L871.8 677.5L872.8 676.8L873.8 676.2L874.8 675.5L875.8 674.9L876.8 674.2L877.8 673.6L878.8 672.9L879.8 672.2L880.7 671.6L880.8 671.5L881.8 670.8L882.8 670.0L883.8 669.2L884.8 668.4L885.8 667.6L886.8 666.8L887.8 665.9L888.8 665.1L889.8 664.2L890.8 663.4L891.1 663.1L891.8 662.5L892.8 661.7L893.8 660.8L894.8 660.0L895.8 659.1L896.8 658.3L897.8 657.4L898.8 656.6L898.9 656.6L899.8 655.8L900.8 655.0L901.8 654.3L902.8 653.5L903.8 652.8L904.8 652.1L905.0 651.9L905.8 651.4L906.8 650.7L907.8 650.0L908.8 649.4L909.8 648.7L910.8 648.1L911.8 647.5L912.8 647.0L913.8 646.4L914.1 646.3L914.8 645.9L915.8 645.4L916.8 644.9L917.8 644.4L918.8 643.9L919.8 643.5L920.8 643.1L921.8 642.7L922.8 642.3L923.8 642.0L924.5 641.8L924.8 641.7L925.8 641.4L926.8 641.1L927.8 640.9L928.8 640.6L929.8 640.4L930.8 640.2L931.8 640.1L932.8 639.9L933.8 639.8L934.8 639.7L934.9 639.7L935.8 639.6L936.8 639.5L937.8 639.5L938.8 639.4L939.8 639.4L940.8 639.4L941.8 639.5L942.8 639.5L943.8 639.6L944.0 639.6L944.8 639.7L945.8 639.8L946.8 639.9L947.8 640.0L948.8 640.2L949.8 640.4L950.8 640.6L951.8 640.8L952.8 641.0L953.8 641.3L954.4 641.5L954.8 641.6L955.8 642.0L956.8 642.3L957.8 642.7L958.8 643.2L959.8 643.6L960.8 644.1L961.8 644.6L962.8 645.2L963.8 645.8L964.7 646.3L964.8 646.4L965.8 647.1L966.8 647.8L967.8 648.5L968.8 649.3L969.8 650.0L970.8 650.8L971.8 651.6L972.8 652.4L973.8 653.2L974.8 653.9L975.1 654.2L975.8 654.7L976.8 655.5L977.8 656.2L978.8 656.9L979.8 657.5L980.8 658.2L981.8 658.8L982.8 659.3L983.8 659.8L984.8 660.2L985.5 660.5L985.8 660.6L986.8 660.9L987.8 661.1L988.8 661.3L989.8 661.3L990.8 661.3L991.8 661.2L992.8 661.1L993.3 661.0L993.8 660.8L994.8 660.5L995.8 660.0L996.8 659.5L997.8 658.8L998.8 658.1L999.8 657.2L1000.8 656.2L1001.1 655.9L1001.8 655.2L1002.8 654.0L1003.8 652.7L1004.8 651.4L1005.8 650.1L1006.8 648.8L1007.8 647.6L1008.8 646.4L1008.9 646.3L1009.8 645.3L1010.8 644.3L1011.8 643.4L1012.8 642.5L1013.8 641.8L1014.8 641.2L1015.0 641.1L1015.8 640.7L1016.8 640.3L1017.8 639.8L1018.8 639.4L1019.8 638.9L1020.8 638.3L1021.8 637.8L1022.8 637.2L1023.8 636.7L1024.8 636.1L1025.8 635.5L1026.8 634.9L1026.9 634.9L1027.8 634.4L1028.8 633.8L1029.8 633.3L1030.8 632.8L1031.8 632.3L1032.8 631.8L1033.8 631.4L1034.8 631.1L1035.8 630.8L1036.8 630.5L1037.8 630.3L1038.8 630.2L1039.8 630.1L1039.9 630.1L1040.8 630.2L1041.8 630.2L1042.8 630.4L1043.8 630.7L1044.8 631.0L1045.8 631.3L1046.8 631.8L1047.8 632.2L1048.8 632.8L1049.8 633.4L1050.8 634.1L1051.6 634.6L1051.8 634.8L1052.8 635.5L1053.8 636.3L1054.8 637.2L1055.8 638.0L1056.8 639.0L1057.8 639.9L1058.8 640.9L1059.8 641.9L1060.8 643.0L1061.8 644.1L1061.9 644.2L1062.8 645.2L1063.8 646.3L1064.8 647.5L1065.8 648.9L1066.8 650.3L1067.8 651.9L1068.8 653.7L1069.7 655.5L1069.8 655.7L1070.8 657.8L1071.8 660.1L1072.8 662.5L1073.8 664.8L1074.8 667.0L1075.1 667.6L1075.8 668.9L1076.8 670.6L1077.8 672.1L1078.8 673.4L1079.8 674.5L1080.1 674.7L1080.8 675.3L1081.8 676.0L1082.8 676.5L1083.8 676.8L1084.8 677.0L1085.8 677.1L1086.1 677.1L1086.8 677.0L1087.8 676.8L1088.8 676.6L1089.8 676.2L1090.8 675.8L1091.8 675.4L1092.8 674.9L1093.7 674.4L1093.8 674.3L1094.8 673.8L1095.8 673.2L1096.8 672.7L1097.8 672.1L1098.8 671.6L1099.8 671.0L1100.8 670.4L1101.8 669.8L1102.1 669.7L1102.8 669.3L1103.8 668.7L1104.8 668.2L1105.8 667.6L1106.8 667.1L1107.8 666.5L1108.8 666.0L1109.8 665.5L1110.6 665.1L1110.8 665.1L1111.8 664.6L1112.8 664.2L1113.8 663.7L1114.8 663.4L1115.8 663.0L1116.8 662.7L1117.8 662.3L1118.8 662.1L1119.0 662.0L1119.8 661.8L1120.8 661.6L1121.8 661.5L1122.8 661.3L1123.8 661.3L1124.8 661.2L1125.8 661.2L1126.8 661.3L1127.8 661.4L1128.8 661.5L1129.2 661.6L1129.8 661.7L1130.8 662.0L1131.8 662.3L1132.8 662.7L1133.8 663.1L1134.8 663.5L1135.8 664.0L1136.8 664.5L1137.7 665.0L1137.8 665.0L1138.8 665.6L1139.8 666.2L1140.8 666.8L1141.8 667.4L1142.8 668.1L1143.8 668.7L1144.8 669.4L1145.8 670.1L1146.1 670.3L1146.8 670.8L1147.8 671.4L1148.8 672.1L1149.8 672.8L1150.8 673.5L1151.8 674.1L1152.8 674.8L1153.8 675.4L1154.6 675.9L1154.8 676.0L1155.8 676.6L1156.8 677.2L1157.8 677.7L1158.8 678.2L1159.8 678.7L1160.8 679.1L1161.8 679.5L1162.8 679.9L1163.0 679.9L1163.8 680.2L1164.8 680.4L1165.8 680.6L1166.8 680.8L1167.8 680.9L1168.8 680.9L1168.9 680.9L1169.8 680.8L1170.8 680.7L1171.8 680.6L1172.8 680.4L1173.8 680.1L1174.8 679.8L1175.8 679.4L1176.8 679.0L1177.8 678.5L1178.2 678.3L1178.8 678.0L1179.8 677.4L1180.8 676.8L1181.8 676.2L1182.8 675.5L1183.8 674.8L1184.8 674.1L1185.0 673.9L1185.8 673.3L1186.8 672.5L1187.8 671.7L1188.8 670.9L1189.8 670.0L1190.8 669.1L1191.8 668.2L1192.8 667.3L1193.8 666.4L1194.8 665.4L1195.4 664.9L1195.8 664.5L1196.8 663.6L1197.8 662.6L1198.8 661.7L1199.8 660.7L1200.8 659.8L1201.8 658.8L1202.8 657.9L1203.8 657.0L1204.8 656.0L1205.8 655.1L1206.8 654.3L1207.8 653.4L1208.8 652.5L1209.8 651.7L1210.8 650.9L1211.8 650.1L1212.8 649.3L1213.8 648.6L1214.8 647.9L1215.8 647.1L1216.2 646.9L1216.8 646.5L1217.8 645.8L1218.8 645.1L1219.8 644.5L1220.8 643.9L1221.8 643.4L1222.8 642.8L1223.8 642.3L1224.8 641.8L1225.8 641.3L1226.8 640.9L1227.8 640.5L1227.9 640.4L1228.8 640.1L1229.8 639.7L1230.8 639.4L1231.8 639.1L1232.8 638.8L1233.8 638.6L1234.8 638.4L1235.8 638.2L1236.8 638.1L1237.8 638.0L1238.8 637.9L1239.8 637.9L1240.8 637.9L1241.8 637.9L1242.8 638.0L1243.8 638.1L1244.8 638.3L1245.8 638.4L1246.8 638.7L1247.8 638.9L1248.8 639.2L1249.8 639.6L1250.8 639.9L1251.8 640.4L1252.8 640.8L1253.8 641.3L1254.8 641.9L1255.8 642.5L1256.8 643.1L1257.8 643.8L1258.8 644.5L1259.8 645.3L1260.8 646.1L1261.8 647.0L1262.8 647.9L1263.8 648.8L1264.8 649.8L1265.5 650.6L1265.8 650.9L1266.8 652.0L1267.8 653.1L1268.8 654.3L1269.8 655.6L1270.8 656.8L1271.8 658.1L1272.8 659.4L1273.8 660.8L1274.8 662.2L1275.8 663.5L1275.9 663.7L1276.8 664.9L1277.8 666.4L1278.8 667.8L1279.8 669.2L1280.8 670.6L1281.8 672.1L1282.8 673.5L1283.7 674.7L1283.8 674.9L1284.8 676.3L1285.8 677.6L1286.8 678.9L1287.8 680.2L1288.8 681.3L1289.8 682.3L1290.2 682.6L1290.8 683.1L1291.8 683.8L1292.8 684.3L1293.8 684.6L1294.8 684.6L1295.0 684.6L1295.8 684.4L1296.8 684.0L1297.8 683.4L1298.8 682.6L1299.8 681.8L1300.8 680.8L1301.8 679.9L1302.8 678.9L1303.8 678.0L1304.8 677.1L1305.8 676.2L1306.8 675.4L1307.8 674.6L1308.8 673.9L1309.8 673.1L1310.8 672.4L1311.8 671.7L1312.8 671.0L1313.8 670.3L1314.5 669.9L1314.8 669.6L1315.8 669.0L1316.8 668.3L1317.8 667.6L1318.8 666.9L1319.8 666.3L1320.8 665.6L1321.8 664.9L1322.8 664.3L1323.8 663.7L1324.8 663.1L1325.8 662.5L1326.8 661.9L1327.5 661.5L1327.8 661.4L1328.8 660.9L1329.8 660.4L1330.8 659.9L1331.8 659.4L1332.8 659.0L1333.8 658.6L1334.8 658.2L1335.8 657.9L1336.8 657.5L1337.8 657.2L1338.8 656.9L1339.2 656.8L1339.8 656.7L1340.8 656.4L1341.8 656.2L1342.8 656.0L1343.8 655.9L1344.8 655.7L1345.8 655.6L1346.8 655.5L1347.8 655.5L1348.8 655.4L1349.8 655.4L1350.8 655.4L1351.8 655.5L1352.8 655.6L1353.8 655.6L1354.8 655.7L1355.8 655.9L1356.8 656.0L1357.8 656.2L1358.8 656.4L1359.8 656.6L1360.8 656.8L1361.8 657.0L1362.8 657.3L1363.8 657.6L1364.8 657.8L1365.8 658.1L1366.8 658.4L1367.8 658.7L1368.8 659.0L1369.8 659.3L1370.8 659.6L1371.8 660.0L1372.8 660.3L1373.8 660.6L1374.8 660.9L1375.5 661.2L1375.8 661.3L1376.8 661.6L1377.8 661.9L1378.8 662.2L1379.8 662.5L1380.8 662.9L1381.8 663.2L1382.8 663.4L1383.8 663.7L1384.8 664.0L1385.8 664.3L1385.9 664.3L1386.8 664.5L1387.8 664.7L1388.8 665.0L1389.8 665.2L1390.8 665.4L1391.8 665.5L1392.8 665.7L1393.8 665.8L1394.8 665.9L1395.8 666.0L1396.8 666.1L1397.3 666.1" stroke="#00ffff" stroke-width="6.5" fill="none" stroke-linejoin="round" stroke-linecap="round"/>
</g>
<defs><clipPath id="clipc"><rect x="130.30" y="847.90" width="1271.00" height="266.40"/></clipPath></defs>
<rect x="134.30" y="851.90" width="1263.00" height="258.40" fill="none" stroke="#262626" stroke-width="1.7"/>
<path d="M134.30 1110.30V1096.80M134.30 851.90V865.40M344.80 1110.30V1096.80M344.80 851.90V865.40M555.30 1110.30V1096.80M555.30 851.90V865.40M765.80 1110.30V1096.80M765.80 851.90V865.40M976.30 1110.30V1096.80M976.30 851.90V865.40M1186.80 1110.30V1096.80M1186.80 851.90V865.40M1397.30 1110.30V1096.80M1397.30 851.90V865.40M134.30 1110.30H147.80M1397.30 1110.30H1383.80M134.30 1024.17H147.80M1397.30 1024.17H1383.80M134.30 938.03H147.80M1397.30 938.03H1383.80M134.30 851.90H147.80M1397.30 851.90H1383.80" stroke="#262626" stroke-width="1.7" fill="none"/>
<text x="134.30" y="1166.60" text-anchor="middle" class="t">0</text>
<text x="344.80" y="1166.60" text-anchor="middle" class="t">5</text>
<text x="555.30" y="1166.60" text-anchor="middle" class="t">10</text>
<text x="765.80" y="1166.60" text-anchor="middle" class="t">15</text>
<text x="976.30" y="1166.60" text-anchor="middle" class="t">20</text>
<text x="1186.80" y="1166.60" text-anchor="middle" class="t">25</text>
<text x="1397.30" y="1166.60" text-anchor="middle" class="t">30</text>
<text x="117.00" y="1124.90" text-anchor="end" class="t">0</text>
<text x="117.00" y="1038.77" text-anchor="end" class="t">0.5</text>
<text x="117.00" y="952.63" text-anchor="end" class="t">1</text>
<text x="117.00" y="866.50" text-anchor="end" class="t">1.5</text>
<text x="770.30" y="1218.60" text-anchor="middle" class="tb">(c) Time (s)</text>
<text transform="translate(34.8 982.10) rotate(-90)" text-anchor="middle" class="tb">errors</text>
<g clip-path="url(#clipc)">
<path d="M136.6 856.5L137.6 860.8L138.6 865.2L139.6 869.7L140.6 874.2L141.6 878.8L142.6 883.4L143.6 888.1L144.0 890.0L144.6 892.9L145.6 897.7L146.6 902.6L147.6 907.6L148.6 912.7L149.6 917.7L150.6 922.7L151.6 927.8L152.1 930.0L152.6 932.7L153.6 937.7L154.6 942.7L155.6 947.7L156.6 952.6L157.6 957.6L158.6 962.6L159.6 967.5L160.1 970.0L160.6 972.5L161.6 977.5L162.6 982.6L163.6 987.6L164.6 992.6L165.6 997.6L166.6 1002.4L167.6 1007.1L168.2 1010.0L168.6 1011.5L169.6 1015.8L170.6 1019.9L171.6 1023.9L172.6 1027.9L173.6 1031.9L174.5 1035.5L174.6 1035.9L175.6 1040.0L176.6 1044.2L177.6 1048.4L178.6 1052.6L179.6 1056.8L180.6 1060.9L181.6 1064.9L182.1 1066.9L182.6 1068.9L183.6 1073.2L184.6 1077.5L185.6 1081.4L186.6 1084.6L187.1 1085.8L187.6 1086.8L188.6 1088.7L189.6 1090.5L190.6 1092.0L191.6 1093.2L192.6 1094.1L193.5 1094.6L193.6 1094.6L194.6 1095.0L195.6 1095.3L196.6 1095.4L197.5 1095.5L197.6 1095.5L198.6 1094.8L199.6 1093.4L200.6 1091.4L201.6 1089.2L202.6 1087.2L203.6 1085.6L203.7 1085.5L204.6 1084.5L205.6 1083.4L206.6 1082.5L207.6 1081.6L208.6 1080.9L209.6 1080.4L210.6 1080.0L211.6 1079.7L212.6 1079.3L213.6 1079.1L214.6 1078.8L215.6 1078.6L216.6 1078.4L217.6 1078.3L218.1 1078.3L218.6 1078.3L219.6 1078.2L220.6 1078.2L221.6 1078.2L222.6 1078.1L223.6 1078.1L224.6 1078.1L225.6 1078.1L226.6 1078.0L227.6 1078.0L228.6 1078.0L229.6 1077.9L230.6 1077.9L230.7 1077.9L231.6 1077.8L232.6 1077.8L233.6 1077.7L234.6 1077.6L235.6 1077.5L236.6 1077.4L237.6 1077.3L238.6 1077.1L239.6 1077.0L240.6 1076.9L241.6 1076.7L242.6 1076.6L243.4 1076.5L243.6 1076.5L244.6 1076.3L245.6 1076.2L246.6 1076.0L247.6 1075.9L248.6 1075.7L249.6 1075.5L250.6 1075.4L251.6 1075.2L252.6 1075.0L253.6 1074.9L254.6 1074.7L255.6 1074.6L256.1 1074.5L256.6 1074.4L257.6 1074.3L258.6 1074.1L259.6 1074.0L260.6 1073.8L261.6 1073.6L262.6 1073.5L263.6 1073.3L264.6 1073.2L265.6 1073.1L266.6 1073.0L267.6 1072.9L268.6 1072.9L268.8 1072.9L269.6 1072.9L270.6 1072.9L271.6 1072.8L272.6 1072.8L273.6 1072.8L274.6 1072.8L275.6 1072.8L276.6 1072.8L277.3 1072.8L277.6 1072.8L278.6 1072.8L279.6 1072.9L280.6 1073.1L281.6 1073.2L282.6 1073.5L283.6 1073.7L284.6 1073.9L285.6 1074.2L286.6 1074.4L287.6 1074.7L288.1 1074.8L288.6 1074.9L289.6 1075.2L290.6 1075.5L291.6 1075.8L292.6 1076.1L293.6 1076.5L294.6 1076.8L295.6 1077.2L296.6 1077.6L297.4 1078.0L297.6 1078.1L298.6 1078.6L299.6 1079.2L300.6 1079.8L301.6 1080.5L302.6 1081.3L303.6 1082.0L304.6 1082.8L305.6 1083.5L306.6 1084.3L307.6 1085.0L308.6 1085.6L309.2 1086.0L309.6 1086.2L310.6 1086.8L311.6 1087.4L312.6 1087.9L313.6 1088.5L314.6 1089.0L315.6 1089.5L316.6 1090.0L317.6 1090.5L318.6 1091.0L319.6 1091.5L320.6 1091.9L321.6 1092.4L321.9 1092.5L322.6 1092.8L323.6 1093.2L324.6 1093.6L325.6 1093.9L326.6 1094.3L327.6 1094.6L328.6 1094.9L329.6 1095.3L330.6 1095.6L331.6 1095.9L332.6 1096.3L333.6 1096.6L334.6 1097.0L335.6 1097.4L336.6 1097.8L337.6 1098.3L338.6 1098.8L339.6 1099.3L340.6 1099.8L341.6 1100.4L342.6 1100.9L343.6 1101.4L344.6 1101.9L345.6 1102.3L346.6 1102.7L347.6 1103.1L348.6 1103.4L349.6 1103.7L350.6 1103.9L351.5 1104.0L351.6 1104.0L352.6 1104.1L353.6 1104.2L354.6 1104.3L355.6 1104.4L356.6 1104.4L357.6 1104.5L358.6 1104.6L359.6 1104.6L360.6 1104.7L361.6 1104.7L362.6 1104.8L363.6 1104.8L364.6 1104.9L365.6 1104.9L366.6 1104.9L367.6 1105.0L368.6 1105.0L369.6 1105.0L370.0 1105.0L370.6 1105.0L371.6 1105.0L372.6 1105.0L373.6 1105.0L374.6 1105.1L375.6 1105.1L376.6 1105.1L377.6 1105.1L378.6 1105.1L379.6 1105.1L380.6 1105.1L381.6 1105.1L382.6 1105.1L383.6 1105.1L384.6 1105.2L385.6 1105.2L386.6 1105.2L387.6 1105.2L388.6 1105.2L389.6 1105.2L390.6 1105.2L391.6 1105.2L392.6 1105.2L393.6 1105.2L394.6 1105.2L395.6 1105.2L396.5 1105.2L396.6 1105.2L397.6 1105.2L398.6 1105.1L399.6 1105.0L400.6 1104.9L401.6 1104.8L402.6 1104.6L403.6 1104.5L404.6 1104.3L405.6 1104.1L406.6 1103.9L407.6 1103.7L408.6 1103.5L409.6 1103.3L410.6 1103.1L411.6 1102.9L412.0 1102.9L412.6 1102.8L413.6 1102.6L414.6 1102.4L415.6 1102.3L416.6 1102.1L417.6 1101.9L418.6 1101.7L419.6 1101.6L420.6 1101.4L421.6 1101.2L422.6 1101.0L423.6 1100.8L424.6 1100.7L425.6 1100.5L426.6 1100.3L427.6 1100.1L428.6 1099.9L429.6 1099.7L430.6 1099.5L431.6 1099.3L432.6 1099.1L433.6 1098.9L434.6 1098.6L435.6 1098.4L436.6 1098.2L437.6 1098.0L438.6 1097.7L439.6 1097.5L440.6 1097.3L441.6 1097.0L442.6 1096.8L443.0 1096.7L443.6 1096.5L444.6 1096.3L445.6 1096.0L446.6 1095.7L447.6 1095.4L448.6 1095.1L449.6 1094.7L450.6 1094.4L451.6 1094.1L452.6 1093.7L453.6 1093.4L454.6 1093.0L455.6 1092.7L456.6 1092.3L457.6 1092.0L458.6 1091.6L459.6 1091.3L460.6 1090.9L461.6 1090.5L462.6 1090.2L463.6 1089.8L464.6 1089.5L465.6 1089.1L466.3 1088.9L466.6 1088.8L467.6 1088.5L468.6 1088.1L469.6 1087.7L470.6 1087.3L471.6 1086.8L472.6 1086.4L473.6 1085.9L474.6 1085.5L475.6 1085.1L476.6 1084.6L477.6 1084.2L478.6 1083.8L479.6 1083.4L480.6 1083.0L481.6 1082.7L482.6 1082.3L483.6 1082.0L484.6 1081.8L485.6 1081.6L486.6 1081.4L487.6 1081.3L488.6 1081.2L489.5 1081.2L489.6 1081.2L490.6 1081.2L491.6 1081.3L492.6 1081.4L493.6 1081.6L494.6 1081.9L495.6 1082.2L496.6 1082.5L497.6 1082.8L498.6 1083.2L499.6 1083.6L500.6 1084.0L501.6 1084.4L502.6 1084.8L503.6 1085.2L504.6 1085.6L505.0 1085.8L505.6 1086.0L506.6 1086.5L507.6 1087.0L508.6 1087.5L509.6 1088.1L510.6 1088.7L511.6 1089.3L512.6 1090.0L513.6 1090.6L514.6 1091.3L515.6 1091.9L516.6 1092.6L517.6 1093.3L518.6 1093.9L519.6 1094.5L520.5 1095.1L520.6 1095.2L521.6 1095.8L522.6 1096.4L523.6 1097.1L524.6 1097.7L525.6 1098.4L526.6 1099.1L527.6 1099.8L528.6 1100.4L529.6 1101.1L530.6 1101.7L531.6 1102.3L532.6 1102.9L533.6 1103.4L534.6 1103.8L535.6 1104.3L536.0 1104.4L536.6 1104.6L537.6 1105.0L538.6 1105.3L539.6 1105.7L540.6 1106.0L541.6 1106.4L542.6 1106.7L543.6 1107.0L544.6 1107.3L545.6 1107.5L546.6 1107.7L547.6 1107.9L548.6 1108.1L549.6 1108.2L550.6 1108.3L551.6 1108.3L551.6 1108.3L552.6 1108.3L553.6 1108.2L554.6 1108.0L555.6 1107.8L556.6 1107.6L557.6 1107.3L558.6 1107.0L559.6 1106.7L560.6 1106.4L561.6 1106.1L562.6 1105.8L563.6 1105.5L564.6 1105.2L565.6 1104.8L566.6 1104.5L567.6 1104.1L568.6 1103.8L569.6 1103.4L570.6 1103.0L571.6 1102.6L572.6 1102.2L573.6 1101.7L574.6 1101.2L575.6 1100.7L576.6 1100.2L577.6 1099.7L578.6 1099.1L579.6 1098.5L580.6 1097.9L581.6 1097.3L582.6 1096.7L583.6 1096.1L584.6 1095.5L585.6 1094.9L586.6 1094.4L587.6 1093.9L588.6 1093.4L589.6 1093.0L590.6 1092.7L591.6 1092.4L592.6 1092.1L593.6 1091.9L594.6 1091.6L595.6 1091.4L596.6 1091.2L597.6 1091.1L598.6 1090.9L599.6 1090.8L600.6 1090.7L601.6 1090.7L602.6 1090.6L603.6 1090.6L604.6 1090.6L605.6 1090.6L606.6 1090.7L607.6 1090.8L608.6 1090.9L609.6 1091.0L610.6 1091.2L611.6 1091.4L612.6 1091.6L613.6 1091.7L614.6 1091.9L615.6 1092.1L616.6 1092.4L617.6 1092.6L618.6 1092.8L619.6 1093.0L620.6 1093.2L621.6 1093.4L622.6 1093.6L623.6 1093.9L624.6 1094.1L625.6 1094.4L626.6 1094.8L627.6 1095.1L628.6 1095.5L629.6 1095.9L630.6 1096.2L631.6 1096.6L632.6 1097.0L633.6 1097.3L634.6 1097.7L635.6 1098.0L636.6 1098.3L637.6 1098.5L638.6 1098.7L639.6 1098.9L640.6 1099.1L641.6 1099.3L642.6 1099.5L643.6 1099.7L644.6 1099.9L645.6 1100.0L646.6 1100.1L647.6 1100.2L648.6 1100.2L649.6 1100.3L650.6 1100.3L651.6 1100.2L652.6 1100.2L653.6 1100.1L654.6 1100.0L655.6 1099.8L656.6 1099.6L657.6 1099.3L658.6 1099.0L659.6 1098.7L660.6 1098.4L661.6 1098.1L662.6 1097.8L663.6 1097.5L664.6 1097.2L665.6 1097.0L666.6 1096.7L667.6 1096.5L668.6 1096.3L669.6 1096.1L670.6 1095.9L671.6 1095.8L672.6 1095.5L673.6 1095.3L674.6 1095.1L675.6 1094.9L676.6 1094.6L677.6 1094.4L678.6 1094.2L679.6 1094.0L680.6 1093.7L681.6 1093.5L682.6 1093.3L683.6 1093.2L684.6 1093.0L685.6 1092.8L686.6 1092.6L687.6 1092.4L688.6 1092.2L689.6 1092.0L690.6 1091.8L691.6 1091.6L692.6 1091.3L693.6 1091.1L694.6 1090.9L695.6 1090.7L696.6 1090.5L697.6 1090.4L698.6 1090.2L699.6 1090.1L700.6 1090.1L701.6 1090.1L702.6 1090.1L703.6 1090.2L704.6 1090.5L705.6 1090.7L706.6 1091.0L707.6 1091.3L708.6 1091.7L709.6 1092.1L710.6 1092.5L711.6 1092.9L712.6 1093.3L713.6 1093.7L714.6 1094.1L715.6 1094.5L716.6 1094.9L717.6 1095.4L718.6 1095.9L719.6 1096.4L720.6 1096.9L721.6 1097.4L722.6 1098.0L723.6 1098.5L724.6 1099.1L725.6 1099.6L726.6 1100.1L727.6 1100.7L728.6 1101.2L729.6 1101.7L730.6 1102.2L731.6 1102.7L732.6 1103.3L733.6 1103.8L734.6 1104.4L735.6 1105.0L736.6 1105.6L737.6 1106.2L738.6 1106.8L739.6 1107.4L740.6 1107.9L741.6 1108.4L742.6 1108.8L743.6 1109.2L744.6 1109.5L745.6 1109.6L746.6 1109.8L747.6 1109.8L748.6 1109.8L749.6 1109.7L750.6 1109.7L751.6 1109.5L752.6 1109.3L753.6 1109.1L754.6 1108.9L755.6 1108.6L756.6 1108.3L757.6 1108.0L758.6 1107.6L759.6 1107.2L760.6 1106.9L761.6 1106.5L762.6 1106.0L763.6 1105.6L764.6 1105.1L765.6 1104.6L766.6 1104.1L767.6 1103.6L768.6 1103.0L769.6 1102.6L770.0 1102.4L770.6 1102.1L771.6 1101.6L772.6 1101.2L773.6 1100.7L774.6 1100.3L775.6 1099.9L776.6 1099.5L777.6 1099.1L778.6 1098.7L779.6 1098.4L780.6 1098.1L781.6 1097.8L782.6 1097.6L783.6 1097.4L784.6 1097.3L785.6 1097.2L786.6 1097.1L787.6 1097.0L788.6 1096.9L789.6 1096.8L790.6 1096.7L791.6 1096.5L792.6 1096.4L793.6 1096.3L794.6 1096.2L795.6 1096.1L796.6 1096.0L797.6 1095.9L798.6 1095.8L799.6 1095.7L800.6 1095.6L801.6 1095.5L802.6 1095.4L803.6 1095.3L804.1 1095.3L804.6 1095.3L805.6 1095.3L806.6 1095.3L807.6 1095.4L808.6 1095.5L809.6 1095.6L810.6 1095.8L811.6 1096.0L812.6 1096.2L813.6 1096.4L814.6 1096.7L815.6 1096.9L816.6 1097.2L817.6 1097.5L818.6 1097.8L819.6 1098.0L820.6 1098.3L821.6 1098.6L822.6 1099.0L823.6 1099.3L824.6 1099.7L825.6 1100.1L826.6 1100.5L827.6 1101.0L828.6 1101.4L829.6 1101.8L830.6 1102.1L831.6 1102.5L832.6 1102.9L833.6 1103.2L834.6 1103.4L835.1 1103.6L835.6 1103.7L836.6 1104.0L837.6 1104.3L838.6 1104.6L839.6 1104.9L840.6 1105.2L841.6 1105.5L842.6 1105.7L843.6 1106.0L844.6 1106.2L845.6 1106.4L846.6 1106.6L847.6 1106.7L848.6 1106.8L849.6 1106.8L850.6 1106.8L851.6 1106.9L852.6 1106.8L853.6 1106.8L854.6 1106.7L855.6 1106.7L856.6 1106.6L857.6 1106.5L858.6 1106.3L859.6 1106.2L860.6 1106.0L861.6 1105.9L862.6 1105.7L863.0 1105.6L863.6 1105.5L864.6 1105.2L865.6 1104.9L866.6 1104.5L867.6 1104.1L868.6 1103.7L869.6 1103.2L870.6 1102.7L871.6 1102.2L872.6 1101.7L873.6 1101.1L874.6 1100.6L875.6 1100.0L876.6 1099.5L877.6 1099.0L878.6 1098.5L879.6 1098.0L880.6 1097.6L881.6 1097.1L882.6 1096.7L883.6 1096.3L884.6 1095.9L885.6 1095.5L886.6 1095.1L887.6 1094.8L888.6 1094.4L889.6 1094.1L890.6 1093.8L891.6 1093.6L892.6 1093.3L893.6 1093.0L894.0 1092.9L894.6 1092.8L895.6 1092.6L896.6 1092.3L897.6 1092.1L898.6 1091.9L899.6 1091.7L900.6 1091.5L901.6 1091.2L902.6 1091.0L903.6 1090.8L904.6 1090.7L905.6 1090.5L906.6 1090.3L907.6 1090.2L908.6 1090.0L909.6 1089.9L910.6 1089.8L911.6 1089.7L912.6 1089.7L913.6 1089.6L914.6 1089.5L915.6 1089.4L916.6 1089.4L917.6 1089.4L918.6 1089.4L919.6 1089.4L920.6 1089.4L921.6 1089.4L921.9 1089.5L922.6 1089.5L923.6 1089.6L924.6 1089.7L925.6 1089.9L926.6 1090.1L927.6 1090.3L928.6 1090.5L929.6 1090.7L930.6 1090.9L931.6 1091.2L932.6 1091.4L933.6 1091.7L934.6 1091.9L935.6 1092.1L936.6 1092.3L937.6 1092.5L938.6 1092.7L939.6 1092.9L940.6 1093.2L941.6 1093.5L942.6 1093.8L943.6 1094.1L944.6 1094.5L945.6 1094.8L946.6 1095.2L947.6 1095.5L948.6 1095.9L949.6 1096.2L950.6 1096.6L951.6 1096.9L952.6 1097.2L952.9 1097.3L953.6 1097.6L954.6 1097.9L955.6 1098.3L956.6 1098.7L957.6 1099.2L958.6 1099.6L959.6 1100.1L960.6 1100.6L961.6 1101.1L962.6 1101.7L963.6 1102.2L964.6 1102.6L965.6 1103.1L966.6 1103.5L967.6 1103.9L968.6 1104.2L969.6 1104.5L970.6 1104.7L971.6 1104.8L972.6 1104.9L973.6 1104.8L974.6 1104.5L975.6 1104.1L976.6 1103.8L977.6 1103.3L978.6 1102.8L979.6 1102.4L980.6 1102.0L981.6 1101.6L982.6 1101.2L983.6 1100.8L984.6 1100.3L985.6 1099.9L986.6 1099.4L987.6 1099.0L988.6 1098.5L989.6 1098.0L990.6 1097.5L991.6 1097.1L992.6 1096.6L993.6 1096.1L994.6 1095.7L995.5 1095.3L995.6 1095.2L996.6 1094.7L997.6 1094.3L998.6 1093.8L999.6 1093.3L1000.6 1092.8L1001.6 1092.3L1002.6 1091.8L1003.6 1091.3L1004.6 1090.8L1005.6 1090.3L1006.6 1089.9L1007.6 1089.5L1008.6 1089.1L1009.6 1088.8L1010.6 1088.5L1011.6 1088.2L1012.6 1088.0L1013.6 1087.7L1014.6 1087.5L1015.6 1087.3L1016.6 1087.0L1017.6 1086.8L1018.6 1086.6L1019.6 1086.5L1020.6 1086.3L1021.6 1086.2L1022.6 1086.2L1023.4 1086.1L1023.6 1086.1L1024.6 1086.2L1025.6 1086.3L1026.6 1086.5L1027.6 1086.7L1028.6 1087.0L1029.6 1087.4L1030.6 1087.8L1031.6 1088.2L1032.6 1088.7L1033.6 1089.2L1034.6 1089.8L1035.6 1090.3L1036.6 1090.8L1037.6 1091.4L1038.6 1091.9L1039.6 1092.4L1040.6 1093.0L1041.6 1093.6L1042.6 1094.2L1043.6 1094.8L1044.6 1095.4L1045.6 1096.0L1046.6 1096.6L1047.6 1097.2L1048.6 1097.8L1049.6 1098.4L1050.6 1098.9L1051.6 1099.4L1052.6 1099.8L1053.6 1100.2L1054.4 1100.5L1054.6 1100.6L1055.6 1101.0L1056.6 1101.3L1057.6 1101.7L1058.6 1102.0L1059.6 1102.3L1060.6 1102.7L1061.6 1103.0L1062.6 1103.3L1063.6 1103.5L1064.6 1103.7L1065.6 1103.9L1066.6 1104.0L1067.6 1104.1L1068.6 1104.2L1069.6 1104.2L1070.6 1104.3L1071.6 1104.4L1072.6 1104.5L1073.6 1104.6L1074.6 1104.7L1075.6 1104.8L1076.1 1104.8L1076.6 1104.8L1077.6 1104.7L1078.6 1104.7L1079.6 1104.6L1080.6 1104.4L1081.6 1104.2L1082.6 1104.0L1083.6 1103.7L1084.6 1103.5L1085.6 1103.2L1086.6 1102.9L1087.6 1102.5L1088.6 1102.3L1089.6 1102.0L1090.6 1101.7L1091.6 1101.5L1092.6 1101.2L1093.6 1101.0L1094.6 1100.7L1095.6 1100.4L1096.6 1100.2L1097.6 1099.9L1098.6 1099.6L1099.6 1099.4L1100.6 1099.1L1101.6 1098.8L1102.6 1098.6L1103.6 1098.4L1104.6 1098.2L1105.6 1098.0L1106.6 1097.8L1107.6 1097.6L1108.6 1097.5L1109.6 1097.3L1110.6 1097.2L1111.6 1097.1L1112.6 1097.1L1113.6 1097.0L1114.6 1097.0L1115.6 1097.0L1116.6 1097.0L1117.6 1097.1L1118.6 1097.1L1119.6 1097.2L1120.6 1097.4L1121.6 1097.5L1122.6 1097.6L1123.6 1097.8L1124.6 1097.9L1125.6 1098.1L1126.6 1098.3L1127.6 1098.5L1128.6 1098.6L1129.6 1098.8L1130.6 1099.0L1131.6 1099.2L1132.6 1099.5L1133.6 1099.7L1134.6 1099.9L1135.6 1100.1L1136.6 1100.4L1137.6 1100.7L1138.6 1101.0L1139.6 1101.4L1140.6 1101.8L1141.6 1102.2L1142.6 1102.6L1143.6 1103.1L1144.6 1103.6L1145.6 1104.1L1146.6 1104.6L1147.6 1105.1L1148.6 1105.6L1149.6 1106.1L1150.5 1106.5L1150.6 1106.5L1151.6 1107.0L1152.6 1107.5L1153.6 1108.1L1154.6 1108.6L1155.6 1109.1L1156.6 1109.5L1157.6 1109.8L1158.6 1110.0L1159.6 1110.0L1160.6 1110.0L1161.4 1110.0L1161.6 1110.0L1162.6 1110.0L1163.6 1110.0L1164.6 1110.0L1165.6 1109.9L1166.6 1109.8L1167.6 1109.5L1168.6 1109.0L1169.6 1108.4L1170.6 1108.0L1171.6 1107.5L1172.6 1107.0L1173.6 1106.6L1174.6 1106.2L1175.6 1105.7L1176.6 1105.3L1177.6 1104.9L1178.6 1104.4L1179.6 1104.0L1180.6 1103.5L1181.6 1103.1L1182.6 1102.6L1183.6 1102.2L1184.6 1101.7L1185.6 1101.3L1186.6 1100.9L1187.6 1100.4L1188.6 1100.0L1189.3 1099.7L1189.6 1099.6L1190.6 1099.1L1191.6 1098.7L1192.6 1098.2L1193.6 1097.7L1194.6 1097.3L1195.6 1096.8L1196.6 1096.3L1197.6 1095.8L1198.6 1095.3L1199.6 1094.8L1200.6 1094.4L1201.6 1094.0L1202.6 1093.6L1203.6 1093.3L1204.6 1093.0L1205.6 1092.8L1206.6 1092.5L1207.6 1092.3L1208.6 1092.2L1209.6 1092.0L1210.6 1091.8L1211.6 1091.7L1212.6 1091.6L1213.6 1091.5L1214.6 1091.4L1215.6 1091.4L1216.6 1091.3L1217.6 1091.3L1218.6 1091.3L1219.6 1091.3L1220.6 1091.3L1221.6 1091.4L1222.6 1091.4L1223.6 1091.5L1224.6 1091.6L1225.6 1091.7L1226.6 1091.9L1227.6 1092.0L1228.6 1092.2L1229.6 1092.4L1230.6 1092.6L1231.6 1092.8L1232.6 1093.0L1233.6 1093.3L1234.6 1093.5L1235.6 1093.7L1236.6 1093.9L1237.6 1094.1L1238.6 1094.4L1239.6 1094.6L1240.6 1094.8L1241.6 1095.0L1242.6 1095.2L1243.6 1095.5L1244.6 1095.9L1245.6 1096.3L1246.6 1096.7L1247.6 1097.2L1248.6 1097.7L1249.6 1098.2L1250.6 1098.8L1251.6 1099.3L1252.6 1099.9L1253.6 1100.4L1254.6 1101.0L1255.6 1101.5L1256.6 1102.0L1256.7 1102.0L1257.6 1102.4L1258.6 1102.9L1259.6 1103.4L1260.6 1103.9L1261.6 1104.4L1262.6 1104.8L1263.6 1105.3L1264.6 1105.7L1265.6 1106.2L1266.6 1106.6L1267.6 1106.9L1268.6 1107.3L1269.6 1107.6L1270.6 1107.9L1270.6 1107.9L1271.6 1108.1L1272.6 1108.4L1273.6 1108.6L1274.6 1108.8L1275.6 1109.0L1276.6 1109.2L1277.6 1109.3L1278.6 1109.5L1279.6 1109.6L1280.6 1109.6L1281.6 1109.6L1282.6 1109.6L1283.6 1109.5L1284.6 1109.4L1285.6 1109.2L1286.6 1109.0L1287.6 1108.7L1288.6 1108.4L1289.6 1108.1L1290.6 1107.8L1291.6 1107.4L1292.6 1107.1L1293.6 1106.7L1294.6 1106.4L1295.6 1106.0L1296.6 1105.6L1297.6 1105.3L1298.6 1104.9L1299.6 1104.6L1300.6 1104.2L1301.6 1103.8L1302.6 1103.4L1303.6 1102.9L1304.6 1102.4L1305.6 1101.9L1306.6 1101.4L1307.6 1100.9L1308.6 1100.4L1309.6 1099.9L1310.6 1099.4L1311.6 1099.0L1312.6 1098.5L1313.6 1098.1L1314.6 1097.7L1315.6 1097.4L1316.6 1097.1L1317.6 1096.8L1318.6 1096.6L1319.6 1096.4L1320.6 1096.2L1321.6 1096.0L1322.6 1095.9L1323.6 1095.7L1324.6 1095.6L1325.6 1095.6L1326.6 1095.5L1327.6 1095.5L1328.6 1095.5L1329.6 1095.5L1330.6 1095.5L1331.6 1095.5L1332.6 1095.6L1333.6 1095.7L1334.6 1095.8L1335.6 1095.9L1336.6 1096.0L1337.6 1096.1L1338.6 1096.2L1339.6 1096.3L1340.6 1096.5L1341.6 1096.6L1342.6 1096.7L1343.6 1096.8L1344.6 1096.9L1345.6 1097.0L1346.6 1097.1L1347.6 1097.2L1348.6 1097.3L1349.6 1097.4L1350.6 1097.4L1351.6 1097.5L1352.6 1097.6L1353.6 1097.6L1354.6 1097.7L1355.6 1097.8L1356.6 1097.8L1357.6 1097.9L1358.6 1097.9L1359.6 1098.0L1360.6 1098.1L1361.6 1098.1L1362.6 1098.2L1363.6 1098.3L1364.6 1098.4L1365.6 1098.6L1366.6 1098.7L1367.6 1098.8L1368.6 1099.0L1369.6 1099.1L1370.6 1099.3L1371.6 1099.4L1372.6 1099.6L1373.6 1099.7L1374.6 1099.8L1375.6 1099.9L1376.6 1100.1L1377.6 1100.1L1378.6 1100.2L1379.6 1100.3L1380.6 1100.3L1381.6 1100.4L1382.6 1100.4L1383.6 1100.4L1384.6 1100.4L1385.6 1100.3L1386.6 1100.3L1387.6 1100.3L1388.6 1100.2L1389.6 1100.2L1390.6 1100.2L1391.6 1100.1L1392.6 1100.1L1393.6 1100.0L1394.6 1100.0L1395.6 1099.9L1396.6 1099.9" stroke="#ff0000" stroke-width="6.5" fill="none" stroke-linejoin="round" stroke-linecap="round"/>
<path d="M135.8 991.0L136.8 995.9L137.8 1000.8L138.8 1005.7L139.8 1010.6L140.3 1013.0L140.8 1015.5L141.8 1020.5L142.8 1025.5L143.8 1030.4L144.8 1035.0L145.8 1039.4L146.8 1043.6L147.8 1047.5L148.5 1050.0L148.8 1051.0L149.8 1054.0L150.8 1056.8L151.8 1059.5L152.0 1060.0L152.8 1062.2L153.8 1064.8L154.8 1067.4L155.8 1069.6L156.0 1070.0L156.8 1071.5L157.8 1073.2L158.8 1074.8L159.8 1076.3L160.8 1077.7L161.0 1078.0L161.8 1079.2L162.8 1080.6L163.8 1082.0L164.8 1083.3L165.8 1084.6L166.8 1085.8L167.0 1086.0L167.8 1086.9L168.8 1088.0L169.8 1089.1L170.8 1090.1L171.8 1091.1L172.8 1092.1L173.8 1092.9L174.8 1093.7L175.8 1094.4L176.0 1094.5L176.8 1095.0L177.8 1095.6L178.8 1096.2L179.8 1096.7L180.8 1097.3L181.8 1097.8L182.8 1098.2L183.8 1098.7L184.8 1099.0L185.8 1099.3L186.8 1099.4L187.8 1099.5L188.0 1099.5L188.8 1099.5L189.8 1099.4L190.8 1099.2L191.8 1099.0L192.8 1098.8L193.8 1098.6L194.8 1098.4L195.8 1098.2L195.8 1098.2L196.8 1098.1L197.8 1097.9L198.8 1097.7L199.8 1097.6L200.8 1097.4L201.8 1097.2L202.8 1097.1L203.8 1096.9L204.8 1096.7L205.1 1096.7L205.8 1096.5L206.8 1096.4L207.8 1096.2L208.8 1096.0L209.8 1095.8L210.8 1095.6L211.8 1095.4L212.8 1095.2L213.8 1095.1L214.8 1094.9L215.8 1094.7L216.8 1094.5L217.5 1094.3L217.8 1094.3L218.8 1094.1L219.8 1093.9L220.8 1093.7L221.8 1093.5L222.8 1093.3L223.8 1093.1L224.8 1092.9L225.8 1092.7L226.8 1092.5L227.8 1092.3L228.8 1092.1L229.8 1091.9L230.8 1091.7L231.8 1091.5L232.8 1091.3L233.0 1091.2L233.8 1091.1L234.8 1090.8L235.8 1090.6L236.8 1090.4L237.8 1090.1L238.8 1089.9L239.8 1089.6L240.8 1089.3L241.8 1089.1L242.8 1088.8L243.8 1088.6L244.8 1088.3L245.8 1088.1L246.8 1087.8L247.8 1087.5L248.5 1087.4L248.8 1087.3L249.8 1087.0L250.8 1086.8L251.8 1086.5L252.8 1086.3L253.8 1086.0L254.8 1085.7L255.8 1085.5L256.8 1085.2L257.8 1085.0L258.8 1084.7L259.8 1084.5L260.8 1084.2L261.8 1084.0L262.8 1083.8L263.8 1083.5L264.0 1083.5L264.8 1083.3L265.8 1083.1L266.8 1082.8L267.8 1082.6L268.8 1082.3L269.8 1082.1L270.8 1081.9L271.8 1081.7L272.8 1081.5L273.8 1081.3L274.8 1081.2L275.8 1081.2L276.4 1081.2L276.8 1081.2L277.8 1081.2L278.8 1081.4L279.8 1081.6L280.8 1081.8L281.8 1082.1L282.8 1082.5L283.8 1082.9L284.8 1083.2L285.8 1083.7L286.8 1084.1L287.3 1084.3L287.8 1084.5L288.8 1085.0L289.8 1085.6L290.8 1086.2L291.8 1087.0L292.8 1087.7L293.8 1088.5L294.8 1089.3L295.8 1090.1L296.8 1091.0L297.8 1091.8L298.1 1092.0L298.8 1092.5L299.8 1093.4L300.8 1094.3L301.8 1095.2L302.8 1096.1L303.8 1097.0L304.8 1097.9L305.8 1098.7L306.8 1099.4L307.4 1099.8L307.8 1100.0L308.8 1100.5L309.8 1101.0L310.8 1101.5L311.8 1102.0L312.8 1102.5L313.8 1102.9L314.8 1103.3L315.8 1103.6L316.8 1104.0L317.8 1104.3L318.3 1104.4L318.8 1104.6L319.8 1104.9L320.8 1105.2L321.8 1105.4L322.8 1105.7L323.8 1106.0L324.8 1106.2L325.8 1106.4L326.8 1106.6L327.8 1106.7L328.8 1106.7L329.1 1106.7L329.8 1106.7L330.8 1106.7L331.8 1106.7L332.8 1106.7L333.8 1106.6L334.8 1106.6L335.8 1106.5L336.8 1106.4L337.8 1106.4L338.8 1106.3L339.8 1106.2L340.8 1106.1L341.6 1106.0L341.8 1105.9L342.8 1105.6L343.8 1105.1L344.8 1104.5L345.8 1103.8L346.8 1103.1L347.8 1102.4L348.8 1101.8L349.8 1101.4L350.0 1101.3L350.8 1101.1L351.8 1100.8L352.8 1100.5L353.8 1100.2L354.8 1099.9L355.8 1099.6L356.8 1099.4L357.8 1099.2L358.8 1098.9L359.8 1098.8L360.8 1098.6L361.8 1098.5L362.8 1098.3L363.8 1098.3L364.8 1098.2L365.5 1098.2L365.8 1098.2L366.8 1098.2L367.8 1098.3L368.8 1098.4L369.8 1098.5L370.8 1098.7L371.8 1098.9L372.8 1099.1L373.8 1099.3L374.8 1099.5L375.8 1099.8L376.8 1100.0L377.8 1100.3L378.8 1100.6L379.8 1100.8L380.8 1101.1L381.8 1101.4L382.8 1101.6L383.8 1101.9L384.8 1102.1L385.8 1102.3L386.8 1102.5L387.8 1102.7L388.8 1102.9L388.8 1102.9L389.8 1103.0L390.8 1103.2L391.8 1103.3L392.8 1103.5L393.8 1103.7L394.8 1103.8L395.8 1104.0L396.8 1104.2L397.8 1104.3L398.8 1104.5L399.8 1104.6L400.8 1104.8L401.8 1104.9L402.8 1105.0L403.8 1105.1L404.8 1105.3L405.8 1105.4L406.8 1105.4L407.8 1105.5L408.8 1105.6L409.8 1105.6L410.8 1105.6L411.8 1105.7L412.0 1105.7L412.8 1105.7L413.8 1105.6L414.8 1105.6L415.8 1105.5L416.8 1105.5L417.8 1105.4L418.8 1105.3L419.8 1105.2L420.8 1105.1L421.8 1104.9L422.8 1104.8L423.8 1104.6L424.8 1104.5L425.8 1104.3L426.8 1104.1L427.8 1103.9L428.8 1103.7L429.8 1103.5L430.8 1103.3L431.8 1103.0L432.8 1102.8L433.8 1102.6L434.8 1102.3L435.8 1102.1L436.8 1101.8L437.8 1101.6L438.8 1101.3L439.8 1101.1L440.8 1100.8L441.8 1100.5L442.8 1100.3L443.8 1100.0L444.8 1099.8L445.8 1099.5L446.8 1099.2L447.8 1099.0L448.8 1098.7L449.8 1098.5L450.8 1098.2L450.8 1098.2L451.8 1097.9L452.8 1097.7L453.8 1097.3L454.8 1097.0L455.8 1096.6L456.8 1096.2L457.8 1095.8L458.8 1095.4L459.8 1095.0L460.8 1094.5L461.8 1094.1L462.8 1093.6L463.8 1093.2L464.8 1092.7L465.8 1092.2L466.8 1091.7L467.8 1091.3L468.8 1090.8L469.8 1090.4L470.8 1089.9L471.8 1089.5L472.8 1089.1L473.8 1088.7L474.8 1088.3L475.8 1087.9L476.8 1087.6L477.8 1087.2L478.8 1087.0L479.8 1086.7L480.8 1086.5L481.8 1086.3L482.8 1086.1L483.8 1086.0L484.8 1085.9L485.8 1085.8L486.4 1085.8L486.8 1085.8L487.8 1085.9L488.8 1085.9L489.8 1086.0L490.8 1086.2L491.8 1086.4L492.8 1086.6L493.8 1086.8L494.8 1087.0L495.8 1087.3L496.8 1087.6L497.8 1087.9L498.8 1088.3L499.8 1088.6L500.8 1088.9L501.8 1089.3L502.8 1089.7L503.8 1090.0L504.8 1090.4L505.0 1090.5L505.8 1090.8L506.8 1091.2L507.8 1091.8L508.8 1092.3L509.8 1093.0L510.8 1093.6L511.8 1094.3L512.8 1095.0L513.8 1095.8L514.8 1096.5L515.8 1097.1L516.8 1097.8L517.8 1098.4L518.8 1099.0L519.8 1099.4L520.5 1099.8L520.8 1099.9L521.8 1100.3L522.8 1100.7L523.8 1101.1L524.8 1101.5L525.8 1101.9L526.8 1102.3L527.8 1102.7L528.8 1103.0L529.8 1103.4L530.8 1103.7L531.8 1103.9L532.8 1104.1L533.8 1104.3L534.8 1104.4L535.8 1104.4L536.0 1104.4L536.8 1104.4L537.8 1104.4L538.8 1104.3L539.8 1104.2L540.8 1104.1L541.8 1103.9L542.8 1103.8L543.8 1103.6L544.8 1103.5L545.8 1103.3L546.8 1103.2L547.8 1103.1L548.8 1103.0L549.8 1102.9L550.8 1102.9L551.6 1102.9L551.8 1102.9L552.8 1102.9L553.8 1103.1L554.8 1103.2L555.8 1103.5L556.8 1103.7L557.8 1104.0L558.8 1104.2L559.8 1104.5L560.8 1104.7L561.8 1104.9L562.8 1105.1L563.8 1105.2L564.6 1105.2L564.8 1105.2L565.8 1104.8L566.8 1104.2L567.6 1103.7L567.8 1103.6L568.8 1103.1L569.8 1102.6L570.6 1102.2L570.8 1102.1L571.8 1101.6L572.8 1101.1L573.6 1100.7L573.8 1100.6L574.8 1100.1L575.6 1099.8L575.8 1099.7L576.8 1099.2L577.8 1098.7L578.6 1098.3L578.8 1098.2L579.8 1097.8L580.8 1097.3L581.6 1096.9L581.8 1096.9L582.8 1096.4L583.8 1096.0L584.6 1095.7L584.8 1095.6L585.8 1095.3L586.8 1094.9L587.6 1094.7L587.8 1094.7L588.8 1094.4L589.8 1094.2L590.6 1094.1L590.8 1094.0L591.8 1093.9L592.6 1093.8L592.8 1093.8L593.8 1093.7L594.8 1093.5L595.6 1093.5L595.8 1093.4L596.8 1093.3L597.8 1093.2L598.6 1093.1L598.8 1093.1L599.8 1093.0L600.8 1093.0L601.6 1092.9L601.8 1092.9L602.8 1092.9L603.8 1092.8L604.6 1092.8L604.8 1092.8L605.8 1092.8L606.6 1092.8L606.8 1092.8L607.8 1092.9L608.8 1092.9L609.6 1093.0L609.8 1093.0L610.8 1093.1L611.8 1093.3L612.6 1093.4L612.8 1093.4L613.8 1093.6L614.8 1093.7L615.6 1093.9L615.8 1093.9L616.8 1094.1L617.8 1094.3L618.6 1094.5L618.8 1094.5L619.8 1094.7L620.8 1094.9L621.6 1095.1L621.8 1095.1L622.8 1095.3L623.6 1095.5L623.8 1095.6L624.8 1095.8L625.8 1096.1L626.6 1096.4L626.8 1096.5L627.8 1096.8L628.8 1097.1L629.6 1097.4L629.8 1097.5L630.8 1097.8L631.8 1098.2L632.6 1098.4L632.8 1098.5L633.8 1098.8L634.8 1099.0L635.6 1099.2L635.8 1099.3L636.8 1099.5L637.6 1099.6L637.8 1099.7L638.8 1099.8L639.8 1100.0L640.6 1100.1L640.8 1100.1L641.8 1100.2L642.8 1100.4L643.6 1100.5L643.8 1100.5L644.8 1100.6L645.8 1100.7L646.6 1100.7L646.8 1100.7L647.8 1100.7L648.8 1100.8L649.6 1100.8L649.8 1100.8L650.8 1100.8L651.8 1100.7L652.6 1100.7L652.8 1100.6L653.8 1100.5L654.6 1100.4L654.8 1100.4L655.8 1100.2L656.8 1099.9L657.6 1099.7L657.8 1099.7L658.8 1099.4L659.8 1099.1L660.6 1098.8L660.8 1098.8L661.8 1098.4L662.8 1098.1L663.6 1097.9L663.8 1097.8L664.8 1097.5L665.8 1097.2L666.6 1097.0L666.8 1097.0L667.8 1096.7L668.6 1096.6L668.8 1096.5L669.8 1096.3L670.8 1096.1L671.6 1095.9L671.8 1095.9L672.8 1095.7L673.8 1095.4L674.6 1095.2L674.8 1095.2L675.8 1095.0L676.8 1094.7L677.6 1094.6L677.8 1094.5L678.8 1094.3L679.8 1094.1L680.6 1094.0L680.8 1093.9L681.8 1093.8L682.8 1093.6L683.6 1093.6L683.8 1093.5L684.8 1093.4L685.6 1093.4L685.8 1093.3L686.8 1093.2L687.8 1093.1L688.6 1093.0L688.8 1093.0L689.8 1092.8L690.8 1092.7L691.6 1092.6L691.8 1092.6L692.8 1092.4L693.8 1092.3L694.6 1092.2L694.8 1092.2L695.8 1092.0L696.8 1091.9L697.6 1091.8L697.8 1091.8L698.8 1091.7L699.6 1091.7L699.8 1091.7L700.8 1091.7L701.8 1091.7L702.6 1091.8L702.8 1091.8L703.8 1091.9L704.8 1092.1L705.6 1092.3L705.8 1092.4L706.8 1092.7L707.8 1093.0L708.6 1093.2L708.8 1093.3L709.8 1093.7L710.8 1094.1L711.6 1094.4L711.8 1094.5L712.8 1094.9L713.8 1095.3L714.6 1095.6L714.8 1095.7L715.8 1096.1L716.6 1096.4L716.8 1096.5L717.8 1097.0L718.8 1097.5L719.6 1097.9L719.8 1098.0L720.8 1098.5L721.8 1099.1L722.6 1099.5L722.8 1099.7L723.8 1100.2L724.8 1100.8L725.6 1101.2L725.8 1101.4L726.8 1101.9L727.8 1102.4L728.6 1102.8L728.8 1102.9L729.8 1103.4L730.6 1103.8L730.8 1103.9L731.8 1104.4L732.8 1104.9L733.6 1105.3L733.8 1105.4L734.8 1105.9L735.8 1106.5L736.6 1106.9L736.8 1107.0L737.8 1107.5L738.8 1108.0L739.6 1108.3L739.8 1108.4L740.8 1108.8L741.8 1109.2L742.6 1109.5L742.8 1109.5L743.8 1109.8L744.8 1109.9L745.6 1110.0L745.8 1110.0L746.8 1110.0L747.6 1110.0L747.8 1110.0L748.8 1110.0L749.8 1109.9L750.6 1109.8L750.8 1109.8L751.8 1109.7L752.8 1109.5L753.6 1109.4L753.8 1109.4L754.8 1109.2L755.8 1109.0L756.6 1108.8L756.8 1108.8L757.8 1108.6L758.8 1108.3L759.6 1108.1L759.8 1108.1L760.8 1107.9L761.6 1107.7L761.8 1107.6L762.8 1107.3L763.8 1107.0L764.6 1106.8L764.8 1106.7L765.8 1106.3L766.8 1105.9L767.6 1105.5L767.8 1105.5L768.8 1105.0L769.8 1104.6L770.0 1104.5L770.8 1104.2L771.8 1103.7L772.6 1103.4L772.8 1103.3L773.8 1102.8L774.8 1102.3L775.6 1101.9L775.8 1101.8L776.8 1101.2L777.8 1100.7L778.6 1100.3L778.8 1100.2L779.8 1099.7L780.8 1099.3L781.6 1098.9L781.8 1098.8L782.8 1098.4L783.8 1098.0L784.6 1097.7L784.8 1097.6L785.8 1097.3L786.6 1097.1L786.8 1097.1L787.8 1096.8L788.8 1096.5L789.6 1096.3L789.8 1096.3L790.8 1096.0L791.8 1095.8L792.6 1095.7L792.8 1095.7L793.8 1095.5L794.8 1095.3L795.6 1095.3L795.8 1095.2L796.8 1095.1L797.8 1095.1L798.6 1095.0L798.8 1095.0L799.8 1095.0L800.8 1095.0L801.6 1095.0L801.8 1095.0L802.8 1095.1L803.8 1095.2L804.1 1095.2L804.8 1095.3L805.8 1095.5L806.6 1095.6L806.8 1095.6L807.8 1095.9L808.8 1096.1L809.6 1096.4L809.8 1096.4L810.8 1096.7L811.8 1097.0L812.6 1097.3L812.8 1097.4L813.8 1097.7L814.8 1098.0L815.6 1098.3L815.8 1098.4L816.8 1098.7L817.8 1099.0L818.6 1099.3L818.8 1099.4L819.8 1099.7L820.6 1099.9L820.8 1100.0L821.8 1100.4L822.8 1100.7L823.6 1101.1L823.8 1101.2L824.8 1101.6L825.8 1102.0L826.6 1102.4L826.8 1102.5L827.8 1102.9L828.8 1103.4L829.6 1103.7L829.8 1103.8L830.8 1104.3L831.8 1104.7L832.6 1105.0L832.8 1105.1L833.8 1105.4L834.8 1105.8L835.1 1105.9L835.8 1106.1L836.8 1106.4L837.6 1106.7L837.8 1106.7L838.8 1107.1L839.8 1107.4L840.6 1107.7L840.8 1107.7L841.8 1108.1L842.8 1108.3L843.6 1108.5L843.8 1108.6L844.8 1108.8L845.8 1108.9L846.6 1109.0L846.8 1109.0L847.8 1109.0L848.6 1109.0L848.8 1109.0L849.8 1108.9L850.8 1108.7L851.6 1108.6L851.8 1108.6L852.8 1108.4L853.8 1108.1L854.6 1107.9L854.8 1107.9L855.8 1107.6L856.8 1107.3L857.6 1107.0L857.8 1106.9L858.8 1106.6L859.8 1106.3L860.6 1106.0L860.8 1105.9L861.8 1105.6L862.8 1105.2L863.0 1105.1L863.8 1104.8L864.8 1104.5L865.6 1104.1L865.8 1104.0L866.8 1103.6L867.8 1103.1L868.6 1102.7L868.8 1102.7L869.8 1102.2L870.8 1101.7L871.6 1101.3L871.8 1101.2L872.8 1100.7L873.8 1100.3L874.6 1099.9L874.8 1099.8L875.8 1099.4L876.8 1099.0L877.6 1098.8L877.8 1098.7L878.8 1098.4L879.6 1098.2L879.8 1098.1L880.8 1097.8L881.8 1097.6L882.6 1097.4L882.8 1097.3L883.8 1097.1L884.8 1096.9L885.6 1096.7L885.8 1096.6L886.8 1096.4L887.8 1096.2L888.6 1096.1L888.8 1096.0L889.8 1095.8L890.8 1095.7L891.6 1095.5L891.8 1095.5L892.8 1095.3L893.8 1095.1L894.0 1095.1L894.8 1094.9L895.8 1094.7L896.6 1094.6L896.8 1094.5L897.8 1094.3L898.8 1094.1L899.6 1093.9L899.8 1093.9L900.8 1093.6L901.8 1093.4L902.6 1093.2L902.8 1093.1L903.8 1092.9L904.8 1092.6L905.6 1092.4L905.8 1092.4L906.8 1092.1L907.8 1091.9L908.6 1091.7L908.8 1091.7L909.8 1091.5L910.6 1091.4L910.8 1091.3L911.8 1091.1L912.8 1090.9L913.6 1090.8L913.8 1090.8L914.8 1090.6L915.8 1090.4L916.6 1090.3L916.8 1090.3L917.8 1090.1L918.8 1090.0L919.6 1089.9L919.8 1089.9L920.8 1089.8L921.8 1089.8L921.9 1089.8L922.8 1089.8L923.8 1089.8L924.6 1089.8L924.8 1089.8L925.8 1089.9L926.8 1090.0L927.6 1090.1L927.8 1090.1L928.8 1090.3L929.8 1090.5L930.6 1090.7L930.8 1090.7L931.8 1090.9L932.8 1091.2L933.6 1091.4L933.8 1091.4L934.8 1091.7L935.8 1092.0L936.6 1092.2L936.8 1092.2L937.8 1092.5L938.6 1092.8L938.8 1092.8L939.8 1093.2L940.8 1093.6L941.6 1093.9L941.8 1094.0L942.8 1094.4L943.8 1094.9L944.6 1095.3L944.8 1095.4L945.8 1095.9L946.8 1096.4L947.6 1096.8L947.8 1096.9L948.8 1097.4L949.8 1097.8L950.6 1098.2L950.8 1098.3L951.8 1098.7L952.8 1099.1L952.9 1099.2L953.8 1099.6L954.8 1100.0L955.6 1100.3L955.8 1100.4L956.8 1100.9L957.8 1101.4L958.6 1101.7L958.8 1101.8L959.8 1102.3L960.8 1102.8L961.6 1103.2L961.8 1103.3L962.8 1103.7L963.8 1104.2L964.6 1104.5L964.8 1104.6L965.8 1105.0L966.8 1105.3L967.6 1105.6L967.8 1105.6L968.8 1105.9L969.8 1106.1L970.6 1106.2L970.8 1106.2L971.8 1106.2L972.6 1106.3L972.8 1106.2L973.8 1106.1L974.8 1105.7L975.6 1105.4L975.8 1105.3L976.8 1104.9L977.8 1104.4L978.6 1104.0L978.8 1103.9L979.8 1103.5L980.6 1103.1L980.8 1103.0L981.8 1102.6L982.8 1102.2L983.6 1101.8L983.8 1101.7L984.8 1101.3L985.8 1100.8L986.6 1100.4L986.8 1100.3L987.8 1099.8L988.8 1099.3L989.6 1098.8L989.8 1098.7L990.8 1098.2L991.8 1097.7L992.6 1097.3L992.8 1097.1L993.8 1096.6L994.8 1096.1L995.5 1095.7L995.8 1095.6L996.8 1095.0L997.6 1094.6L997.8 1094.5L998.8 1093.9L999.8 1093.3L1000.6 1092.9L1000.8 1092.8L1001.8 1092.2L1002.8 1091.7L1003.6 1091.3L1003.8 1091.2L1004.8 1090.7L1005.8 1090.2L1006.6 1089.9L1006.8 1089.8L1007.8 1089.5L1008.8 1089.2L1009.6 1089.0L1009.8 1088.9L1010.8 1088.7L1011.6 1088.6L1011.8 1088.6L1012.8 1088.5L1013.8 1088.4L1014.6 1088.3L1014.8 1088.3L1015.8 1088.2L1016.8 1088.1L1017.6 1088.1L1017.8 1088.1L1018.8 1088.1L1019.8 1088.0L1020.6 1088.0L1020.8 1088.0L1021.8 1088.1L1022.8 1088.1L1023.4 1088.2L1023.8 1088.2L1024.8 1088.4L1025.6 1088.5L1025.8 1088.5L1026.8 1088.8L1027.8 1089.1L1028.6 1089.3L1028.8 1089.4L1029.8 1089.7L1030.8 1090.1L1031.6 1090.4L1031.8 1090.5L1032.8 1090.8L1033.8 1091.2L1034.6 1091.6L1034.8 1091.6L1035.8 1092.0L1036.8 1092.4L1037.6 1092.7L1037.8 1092.8L1038.8 1093.2L1039.6 1093.5L1039.8 1093.5L1040.8 1093.9L1041.8 1094.4L1042.6 1094.7L1042.8 1094.8L1043.8 1095.3L1044.8 1095.8L1045.6 1096.2L1045.8 1096.3L1046.8 1096.8L1047.8 1097.4L1048.6 1097.8L1048.8 1097.9L1049.8 1098.4L1050.8 1098.9L1051.6 1099.3L1051.8 1099.4L1052.8 1099.9L1053.8 1100.4L1054.4 1100.6L1054.8 1100.8L1055.8 1101.3L1056.6 1101.6L1056.8 1101.7L1057.8 1102.2L1058.8 1102.6L1059.6 1103.0L1059.8 1103.1L1060.8 1103.5L1061.8 1103.9L1062.6 1104.2L1062.8 1104.3L1063.8 1104.6L1064.8 1104.9L1065.6 1105.1L1065.8 1105.2L1066.8 1105.3L1067.6 1105.4L1067.8 1105.4L1068.8 1105.5L1069.8 1105.6L1070.6 1105.7L1070.8 1105.7L1071.8 1105.8L1072.8 1105.8L1073.6 1105.9L1073.8 1105.9L1074.8 1105.9L1075.8 1105.9L1076.1 1105.8L1076.8 1105.8L1077.8 1105.7L1078.6 1105.6L1078.8 1105.5L1079.8 1105.3L1080.8 1105.1L1081.6 1104.9L1081.8 1104.8L1082.8 1104.5L1083.8 1104.2L1084.6 1103.9L1084.8 1103.9L1085.8 1103.5L1086.8 1103.2L1087.6 1103.0L1087.8 1102.9L1088.8 1102.7L1089.8 1102.4L1090.6 1102.2L1090.8 1102.2L1091.8 1102.0L1092.6 1101.9L1092.8 1101.9L1093.8 1101.7L1094.8 1101.5L1095.6 1101.4L1095.8 1101.4L1096.8 1101.2L1097.8 1101.0L1098.6 1100.9L1098.8 1100.8L1099.8 1100.7L1100.8 1100.5L1101.6 1100.4L1101.8 1100.4L1102.8 1100.2L1103.8 1100.0L1104.6 1099.9L1104.8 1099.9L1105.8 1099.7L1106.8 1099.6L1107.6 1099.5L1107.8 1099.4L1108.8 1099.3L1109.8 1099.2L1110.6 1099.1L1110.8 1099.0L1111.8 1098.9L1112.8 1098.8L1113.6 1098.8L1113.8 1098.8L1114.8 1098.7L1115.6 1098.7L1115.8 1098.7L1116.8 1098.7L1117.8 1098.7L1118.6 1098.7L1118.8 1098.7L1119.8 1098.7L1120.8 1098.8L1121.6 1098.9L1121.8 1098.9L1122.8 1099.0L1123.8 1099.1L1124.6 1099.2L1124.8 1099.2L1125.8 1099.4L1126.8 1099.6L1127.6 1099.7L1127.8 1099.7L1128.8 1099.9L1129.8 1100.1L1130.6 1100.3L1130.8 1100.3L1131.8 1100.5L1132.8 1100.8L1133.6 1100.9L1133.8 1101.0L1134.8 1101.2L1135.6 1101.4L1135.8 1101.4L1136.8 1101.7L1137.8 1102.0L1138.6 1102.2L1138.8 1102.3L1139.8 1102.6L1140.8 1103.0L1141.6 1103.3L1141.8 1103.4L1142.8 1103.8L1143.8 1104.2L1144.6 1104.5L1144.8 1104.6L1145.8 1105.0L1146.8 1105.4L1147.6 1105.7L1147.8 1105.8L1148.8 1106.2L1149.8 1106.6L1150.5 1106.9L1150.8 1107.0L1151.8 1107.4L1152.6 1107.7L1152.8 1107.8L1153.8 1108.2L1154.8 1108.7L1155.6 1109.0L1155.8 1109.1L1156.8 1109.5L1157.8 1109.9L1158.6 1110.0L1158.8 1110.0L1159.8 1110.0L1160.8 1110.0L1161.4 1110.0L1161.8 1110.0L1162.8 1110.0L1163.6 1110.0L1163.8 1110.0L1164.8 1109.9L1165.8 1109.7L1166.6 1109.6L1166.8 1109.5L1167.8 1109.2L1168.8 1108.8L1169.6 1108.5L1169.8 1108.4L1170.8 1108.0L1171.8 1107.7L1172.6 1107.4L1172.8 1107.3L1173.8 1107.0L1174.6 1106.7L1174.8 1106.7L1175.8 1106.3L1176.8 1106.0L1177.6 1105.7L1177.8 1105.7L1178.8 1105.3L1179.8 1105.0L1180.6 1104.7L1180.8 1104.6L1181.8 1104.3L1182.8 1103.9L1183.6 1103.6L1183.8 1103.5L1184.8 1103.2L1185.8 1102.8L1186.6 1102.5L1186.8 1102.4L1187.8 1102.1L1188.8 1101.7L1189.3 1101.5L1189.8 1101.3L1190.8 1100.9L1191.6 1100.6L1191.8 1100.5L1192.8 1100.1L1193.8 1099.6L1194.6 1099.3L1194.8 1099.2L1195.8 1098.7L1196.8 1098.2L1197.6 1097.8L1197.8 1097.7L1198.8 1097.3L1199.8 1096.8L1200.6 1096.4L1200.8 1096.4L1201.8 1095.9L1202.8 1095.5L1203.6 1095.2L1203.8 1095.1L1204.8 1094.8L1205.6 1094.6L1205.8 1094.5L1206.8 1094.2L1207.8 1093.9L1208.6 1093.7L1208.8 1093.6L1209.8 1093.4L1210.8 1093.1L1211.6 1092.9L1211.8 1092.9L1212.8 1092.6L1213.8 1092.4L1214.6 1092.2L1214.8 1092.2L1215.8 1092.0L1216.8 1091.9L1217.6 1091.8L1217.8 1091.7L1218.8 1091.6L1219.8 1091.5L1220.6 1091.5L1220.8 1091.5L1221.8 1091.5L1222.8 1091.5L1223.6 1091.5L1223.8 1091.5L1224.8 1091.6L1225.6 1091.7L1225.8 1091.7L1226.8 1091.9L1227.8 1092.1L1228.6 1092.3L1228.8 1092.3L1229.8 1092.6L1230.8 1092.9L1231.6 1093.2L1231.8 1093.3L1232.8 1093.6L1233.8 1094.0L1234.6 1094.3L1234.8 1094.4L1235.8 1094.7L1236.8 1095.1L1237.6 1095.4L1237.8 1095.5L1238.8 1095.9L1239.8 1096.3L1240.6 1096.5L1240.8 1096.6L1241.8 1097.0L1242.6 1097.3L1242.8 1097.4L1243.8 1097.8L1244.8 1098.3L1245.6 1098.7L1245.8 1098.8L1246.8 1099.3L1247.8 1099.8L1248.6 1100.2L1248.8 1100.3L1249.8 1100.8L1250.8 1101.3L1251.6 1101.7L1251.8 1101.8L1252.8 1102.3L1253.8 1102.8L1254.6 1103.1L1254.8 1103.2L1255.8 1103.6L1256.7 1103.9L1256.8 1103.9L1257.8 1104.2L1258.8 1104.6L1259.6 1104.8L1259.8 1104.9L1260.8 1105.2L1261.8 1105.5L1262.6 1105.8L1262.8 1105.8L1263.8 1106.2L1264.8 1106.5L1265.6 1106.7L1265.8 1106.7L1266.8 1107.0L1267.8 1107.3L1268.6 1107.5L1268.8 1107.5L1269.8 1107.7L1270.6 1107.9L1270.8 1107.9L1271.8 1108.1L1272.8 1108.3L1273.6 1108.5L1273.8 1108.5L1274.8 1108.7L1275.8 1108.9L1276.6 1109.0L1276.8 1109.0L1277.8 1109.2L1278.8 1109.3L1279.6 1109.3L1279.8 1109.3L1280.8 1109.4L1281.6 1109.4L1281.8 1109.4L1282.8 1109.3L1283.8 1109.2L1284.6 1109.1L1284.8 1109.1L1285.8 1108.9L1286.8 1108.6L1287.6 1108.4L1287.8 1108.3L1288.8 1108.0L1289.8 1107.7L1290.6 1107.4L1290.8 1107.3L1291.8 1107.0L1292.8 1106.6L1293.6 1106.3L1293.8 1106.3L1294.8 1105.9L1295.8 1105.6L1296.6 1105.3L1296.8 1105.2L1297.8 1104.9L1298.6 1104.7L1298.8 1104.7L1299.8 1104.4L1300.8 1104.1L1301.6 1103.9L1301.8 1103.8L1302.8 1103.5L1303.8 1103.2L1304.6 1102.9L1304.8 1102.9L1305.8 1102.6L1306.8 1102.3L1307.6 1102.1L1307.8 1102.0L1308.8 1101.7L1309.8 1101.5L1310.6 1101.3L1310.8 1101.2L1311.8 1101.0L1312.8 1100.8L1313.6 1100.6L1313.8 1100.6L1314.8 1100.5L1315.8 1100.3L1316.6 1100.2L1316.8 1100.2L1317.8 1100.1L1318.6 1100.0L1318.8 1100.0L1319.8 1099.9L1320.8 1099.8L1321.6 1099.7L1321.8 1099.7L1322.8 1099.5L1323.8 1099.4L1324.6 1099.3L1324.8 1099.3L1325.8 1099.1L1326.8 1098.9L1327.6 1098.8L1327.8 1098.8L1328.8 1098.6L1329.8 1098.4L1330.6 1098.3L1330.8 1098.2L1331.8 1098.1L1332.8 1097.9L1333.6 1097.8L1333.8 1097.7L1334.8 1097.6L1335.8 1097.4L1336.6 1097.3L1336.8 1097.3L1337.8 1097.1L1338.6 1097.1L1338.8 1097.0L1339.8 1096.9L1340.8 1096.9L1341.6 1096.8L1341.8 1096.8L1342.8 1096.8L1343.8 1096.8L1344.6 1096.8L1344.8 1096.8L1345.8 1096.8L1346.8 1096.8L1347.6 1096.8L1347.8 1096.9L1348.8 1096.9L1349.8 1097.0L1350.6 1097.1L1350.8 1097.1L1351.8 1097.2L1352.8 1097.3L1353.6 1097.5L1353.8 1097.5L1354.8 1097.6L1355.8 1097.8L1356.6 1097.9L1356.8 1097.9L1357.8 1098.1L1358.8 1098.3L1359.6 1098.4L1359.8 1098.4L1360.8 1098.6L1361.6 1098.7L1361.8 1098.7L1362.8 1098.9L1363.8 1099.1L1364.6 1099.2L1364.8 1099.2L1365.8 1099.4L1366.8 1099.6L1367.6 1099.7L1367.8 1099.8L1368.8 1100.0L1369.8 1100.1L1370.6 1100.3L1370.8 1100.3L1371.8 1100.4L1372.8 1100.6L1373.6 1100.7L1373.8 1100.7L1374.8 1100.8L1375.8 1101.0L1376.6 1101.0L1376.8 1101.1L1377.8 1101.2L1378.8 1101.2L1379.6 1101.3L1379.8 1101.3L1380.8 1101.3L1381.8 1101.4L1382.6 1101.4L1382.8 1101.4L1383.8 1101.4L1384.6 1101.4L1384.8 1101.4L1385.8 1101.4L1386.8 1101.4L1387.6 1101.4L1387.8 1101.4L1388.8 1101.3L1389.8 1101.3L1390.6 1101.3L1390.8 1101.3L1391.8 1101.2L1392.8 1101.2L1393.6 1101.1L1393.8 1101.1L1394.8 1101.1L1395.8 1101.0L1396.6 1100.9" stroke="#00ff00" stroke-width="6.5" fill="none" stroke-linejoin="round" stroke-linecap="butt" stroke-dasharray="19 19"/>
<path d="M134.4 919.5L135.4 925.0L136.4 930.5L137.4 936.0L138.4 941.3L139.4 946.5L140.4 951.7L141.4 956.8L142.4 961.7L143.1 965.4L143.4 966.6L144.4 971.4L145.4 976.1L146.4 980.8L147.4 985.3L148.4 989.8L149.4 994.2L150.4 998.5L151.4 1002.7L151.9 1004.9L152.4 1006.8L153.4 1010.8L154.4 1014.7L155.4 1018.4L156.4 1022.2L157.4 1025.8L158.4 1029.5L159.4 1033.1L160.4 1036.7L160.7 1037.7L161.4 1040.3L162.4 1043.9L163.4 1047.4L164.4 1050.9L165.4 1054.4L166.4 1057.8L167.4 1061.3L168.4 1064.7L169.4 1068.2L169.4 1068.4L170.4 1071.9L171.4 1075.7L172.4 1079.3L173.4 1082.6L173.8 1083.7L174.4 1085.2L175.4 1087.8L176.4 1090.1L177.4 1091.8L178.2 1092.4L178.4 1092.5L179.4 1092.8L180.4 1093.0L181.4 1093.1L182.4 1093.2L183.4 1093.3L184.4 1093.5L185.0 1093.6L185.4 1093.6L186.4 1093.8L187.4 1094.0L188.4 1094.1L189.4 1094.3L190.4 1094.5L191.4 1094.6L192.4 1094.8L193.4 1095.0L194.3 1095.1L194.4 1095.1L195.4 1095.3L196.4 1095.6L197.4 1095.8L198.4 1096.1L199.4 1096.3L200.4 1096.6L201.4 1096.9L202.4 1097.1L203.4 1097.4L204.4 1097.6L205.4 1097.8L206.4 1097.9L207.4 1098.1L208.4 1098.2L209.4 1098.2L209.8 1098.2L210.4 1098.2L211.4 1098.2L212.4 1098.2L213.4 1098.2L214.4 1098.2L215.4 1098.2L216.4 1098.2L217.4 1098.2L218.4 1098.2L219.4 1098.2L220.4 1098.2L221.4 1098.2L222.4 1098.2L223.4 1098.2L224.4 1098.2L225.3 1098.2L225.4 1098.2L226.4 1098.2L227.4 1098.0L228.4 1097.8L229.4 1097.5L230.4 1097.2L231.4 1096.8L232.4 1096.3L233.4 1095.9L234.4 1095.4L235.4 1094.8L236.4 1094.3L237.4 1093.8L238.4 1093.2L239.4 1092.7L240.4 1092.2L240.8 1092.0L241.4 1091.7L242.4 1091.2L243.4 1090.6L244.4 1090.0L245.4 1089.4L246.4 1088.8L247.4 1088.1L248.4 1087.5L249.4 1086.8L250.4 1086.1L251.4 1085.5L252.4 1084.9L253.4 1084.3L254.4 1083.7L255.4 1083.2L256.3 1082.7L256.4 1082.7L257.4 1082.2L258.4 1081.7L259.4 1081.2L260.4 1080.7L261.4 1080.2L262.4 1079.7L263.4 1079.2L264.4 1078.8L265.4 1078.3L266.4 1077.9L267.4 1077.6L268.4 1077.2L269.4 1077.0L270.4 1076.7L271.4 1076.6L271.8 1076.5L272.4 1076.4L273.4 1076.3L274.4 1076.2L275.4 1076.1L276.4 1076.0L277.4 1076.0L278.4 1075.9L279.4 1075.8L280.4 1075.8L281.4 1075.8L282.4 1075.7L282.6 1075.7L283.4 1075.8L284.4 1075.9L285.4 1076.2L286.4 1076.5L287.4 1076.9L288.4 1077.4L289.4 1077.9L290.4 1078.4L291.4 1079.0L292.4 1079.6L293.4 1080.2L294.4 1080.8L295.0 1081.2L295.4 1081.4L296.4 1082.0L297.4 1082.7L298.4 1083.4L299.4 1084.2L300.4 1085.0L301.4 1085.8L302.4 1086.6L303.4 1087.4L304.4 1088.2L305.4 1089.0L306.4 1089.7L307.4 1090.4L307.4 1090.5L308.4 1091.1L309.4 1091.7L310.4 1092.4L311.4 1093.0L312.4 1093.6L313.4 1094.2L314.4 1094.8L315.4 1095.3L316.4 1095.8L317.4 1096.3L318.3 1096.7L318.4 1096.7L319.4 1097.1L320.4 1097.5L321.4 1097.8L322.4 1098.2L323.4 1098.5L324.4 1098.9L325.4 1099.2L326.4 1099.5L327.4 1099.8L328.4 1100.0L329.4 1100.3L330.4 1100.6L331.4 1100.8L332.4 1101.0L333.4 1101.2L333.8 1101.3L334.4 1101.4L335.4 1101.6L336.4 1101.8L337.4 1102.0L338.4 1102.2L339.4 1102.3L340.4 1102.5L341.4 1102.5L341.6 1102.6L342.4 1102.6L343.4 1102.7L344.4 1102.7L345.4 1102.8L346.4 1102.8L347.4 1102.8L348.4 1102.9L349.4 1102.9L350.0 1102.9L350.4 1102.9L351.4 1102.8L352.4 1102.6L353.4 1102.4L354.4 1102.1L355.4 1101.8L356.4 1101.4L357.4 1101.0L358.4 1100.6L359.4 1100.2L360.4 1099.8L361.4 1099.4L362.4 1099.0L363.4 1098.7L364.4 1098.4L365.4 1098.2L365.5 1098.2L366.4 1098.1L367.4 1097.9L368.4 1097.8L369.4 1097.6L370.4 1097.5L371.4 1097.4L372.4 1097.3L373.4 1097.1L374.4 1097.0L375.4 1096.9L376.4 1096.9L377.4 1096.8L378.4 1096.7L379.4 1096.7L380.4 1096.7L381.0 1096.7L381.4 1096.7L382.4 1096.7L383.4 1096.7L384.4 1096.8L385.4 1096.9L386.4 1097.0L387.4 1097.1L388.4 1097.2L389.4 1097.3L390.4 1097.4L391.4 1097.5L392.4 1097.7L393.4 1097.8L394.4 1097.9L395.4 1098.1L396.4 1098.2L396.5 1098.2L397.4 1098.3L398.4 1098.5L399.4 1098.7L400.4 1098.8L401.4 1099.0L402.4 1099.2L403.4 1099.4L404.4 1099.6L405.4 1099.8L406.4 1100.0L407.4 1100.2L408.4 1100.3L409.4 1100.4L410.4 1100.5L411.4 1100.5L412.0 1100.5L412.4 1100.5L413.4 1100.5L414.4 1100.5L415.4 1100.4L416.4 1100.4L417.4 1100.3L418.4 1100.2L419.4 1100.1L420.4 1100.0L421.4 1099.8L422.4 1099.7L423.4 1099.6L424.4 1099.4L425.4 1099.3L426.4 1099.2L427.4 1099.0L427.5 1099.0L428.4 1098.9L429.4 1098.7L430.4 1098.5L431.4 1098.3L432.4 1098.1L433.4 1097.9L434.4 1097.6L435.4 1097.4L436.4 1097.1L437.4 1096.8L438.4 1096.5L439.4 1096.2L440.4 1095.9L441.4 1095.6L442.4 1095.3L443.0 1095.1L443.4 1095.0L444.4 1094.6L445.4 1094.3L446.4 1093.9L447.4 1093.4L448.4 1093.0L449.4 1092.5L450.4 1092.0L451.4 1091.5L452.4 1091.0L453.4 1090.5L454.4 1090.1L455.4 1089.6L456.4 1089.1L457.4 1088.6L458.4 1088.2L458.5 1088.1L459.4 1087.8L460.4 1087.3L461.4 1086.9L462.4 1086.5L463.4 1086.0L464.4 1085.6L465.4 1085.1L466.4 1084.7L467.4 1084.3L468.4 1083.9L469.4 1083.5L470.4 1083.1L471.4 1082.7L472.4 1082.4L473.4 1082.1L474.0 1081.9L474.4 1081.8L475.4 1081.6L476.4 1081.3L477.4 1081.0L478.4 1080.7L479.4 1080.5L480.4 1080.2L481.4 1080.0L482.4 1079.7L483.4 1079.5L484.4 1079.3L485.4 1079.2L486.4 1079.0L487.4 1078.9L488.4 1078.9L489.4 1078.8L489.5 1078.8L490.4 1078.9L491.4 1078.9L492.4 1079.1L493.4 1079.3L494.4 1079.5L495.4 1079.7L496.4 1080.0L497.4 1080.4L498.4 1080.7L499.4 1081.1L500.4 1081.5L501.4 1081.9L502.4 1082.4L503.4 1082.8L504.4 1083.2L505.0 1083.5L505.4 1083.6L506.4 1084.1L507.4 1084.7L508.4 1085.3L509.4 1086.0L510.4 1086.7L511.4 1087.4L512.4 1088.2L513.4 1089.0L514.4 1089.8L515.4 1090.6L516.4 1091.4L517.4 1092.2L518.4 1092.9L519.4 1093.6L520.4 1094.2L520.5 1094.3L521.4 1094.9L522.4 1095.5L523.4 1096.1L524.4 1096.8L525.4 1097.4L526.4 1098.1L527.4 1098.7L528.4 1099.3L529.4 1099.9L530.4 1100.4L531.4 1101.0L532.4 1101.4L533.4 1101.9L534.4 1102.3L535.4 1102.7L536.0 1102.9L536.4 1103.0L537.4 1103.3L538.4 1103.6L539.4 1103.8L540.4 1104.1L541.4 1104.4L542.4 1104.6L543.4 1104.9L544.4 1105.1L545.4 1105.3L546.4 1105.5L547.4 1105.7L548.4 1105.8L549.4 1105.9L550.4 1105.9L551.4 1106.0L551.6 1106.0L552.4 1105.9L553.4 1105.8L554.4 1105.6L555.4 1105.3L556.4 1104.9L557.4 1104.5L558.4 1104.0L559.4 1103.5L560.4 1103.0L561.4 1102.5L562.4 1102.0L563.4 1101.6L564.4 1101.1L564.6 1101.1L565.4 1100.7L566.4 1100.3L567.4 1099.9L567.6 1099.8L568.4 1099.5L569.4 1099.1L570.4 1098.7L570.6 1098.6L571.4 1098.2L572.4 1097.8L573.4 1097.4L573.6 1097.3L574.4 1097.0L575.4 1096.5L575.6 1096.4L576.4 1096.1L577.4 1095.6L578.4 1095.1L578.6 1095.0L579.4 1094.6L580.4 1094.0L581.4 1093.5L581.6 1093.4L582.4 1092.9L583.4 1092.4L584.4 1091.9L584.6 1091.8L585.4 1091.4L586.4 1090.9L587.4 1090.4L587.6 1090.3L588.4 1090.0L589.4 1089.6L590.4 1089.3L590.6 1089.2L591.4 1089.0L592.4 1088.7L592.6 1088.7L593.4 1088.5L594.4 1088.2L595.4 1088.0L595.6 1088.0L596.4 1087.8L597.4 1087.6L598.4 1087.5L598.6 1087.4L599.4 1087.3L600.4 1087.2L601.4 1087.1L601.6 1087.1L602.4 1087.1L603.4 1087.1L604.4 1087.1L604.6 1087.1L605.4 1087.2L606.4 1087.3L606.6 1087.3L607.4 1087.4L608.4 1087.5L609.4 1087.7L609.6 1087.7L610.4 1087.9L611.4 1088.1L612.4 1088.4L612.6 1088.4L613.4 1088.6L614.4 1088.8L615.4 1089.1L615.6 1089.1L616.4 1089.3L617.4 1089.6L618.4 1089.8L618.6 1089.9L619.4 1090.0L620.4 1090.2L621.4 1090.4L621.6 1090.5L622.4 1090.6L623.4 1090.8L623.6 1090.8L624.4 1091.0L625.4 1091.2L626.4 1091.5L626.6 1091.5L627.4 1091.7L628.4 1092.0L629.4 1092.2L629.6 1092.3L630.4 1092.5L631.4 1092.7L632.4 1092.9L632.6 1093.0L633.4 1093.2L634.4 1093.4L635.4 1093.6L635.6 1093.6L636.4 1093.8L637.4 1093.9L637.6 1093.9L638.4 1094.1L639.4 1094.2L640.4 1094.4L640.6 1094.4L641.4 1094.6L642.4 1094.8L643.4 1094.9L643.6 1095.0L644.4 1095.1L645.4 1095.3L646.4 1095.5L646.6 1095.6L647.4 1095.7L648.4 1095.9L649.4 1096.0L649.6 1096.1L650.4 1096.2L651.4 1096.3L652.4 1096.4L652.6 1096.4L653.4 1096.4L654.4 1096.5L654.6 1096.5L655.4 1096.4L656.4 1096.3L657.4 1096.2L657.6 1096.1L658.4 1096.0L659.4 1095.8L660.4 1095.5L660.6 1095.5L661.4 1095.3L662.4 1095.0L663.4 1094.7L663.6 1094.6L664.4 1094.4L665.4 1094.1L666.4 1093.8L666.6 1093.7L667.4 1093.5L668.4 1093.2L668.6 1093.2L669.4 1093.0L670.4 1092.7L671.4 1092.4L671.6 1092.3L672.4 1092.1L673.4 1091.8L674.4 1091.4L674.6 1091.4L675.4 1091.1L676.4 1090.8L677.4 1090.5L677.6 1090.4L678.4 1090.2L679.4 1090.0L680.4 1089.7L680.6 1089.7L681.4 1089.5L682.4 1089.3L683.4 1089.2L683.6 1089.2L684.4 1089.1L685.4 1089.0L685.6 1089.0L686.4 1088.9L687.4 1088.8L688.4 1088.7L688.6 1088.6L689.4 1088.6L690.4 1088.4L691.4 1088.3L691.6 1088.3L692.4 1088.2L693.4 1088.1L694.4 1088.0L694.6 1088.0L695.4 1087.9L696.4 1087.7L697.4 1087.6L697.6 1087.6L698.4 1087.5L699.4 1087.4L699.6 1087.4L700.4 1087.4L701.4 1087.4L702.4 1087.3L702.6 1087.3L703.4 1087.4L704.4 1087.5L705.4 1087.7L705.6 1087.7L706.4 1087.8L707.4 1088.0L708.4 1088.3L708.6 1088.3L709.4 1088.5L710.4 1088.8L711.4 1089.1L711.6 1089.2L712.4 1089.4L713.4 1089.7L714.4 1090.0L714.6 1090.1L715.4 1090.3L716.4 1090.7L716.6 1090.8L717.4 1091.1L718.4 1091.5L719.4 1092.0L719.6 1092.1L720.4 1092.5L721.4 1093.1L722.4 1093.7L722.6 1093.8L723.4 1094.3L724.4 1094.9L725.4 1095.5L725.6 1095.7L726.4 1096.1L727.4 1096.8L728.4 1097.4L728.6 1097.5L729.4 1098.0L730.4 1098.6L730.6 1098.7L731.4 1099.2L732.4 1099.8L733.4 1100.4L733.6 1100.5L734.4 1101.0L735.4 1101.6L736.4 1102.3L736.6 1102.4L737.4 1102.9L738.4 1103.4L739.4 1104.0L739.6 1104.1L740.4 1104.4L741.4 1104.9L742.4 1105.2L742.6 1105.3L743.4 1105.5L744.4 1105.7L745.4 1105.8L745.6 1105.8L746.4 1105.8L747.4 1105.8L747.6 1105.8L748.4 1105.7L749.4 1105.6L750.4 1105.4L750.6 1105.4L751.4 1105.2L752.4 1105.0L753.4 1104.7L753.6 1104.7L754.4 1104.5L755.4 1104.2L756.4 1103.9L756.6 1103.8L757.4 1103.6L758.4 1103.3L759.4 1103.0L759.6 1103.0L760.4 1102.7L761.4 1102.5L761.6 1102.4L762.4 1102.2L763.4 1101.8L764.4 1101.5L764.6 1101.4L765.4 1101.1L766.4 1100.7L767.4 1100.3L767.6 1100.2L768.4 1099.9L769.4 1099.6L770.0 1099.3L770.4 1099.2L771.4 1098.8L772.4 1098.4L772.6 1098.3L773.4 1098.0L774.4 1097.6L775.4 1097.2L775.6 1097.1L776.4 1096.8L777.4 1096.3L778.4 1095.9L778.6 1095.8L779.4 1095.5L780.4 1095.1L781.4 1094.7L781.6 1094.7L782.4 1094.4L783.4 1094.1L784.4 1093.8L784.6 1093.7L785.4 1093.5L786.4 1093.3L786.6 1093.3L787.4 1093.1L788.4 1092.9L789.4 1092.7L789.6 1092.6L790.4 1092.5L791.4 1092.3L792.4 1092.1L792.6 1092.1L793.4 1092.0L794.4 1091.8L795.4 1091.7L795.6 1091.7L796.4 1091.6L797.4 1091.6L798.4 1091.5L798.6 1091.5L799.4 1091.5L800.4 1091.5L801.4 1091.6L801.6 1091.6L802.4 1091.6L803.4 1091.7L804.1 1091.7L804.4 1091.8L805.4 1091.9L806.4 1092.1L806.6 1092.1L807.4 1092.3L808.4 1092.5L809.4 1092.7L809.6 1092.8L810.4 1093.0L811.4 1093.3L812.4 1093.6L812.6 1093.6L813.4 1093.8L814.4 1094.1L815.4 1094.4L815.6 1094.5L816.4 1094.7L817.4 1094.9L818.4 1095.2L818.6 1095.2L819.4 1095.4L820.4 1095.6L820.6 1095.6L821.4 1095.8L822.4 1096.1L823.4 1096.4L823.6 1096.4L824.4 1096.7L825.4 1097.0L826.4 1097.3L826.6 1097.4L827.4 1097.6L828.4 1097.9L829.4 1098.3L829.6 1098.3L830.4 1098.6L831.4 1098.9L832.4 1099.2L832.6 1099.2L833.4 1099.4L834.4 1099.7L835.1 1099.9L835.4 1099.9L836.4 1100.2L837.4 1100.4L837.6 1100.5L838.4 1100.7L839.4 1101.0L840.4 1101.3L840.6 1101.3L841.4 1101.6L842.4 1101.9L843.4 1102.1L843.6 1102.2L844.4 1102.3L845.4 1102.5L846.4 1102.7L846.6 1102.7L847.4 1102.8L848.4 1102.8L848.6 1102.8L849.4 1102.8L850.4 1102.8L851.4 1102.8L851.6 1102.7L852.4 1102.7L853.4 1102.6L854.4 1102.4L854.6 1102.4L855.4 1102.3L856.4 1102.1L857.4 1101.9L857.6 1101.9L858.4 1101.7L859.4 1101.5L860.4 1101.3L860.6 1101.2L861.4 1101.0L862.4 1100.8L863.0 1100.7L863.4 1100.6L864.4 1100.3L865.4 1100.0L865.6 1099.9L866.4 1099.7L867.4 1099.3L868.4 1098.9L868.6 1098.8L869.4 1098.5L870.4 1098.1L871.4 1097.7L871.6 1097.6L872.4 1097.3L873.4 1096.9L874.4 1096.5L874.6 1096.4L875.4 1096.1L876.4 1095.7L877.4 1095.4L877.6 1095.3L878.4 1095.1L879.4 1094.8L879.6 1094.7L880.4 1094.5L881.4 1094.2L882.4 1094.0L882.6 1093.9L883.4 1093.7L884.4 1093.4L885.4 1093.1L885.6 1093.1L886.4 1092.9L887.4 1092.6L888.4 1092.3L888.6 1092.3L889.4 1092.1L890.4 1091.8L891.4 1091.5L891.6 1091.5L892.4 1091.2L893.4 1091.0L894.0 1090.8L894.4 1090.7L895.4 1090.4L896.4 1090.1L896.6 1090.0L897.4 1089.8L898.4 1089.4L899.4 1089.1L899.6 1089.0L900.4 1088.8L901.4 1088.5L902.4 1088.1L902.6 1088.1L903.4 1087.8L904.4 1087.5L905.4 1087.2L905.6 1087.1L906.4 1086.9L907.4 1086.7L908.4 1086.4L908.6 1086.4L909.4 1086.2L910.4 1086.1L910.6 1086.0L911.4 1085.9L912.4 1085.7L913.4 1085.6L913.6 1085.6L914.4 1085.5L915.4 1085.4L916.4 1085.3L916.6 1085.3L917.4 1085.3L918.4 1085.2L919.4 1085.2L919.6 1085.2L920.4 1085.2L921.4 1085.3L921.9 1085.3L922.4 1085.4L923.4 1085.5L924.4 1085.6L924.6 1085.7L925.4 1085.8L926.4 1086.0L927.4 1086.2L927.6 1086.3L928.4 1086.5L929.4 1086.7L930.4 1087.0L930.6 1087.1L931.4 1087.3L932.4 1087.6L933.4 1087.8L933.6 1087.9L934.4 1088.1L935.4 1088.4L936.4 1088.6L936.6 1088.7L937.4 1088.9L938.4 1089.2L938.6 1089.2L939.4 1089.5L940.4 1089.8L941.4 1090.1L941.6 1090.2L942.4 1090.5L943.4 1090.9L944.4 1091.2L944.6 1091.3L945.4 1091.6L946.4 1092.0L947.4 1092.4L947.6 1092.5L948.4 1092.8L949.4 1093.2L950.4 1093.6L950.6 1093.6L951.4 1093.9L952.4 1094.2L952.9 1094.4L953.4 1094.5L954.4 1094.9L955.4 1095.2L955.6 1095.3L956.4 1095.6L957.4 1096.0L958.4 1096.4L958.6 1096.5L959.4 1096.8L960.4 1097.2L961.4 1097.6L961.6 1097.7L962.4 1098.0L963.4 1098.4L964.4 1098.8L964.6 1098.9L965.4 1099.1L966.4 1099.4L967.4 1099.7L967.6 1099.8L968.4 1099.9L969.4 1100.1L970.4 1100.2L970.6 1100.2L971.4 1100.2L972.4 1100.2L972.6 1100.2L973.4 1100.1L974.4 1099.7L975.4 1099.3L975.6 1099.2L976.4 1098.9L977.4 1098.4L978.4 1097.9L978.6 1097.8L979.4 1097.4L980.4 1097.0L980.6 1096.9L981.4 1096.6L982.4 1096.2L983.4 1095.8L983.6 1095.8L984.4 1095.5L985.4 1095.1L986.4 1094.7L986.6 1094.6L987.4 1094.3L988.4 1093.9L989.4 1093.5L989.6 1093.4L990.4 1093.1L991.4 1092.8L992.4 1092.4L992.6 1092.3L993.4 1092.1L994.4 1091.7L995.4 1091.4L995.5 1091.4L996.4 1091.1L997.4 1090.7L997.6 1090.7L998.4 1090.4L999.4 1090.0L1000.4 1089.7L1000.6 1089.6L1001.4 1089.3L1002.4 1089.0L1003.4 1088.6L1003.6 1088.5L1004.4 1088.3L1005.4 1087.9L1006.4 1087.6L1006.6 1087.6L1007.4 1087.4L1008.4 1087.1L1009.4 1086.9L1009.6 1086.8L1010.4 1086.7L1011.4 1086.5L1011.6 1086.5L1012.4 1086.3L1013.4 1086.2L1014.4 1086.0L1014.6 1085.9L1015.4 1085.8L1016.4 1085.6L1017.4 1085.4L1017.6 1085.3L1018.4 1085.2L1019.4 1085.0L1020.4 1084.8L1020.6 1084.7L1021.4 1084.6L1022.4 1084.4L1023.4 1084.3L1023.4 1084.3L1024.4 1084.2L1025.4 1084.1L1025.6 1084.1L1026.4 1084.1L1027.4 1084.2L1028.4 1084.3L1028.6 1084.3L1029.4 1084.4L1030.4 1084.6L1031.4 1084.9L1031.6 1084.9L1032.4 1085.1L1033.4 1085.4L1034.4 1085.7L1034.6 1085.8L1035.4 1086.0L1036.4 1086.4L1037.4 1086.8L1037.6 1086.8L1038.4 1087.1L1039.4 1087.5L1039.6 1087.6L1040.4 1087.9L1041.4 1088.3L1042.4 1088.8L1042.6 1088.9L1043.4 1089.4L1044.4 1089.9L1045.4 1090.5L1045.6 1090.6L1046.4 1091.1L1047.4 1091.7L1048.4 1092.3L1048.6 1092.5L1049.4 1092.9L1050.4 1093.5L1051.4 1094.1L1051.6 1094.2L1052.4 1094.7L1053.4 1095.2L1054.4 1095.7L1054.4 1095.7L1055.4 1096.2L1056.4 1096.7L1056.6 1096.8L1057.4 1097.2L1058.4 1097.7L1059.4 1098.2L1059.6 1098.3L1060.4 1098.7L1061.4 1099.1L1062.4 1099.5L1062.6 1099.6L1063.4 1099.9L1064.4 1100.2L1065.4 1100.4L1065.6 1100.5L1066.4 1100.6L1067.4 1100.8L1067.6 1100.8L1068.4 1100.9L1069.4 1101.0L1070.4 1101.2L1070.6 1101.2L1071.4 1101.3L1072.4 1101.4L1073.4 1101.5L1073.6 1101.5L1074.4 1101.5L1075.4 1101.6L1076.1 1101.6L1076.4 1101.6L1077.4 1101.6L1078.4 1101.5L1078.6 1101.5L1079.4 1101.4L1080.4 1101.2L1081.4 1101.0L1081.6 1100.9L1082.4 1100.7L1083.4 1100.5L1084.4 1100.2L1084.6 1100.1L1085.4 1099.9L1086.4 1099.6L1087.4 1099.2L1087.6 1099.2L1088.4 1098.9L1089.4 1098.6L1090.4 1098.3L1090.6 1098.3L1091.4 1098.1L1092.4 1097.8L1092.6 1097.8L1093.4 1097.5L1094.4 1097.2L1095.4 1096.9L1095.6 1096.9L1096.4 1096.6L1097.4 1096.3L1098.4 1096.0L1098.6 1095.9L1099.4 1095.6L1100.4 1095.3L1101.4 1094.9L1101.6 1094.9L1102.4 1094.6L1103.4 1094.3L1104.4 1094.0L1104.6 1093.9L1105.4 1093.7L1106.4 1093.4L1107.4 1093.2L1107.6 1093.1L1108.4 1092.9L1109.4 1092.7L1110.4 1092.6L1110.6 1092.6L1111.4 1092.5L1112.4 1092.4L1113.4 1092.3L1113.6 1092.3L1114.4 1092.4L1115.4 1092.4L1115.6 1092.4L1116.4 1092.5L1117.4 1092.6L1118.4 1092.8L1118.6 1092.9L1119.4 1093.1L1120.4 1093.3L1121.4 1093.7L1121.6 1093.7L1122.4 1094.0L1123.4 1094.3L1124.4 1094.7L1124.6 1094.8L1125.4 1095.1L1126.4 1095.5L1127.4 1095.9L1127.6 1096.0L1128.4 1096.3L1129.4 1096.8L1130.4 1097.2L1130.6 1097.2L1131.4 1097.5L1132.4 1097.9L1133.4 1098.3L1133.6 1098.3L1134.4 1098.6L1135.4 1098.9L1135.6 1099.0L1136.4 1099.2L1137.4 1099.5L1138.4 1099.8L1138.6 1099.9L1139.4 1100.1L1140.4 1100.4L1141.4 1100.7L1141.6 1100.8L1142.4 1101.0L1143.4 1101.3L1144.4 1101.6L1144.6 1101.6L1145.4 1101.9L1146.4 1102.1L1147.4 1102.4L1147.6 1102.4L1148.4 1102.6L1149.4 1102.8L1150.4 1103.1L1150.5 1103.1L1151.4 1103.3L1152.4 1103.5L1152.6 1103.6L1153.4 1103.8L1154.4 1104.1L1155.4 1104.4L1155.6 1104.5L1156.4 1104.7L1157.4 1105.0L1158.4 1105.2L1158.6 1105.2L1159.4 1105.3L1160.4 1105.4L1161.4 1105.4L1161.4 1105.4L1162.4 1105.4L1163.4 1105.2L1163.6 1105.2L1164.4 1105.0L1165.4 1104.8L1166.4 1104.4L1166.6 1104.4L1167.4 1104.1L1168.4 1103.7L1169.4 1103.3L1169.6 1103.2L1170.4 1102.9L1171.4 1102.5L1172.4 1102.1L1172.6 1102.0L1173.4 1101.7L1174.4 1101.3L1174.6 1101.3L1175.4 1101.0L1176.4 1100.6L1177.4 1100.2L1177.6 1100.1L1178.4 1099.8L1179.4 1099.4L1180.4 1099.0L1180.6 1098.9L1181.4 1098.6L1182.4 1098.2L1183.4 1097.8L1183.6 1097.7L1184.4 1097.4L1185.4 1097.0L1186.4 1096.6L1186.6 1096.5L1187.4 1096.2L1188.4 1095.9L1189.3 1095.5L1189.4 1095.5L1190.4 1095.1L1191.4 1094.8L1191.6 1094.7L1192.4 1094.4L1193.4 1094.1L1194.4 1093.7L1194.6 1093.6L1195.4 1093.3L1196.4 1093.0L1197.4 1092.7L1197.6 1092.6L1198.4 1092.3L1199.4 1092.0L1200.4 1091.8L1200.6 1091.7L1201.4 1091.5L1202.4 1091.3L1203.4 1091.1L1203.6 1091.0L1204.4 1090.9L1205.4 1090.8L1205.6 1090.8L1206.4 1090.7L1207.4 1090.5L1208.4 1090.4L1208.6 1090.4L1209.4 1090.3L1210.4 1090.1L1211.4 1090.0L1211.6 1089.9L1212.4 1089.8L1213.4 1089.6L1214.4 1089.4L1214.6 1089.4L1215.4 1089.2L1216.4 1089.0L1217.4 1088.9L1217.6 1088.8L1218.4 1088.7L1219.4 1088.5L1220.4 1088.3L1220.6 1088.3L1221.4 1088.1L1222.4 1088.0L1223.4 1087.8L1223.6 1087.8L1224.4 1087.7L1225.4 1087.6L1225.6 1087.6L1226.4 1087.6L1227.4 1087.6L1228.4 1087.6L1228.6 1087.6L1229.4 1087.7L1230.4 1087.8L1231.4 1088.0L1231.6 1088.0L1232.4 1088.1L1233.4 1088.4L1234.4 1088.6L1234.6 1088.7L1235.4 1088.9L1236.4 1089.2L1237.4 1089.5L1237.6 1089.6L1238.4 1089.9L1239.4 1090.2L1240.4 1090.6L1240.6 1090.7L1241.4 1091.0L1242.4 1091.4L1242.6 1091.5L1243.4 1091.8L1244.4 1092.4L1245.4 1093.0L1245.6 1093.1L1246.4 1093.5L1247.4 1094.2L1248.4 1094.8L1248.6 1095.0L1249.4 1095.5L1250.4 1096.1L1251.4 1096.7L1251.6 1096.9L1252.4 1097.4L1253.4 1097.9L1254.4 1098.5L1254.6 1098.6L1255.4 1099.0L1256.4 1099.5L1256.7 1099.6L1257.4 1099.9L1258.4 1100.3L1259.4 1100.7L1259.6 1100.8L1260.4 1101.1L1261.4 1101.4L1262.4 1101.8L1262.6 1101.9L1263.4 1102.1L1264.4 1102.4L1265.4 1102.7L1265.6 1102.8L1266.4 1103.0L1267.4 1103.3L1268.4 1103.5L1268.6 1103.6L1269.4 1103.7L1270.4 1103.9L1270.6 1103.9L1271.4 1104.1L1272.4 1104.3L1273.4 1104.4L1273.6 1104.5L1274.4 1104.6L1275.4 1104.8L1276.4 1104.9L1276.6 1104.9L1277.4 1105.0L1278.4 1105.2L1279.4 1105.2L1279.6 1105.3L1280.4 1105.3L1281.4 1105.3L1281.6 1105.3L1282.4 1105.3L1283.4 1105.2L1284.4 1105.1L1284.6 1105.0L1285.4 1104.9L1286.4 1104.6L1287.4 1104.4L1287.6 1104.3L1288.4 1104.1L1289.4 1103.7L1290.4 1103.3L1290.6 1103.3L1291.4 1103.0L1292.4 1102.6L1293.4 1102.1L1293.6 1102.0L1294.4 1101.7L1295.4 1101.3L1296.4 1100.9L1296.6 1100.8L1297.4 1100.5L1298.4 1100.1L1298.6 1100.0L1299.4 1099.7L1300.4 1099.3L1301.4 1099.0L1301.6 1098.9L1302.4 1098.5L1303.4 1098.1L1304.4 1097.7L1304.6 1097.6L1305.4 1097.3L1306.4 1096.9L1307.4 1096.5L1307.6 1096.4L1308.4 1096.1L1309.4 1095.8L1310.4 1095.4L1310.6 1095.4L1311.4 1095.1L1312.4 1094.9L1313.4 1094.6L1313.6 1094.6L1314.4 1094.5L1315.4 1094.3L1316.4 1094.2L1316.6 1094.2L1317.4 1094.1L1318.4 1094.1L1318.6 1094.1L1319.4 1094.1L1320.4 1094.0L1321.4 1094.0L1321.6 1094.0L1322.4 1094.0L1323.4 1094.0L1324.4 1094.0L1324.6 1093.9L1325.4 1093.9L1326.4 1093.9L1327.4 1093.9L1327.6 1093.9L1328.4 1093.9L1329.4 1093.8L1330.4 1093.8L1330.6 1093.8L1331.4 1093.8L1332.4 1093.7L1333.4 1093.7L1333.6 1093.7L1334.4 1093.7L1335.4 1093.6L1336.4 1093.6L1336.6 1093.6L1337.4 1093.5L1338.4 1093.5L1338.6 1093.5L1339.4 1093.4L1340.4 1093.4L1341.4 1093.4L1341.6 1093.4L1342.4 1093.3L1343.4 1093.3L1344.4 1093.3L1344.6 1093.3L1345.4 1093.3L1346.4 1093.3L1347.4 1093.3L1347.6 1093.3L1348.4 1093.3L1349.4 1093.3L1350.4 1093.3L1350.6 1093.3L1351.4 1093.4L1352.4 1093.4L1353.4 1093.5L1353.6 1093.5L1354.4 1093.5L1355.4 1093.6L1356.4 1093.7L1356.6 1093.7L1357.4 1093.8L1358.4 1093.8L1359.4 1093.9L1359.6 1094.0L1360.4 1094.0L1361.4 1094.1L1361.6 1094.1L1362.4 1094.2L1363.4 1094.3L1364.4 1094.5L1364.6 1094.5L1365.4 1094.6L1366.4 1094.7L1367.4 1094.9L1367.6 1094.9L1368.4 1095.0L1369.4 1095.2L1370.4 1095.3L1370.6 1095.3L1371.4 1095.4L1372.4 1095.6L1373.4 1095.7L1373.6 1095.7L1374.4 1095.8L1375.4 1095.9L1376.4 1096.0L1376.6 1096.0L1377.4 1096.1L1378.4 1096.2L1379.4 1096.2L1379.6 1096.3L1380.4 1096.3L1381.4 1096.3L1382.4 1096.4L1382.6 1096.4L1383.4 1096.4L1384.4 1096.4L1384.6 1096.4L1385.4 1096.4L1386.4 1096.4L1387.4 1096.4L1387.6 1096.4L1388.4 1096.4L1389.4 1096.4L1390.4 1096.3L1390.6 1096.3L1391.4 1096.3L1392.4 1096.3L1393.4 1096.3L1393.6 1096.3L1394.4 1096.3L1395.4 1096.3L1396.4 1096.2L1396.6 1096.2" stroke="#0000ff" stroke-width="6.5" fill="none" stroke-linejoin="round" stroke-linecap="butt" stroke-dasharray="6 3.7"/>
<path d="M134.4 989.5L135.4 994.9L136.4 1000.0L137.4 1005.0L138.4 1009.7L138.8 1011.4L139.4 1014.1L140.4 1018.3L141.4 1022.4L142.4 1026.3L143.4 1030.1L144.4 1034.0L145.3 1037.7L145.4 1037.9L146.4 1041.8L147.4 1045.7L148.4 1049.5L149.4 1053.4L150.4 1057.5L151.4 1061.7L151.9 1064.0L152.4 1066.2L153.4 1071.0L154.4 1076.1L155.4 1081.3L156.3 1085.9L156.4 1086.4L157.4 1092.8L158.4 1096.8L158.5 1096.8L159.4 1096.8L160.4 1096.7L161.4 1096.5L162.4 1096.3L163.4 1096.0L164.4 1095.7L165.4 1095.4L166.4 1095.1L166.4 1095.1L167.4 1094.8L168.4 1094.3L169.4 1093.8L170.4 1093.2L171.4 1092.6L172.4 1092.0L173.4 1091.5L174.4 1091.0L175.4 1090.6L175.7 1090.5L176.4 1090.2L177.4 1089.9L178.4 1089.6L179.4 1089.3L180.4 1089.0L181.4 1088.9L181.9 1088.9L182.4 1088.9L183.4 1089.0L184.4 1089.2L185.4 1089.4L186.4 1089.7L186.5 1089.7L187.4 1089.9L188.4 1090.1L189.4 1090.4L190.4 1090.7L191.4 1091.0L192.4 1091.4L193.4 1091.7L194.3 1092.0L194.4 1092.1L195.4 1092.4L196.4 1092.8L197.4 1093.2L198.4 1093.7L199.4 1094.1L200.4 1094.6L201.4 1095.0L202.4 1095.5L203.4 1095.9L204.4 1096.4L205.1 1096.7L205.4 1096.8L206.4 1097.2L207.4 1097.6L208.4 1098.0L209.4 1098.4L210.4 1098.8L211.4 1099.2L212.4 1099.6L213.4 1099.9L214.4 1100.3L215.4 1100.6L216.4 1101.0L217.4 1101.3L217.5 1101.3L218.4 1101.6L219.4 1101.9L220.4 1102.2L221.4 1102.6L222.4 1102.9L223.4 1103.2L224.4 1103.5L225.4 1103.8L226.4 1104.0L227.4 1104.2L228.4 1104.3L229.4 1104.4L229.9 1104.4L230.4 1104.4L231.4 1104.3L232.4 1104.2L233.4 1103.9L234.4 1103.7L235.4 1103.3L236.4 1103.0L237.4 1102.6L238.4 1102.2L239.4 1101.8L240.4 1101.5L240.8 1101.3L241.4 1101.1L242.4 1100.7L243.4 1100.3L244.4 1099.8L245.4 1099.3L246.4 1098.8L247.4 1098.3L248.4 1097.7L249.4 1097.2L250.4 1096.6L251.4 1096.1L252.4 1095.5L253.2 1095.1L253.4 1095.0L254.4 1094.5L255.4 1093.9L256.4 1093.3L257.4 1092.7L258.4 1092.1L259.4 1091.5L260.4 1090.9L261.4 1090.3L262.4 1089.8L263.4 1089.2L264.0 1088.9L264.4 1088.7L265.4 1088.2L266.4 1087.7L267.4 1087.2L268.4 1086.7L269.4 1086.2L270.4 1085.7L271.4 1085.3L272.4 1084.9L273.4 1084.6L274.4 1084.4L274.9 1084.3L275.4 1084.2L276.4 1084.0L277.4 1083.9L278.4 1083.8L279.4 1083.7L280.4 1083.6L281.4 1083.5L282.4 1083.5L282.6 1083.5L283.4 1083.5L284.4 1083.6L285.4 1083.8L286.4 1084.0L287.4 1084.3L288.4 1084.6L289.4 1084.9L290.4 1085.3L291.4 1085.6L291.9 1085.8L292.4 1086.0L293.4 1086.4L294.4 1086.9L295.4 1087.4L296.4 1088.0L297.4 1088.6L298.4 1089.3L299.4 1089.9L300.4 1090.5L301.4 1091.2L302.4 1091.8L302.8 1092.0L303.4 1092.4L304.4 1092.9L305.4 1093.5L306.4 1094.1L307.4 1094.7L308.4 1095.3L309.4 1095.9L310.4 1096.5L311.4 1097.0L312.4 1097.6L313.4 1098.1L313.6 1098.2L314.4 1098.6L315.4 1099.1L316.4 1099.6L317.4 1100.1L318.4 1100.6L319.4 1101.1L320.4 1101.6L321.4 1102.0L322.4 1102.5L323.4 1102.8L324.4 1103.2L325.4 1103.5L326.0 1103.6L326.4 1103.7L327.4 1103.9L328.4 1104.2L329.4 1104.4L330.4 1104.6L331.4 1104.8L332.4 1105.0L333.4 1105.2L334.4 1105.3L335.4 1105.5L336.4 1105.6L337.4 1105.7L338.4 1105.8L339.4 1105.9L340.4 1105.9L341.4 1106.0L341.6 1106.0L342.4 1105.9L343.4 1105.7L344.4 1105.4L345.4 1105.0L346.4 1104.5L347.4 1104.1L348.4 1103.6L349.4 1103.1L350.0 1102.9L350.4 1102.7L351.4 1102.3L352.4 1101.9L353.4 1101.4L354.4 1100.9L355.4 1100.4L356.4 1099.9L357.4 1099.4L358.4 1098.9L359.4 1098.4L360.4 1098.0L361.4 1097.6L362.4 1097.3L363.4 1097.0L364.4 1096.8L365.4 1096.7L365.5 1096.7L366.4 1096.6L367.4 1096.5L368.4 1096.4L369.4 1096.4L370.4 1096.3L371.4 1096.2L372.4 1096.2L373.4 1096.1L374.4 1096.1L375.4 1096.0L376.4 1096.0L377.4 1095.9L378.4 1095.9L379.4 1095.9L380.4 1095.9L381.0 1095.9L381.4 1095.9L382.4 1095.9L383.4 1095.9L384.4 1095.9L385.4 1096.0L386.4 1096.0L387.4 1096.1L388.4 1096.1L389.4 1096.2L390.4 1096.2L391.4 1096.3L392.4 1096.4L393.4 1096.4L394.4 1096.5L395.4 1096.6L396.4 1096.7L396.5 1096.7L397.4 1096.8L398.4 1096.9L399.4 1097.1L400.4 1097.3L401.4 1097.6L402.4 1097.8L403.4 1098.1L404.4 1098.4L405.4 1098.7L406.4 1098.9L407.4 1099.2L408.4 1099.4L409.4 1099.6L410.4 1099.7L411.4 1099.8L412.0 1099.8L412.4 1099.8L413.4 1099.7L414.4 1099.7L415.4 1099.7L416.4 1099.6L417.4 1099.5L418.4 1099.4L419.4 1099.3L420.4 1099.2L421.4 1099.1L422.4 1098.9L423.4 1098.8L424.4 1098.6L425.4 1098.5L426.4 1098.4L427.4 1098.2L427.5 1098.2L428.4 1098.1L429.4 1098.0L430.4 1097.8L431.4 1097.6L432.4 1097.5L433.4 1097.3L434.4 1097.1L435.4 1096.9L436.4 1096.7L437.4 1096.5L438.4 1096.3L439.4 1096.0L440.4 1095.8L441.4 1095.5L442.4 1095.3L443.0 1095.1L443.4 1095.0L444.4 1094.7L445.4 1094.4L446.4 1094.0L447.4 1093.7L448.4 1093.3L449.4 1092.9L450.4 1092.4L451.4 1092.0L452.4 1091.6L453.4 1091.1L454.4 1090.7L455.4 1090.2L456.4 1089.8L457.4 1089.4L458.4 1089.0L458.5 1088.9L459.4 1088.6L460.4 1088.1L461.4 1087.7L462.4 1087.3L463.4 1086.8L464.4 1086.4L465.4 1085.9L466.4 1085.5L467.4 1085.1L468.4 1084.7L469.4 1084.3L470.4 1083.9L471.4 1083.5L472.4 1083.2L473.4 1082.9L474.0 1082.7L474.4 1082.6L475.4 1082.3L476.4 1082.1L477.4 1081.8L478.4 1081.5L479.4 1081.2L480.4 1081.0L481.4 1080.7L482.4 1080.5L483.4 1080.3L484.4 1080.1L485.4 1079.9L486.4 1079.8L487.4 1079.7L488.4 1079.6L489.4 1079.6L489.5 1079.6L490.4 1079.6L491.4 1079.7L492.4 1079.8L493.4 1080.0L494.4 1080.3L495.4 1080.5L496.4 1080.8L497.4 1081.2L498.4 1081.5L499.4 1081.9L500.4 1082.3L501.4 1082.7L502.4 1083.1L503.4 1083.6L504.4 1084.0L505.0 1084.3L505.4 1084.4L506.4 1084.9L507.4 1085.4L508.4 1086.1L509.4 1086.7L510.4 1087.4L511.4 1088.2L512.4 1088.9L513.4 1089.7L514.4 1090.5L515.4 1091.3L516.4 1092.1L517.4 1092.9L518.4 1093.6L519.4 1094.3L520.4 1095.0L520.5 1095.1L521.4 1095.7L522.4 1096.3L523.4 1097.0L524.4 1097.7L525.4 1098.4L526.4 1099.1L527.4 1099.8L528.4 1100.5L529.4 1101.1L530.4 1101.8L531.4 1102.3L532.4 1102.9L533.4 1103.4L534.4 1103.8L535.4 1104.2L536.0 1104.4L536.4 1104.5L537.4 1104.8L538.4 1105.1L539.4 1105.4L540.4 1105.7L541.4 1106.0L542.4 1106.2L543.4 1106.5L544.4 1106.7L545.4 1106.9L546.4 1107.1L547.4 1107.2L548.4 1107.3L549.4 1107.4L550.4 1107.5L551.4 1107.5L551.6 1107.5L552.4 1107.5L553.4 1107.3L554.4 1107.0L555.4 1106.7L556.4 1106.2L557.4 1105.7L558.4 1105.1L559.4 1104.6L560.4 1104.0L561.4 1103.3L562.4 1102.8L563.4 1102.2L564.4 1101.7L564.6 1101.6L565.4 1101.2L566.4 1100.7L567.4 1100.2L567.6 1100.1L568.4 1099.7L569.4 1099.2L570.4 1098.7L570.6 1098.6L571.4 1098.2L572.4 1097.7L573.4 1097.3L573.6 1097.2L574.4 1096.8L575.4 1096.3L575.6 1096.2L576.4 1095.9L577.4 1095.4L578.4 1095.0L578.6 1094.9L579.4 1094.6L580.4 1094.1L581.4 1093.7L581.6 1093.7L582.4 1093.4L583.4 1093.0L584.4 1092.7L584.6 1092.6L585.4 1092.4L586.4 1092.1L587.4 1091.9L587.6 1091.9L588.4 1091.7L589.4 1091.6L590.4 1091.5L590.6 1091.5L591.4 1091.4L592.4 1091.3L592.6 1091.3L593.4 1091.3L594.4 1091.2L595.4 1091.1L595.6 1091.1L596.4 1091.0L597.4 1090.9L598.4 1090.7L598.6 1090.7L599.4 1090.6L600.4 1090.5L601.4 1090.3L601.6 1090.3L602.4 1090.2L603.4 1090.1L604.4 1089.9L604.6 1089.9L605.4 1089.8L606.4 1089.7L606.6 1089.7L607.4 1089.6L608.4 1089.5L609.4 1089.5L609.6 1089.5L610.4 1089.5L611.4 1089.5L612.4 1089.5L612.6 1089.5L613.4 1089.6L614.4 1089.7L615.4 1089.8L615.6 1089.8L616.4 1089.9L617.4 1090.1L618.4 1090.2L618.6 1090.3L619.4 1090.4L620.4 1090.6L621.4 1090.8L621.6 1090.9L622.4 1091.0L623.4 1091.3L623.6 1091.3L624.4 1091.6L625.4 1091.9L626.4 1092.3L626.6 1092.3L627.4 1092.6L628.4 1093.0L629.4 1093.4L629.6 1093.5L630.4 1093.8L631.4 1094.2L632.4 1094.5L632.6 1094.6L633.4 1094.9L634.4 1095.2L635.4 1095.5L635.6 1095.5L636.4 1095.7L637.4 1096.0L637.6 1096.0L638.4 1096.2L639.4 1096.4L640.4 1096.6L640.6 1096.6L641.4 1096.8L642.4 1097.0L643.4 1097.2L643.6 1097.2L644.4 1097.4L645.4 1097.5L646.4 1097.7L646.6 1097.8L647.4 1097.9L648.4 1098.1L649.4 1098.2L649.6 1098.2L650.4 1098.3L651.4 1098.4L652.4 1098.5L652.6 1098.5L653.4 1098.5L654.4 1098.5L654.6 1098.5L655.4 1098.5L656.4 1098.4L657.4 1098.2L657.6 1098.2L658.4 1098.0L659.4 1097.8L660.4 1097.5L660.6 1097.4L661.4 1097.2L662.4 1096.8L663.4 1096.5L663.6 1096.4L664.4 1096.1L665.4 1095.7L666.4 1095.3L666.6 1095.2L667.4 1094.9L668.4 1094.5L668.6 1094.4L669.4 1094.0L670.4 1093.6L671.4 1093.1L671.6 1093.0L672.4 1092.7L673.4 1092.2L674.4 1091.7L674.6 1091.6L675.4 1091.2L676.4 1090.8L677.4 1090.3L677.6 1090.2L678.4 1089.9L679.4 1089.5L680.4 1089.2L680.6 1089.1L681.4 1088.9L682.4 1088.7L683.4 1088.5L683.6 1088.5L684.4 1088.4L685.4 1088.3L685.6 1088.3L686.4 1088.2L687.4 1088.2L688.4 1088.2L688.6 1088.2L689.4 1088.2L690.4 1088.2L691.4 1088.2L691.6 1088.2L692.4 1088.3L693.4 1088.3L694.4 1088.4L694.6 1088.4L695.4 1088.5L696.4 1088.6L697.4 1088.7L697.6 1088.7L698.4 1088.8L699.4 1088.8L699.6 1088.9L700.4 1089.0L701.4 1089.1L702.4 1089.3L702.6 1089.4L703.4 1089.6L704.4 1089.8L705.4 1090.1L705.6 1090.2L706.4 1090.4L707.4 1090.8L708.4 1091.1L708.6 1091.2L709.4 1091.5L710.4 1091.8L711.4 1092.2L711.6 1092.3L712.4 1092.5L713.4 1092.9L714.4 1093.2L714.6 1093.3L715.4 1093.6L716.4 1093.9L716.6 1094.0L717.4 1094.3L718.4 1094.7L719.4 1095.2L719.6 1095.3L720.4 1095.7L721.4 1096.2L722.4 1096.7L722.6 1096.8L723.4 1097.2L724.4 1097.7L725.4 1098.3L725.6 1098.4L726.4 1098.8L727.4 1099.3L728.4 1099.7L728.6 1099.8L729.4 1100.2L730.4 1100.6L730.6 1100.7L731.4 1101.0L732.4 1101.4L733.4 1101.9L733.6 1102.0L734.4 1102.3L735.4 1102.8L736.4 1103.2L736.6 1103.3L737.4 1103.7L738.4 1104.1L739.4 1104.5L739.6 1104.6L740.4 1104.9L741.4 1105.2L742.4 1105.5L742.6 1105.5L743.4 1105.7L744.4 1105.8L745.4 1105.9L745.6 1105.9L746.4 1105.9L747.4 1105.9L747.6 1105.9L748.4 1105.9L749.4 1105.8L750.4 1105.7L750.6 1105.7L751.4 1105.6L752.4 1105.5L753.4 1105.4L753.6 1105.4L754.4 1105.3L755.4 1105.2L756.4 1105.0L756.6 1105.0L757.4 1104.9L758.4 1104.7L759.4 1104.6L759.6 1104.5L760.4 1104.4L761.4 1104.2L761.6 1104.2L762.4 1104.0L763.4 1103.7L764.4 1103.4L764.6 1103.4L765.4 1103.1L766.4 1102.7L767.4 1102.3L767.6 1102.2L768.4 1101.9L769.4 1101.4L770.0 1101.1L770.4 1101.0L771.4 1100.5L772.4 1100.0L772.6 1099.9L773.4 1099.5L774.4 1099.0L775.4 1098.5L775.6 1098.4L776.4 1098.0L777.4 1097.4L778.4 1096.9L778.6 1096.8L779.4 1096.4L780.4 1096.0L781.4 1095.6L781.6 1095.5L782.4 1095.2L783.4 1094.8L784.4 1094.6L784.6 1094.5L785.4 1094.3L786.4 1094.1L786.6 1094.1L787.4 1094.0L788.4 1093.8L789.4 1093.7L789.6 1093.6L790.4 1093.5L791.4 1093.4L792.4 1093.4L792.6 1093.3L793.4 1093.3L794.4 1093.2L795.4 1093.2L795.6 1093.2L796.4 1093.1L797.4 1093.1L798.4 1093.1L798.6 1093.1L799.4 1093.1L800.4 1093.1L801.4 1093.1L801.6 1093.1L802.4 1093.1L803.4 1093.1L804.1 1093.2L804.4 1093.2L805.4 1093.3L806.4 1093.4L806.6 1093.4L807.4 1093.5L808.4 1093.6L809.4 1093.8L809.6 1093.9L810.4 1094.0L811.4 1094.3L812.4 1094.5L812.6 1094.6L813.4 1094.8L814.4 1095.1L815.4 1095.3L815.6 1095.4L816.4 1095.6L817.4 1095.9L818.4 1096.3L818.6 1096.3L819.4 1096.6L820.4 1096.9L820.6 1096.9L821.4 1097.2L822.4 1097.6L823.4 1098.0L823.6 1098.1L824.4 1098.4L825.4 1098.9L826.4 1099.3L826.6 1099.4L827.4 1099.8L828.4 1100.2L829.4 1100.6L829.6 1100.7L830.4 1101.0L831.4 1101.4L832.4 1101.7L832.6 1101.8L833.4 1102.0L834.4 1102.2L835.1 1102.4L835.4 1102.4L836.4 1102.6L837.4 1102.8L837.6 1102.9L838.4 1103.0L839.4 1103.2L840.4 1103.4L840.6 1103.4L841.4 1103.5L842.4 1103.7L843.4 1103.8L843.6 1103.8L844.4 1103.9L845.4 1103.9L846.4 1103.9L846.6 1103.9L847.4 1103.9L848.4 1103.9L848.6 1103.8L849.4 1103.8L850.4 1103.7L851.4 1103.6L851.6 1103.6L852.4 1103.5L853.4 1103.4L854.4 1103.2L854.6 1103.2L855.4 1103.1L856.4 1103.0L857.4 1102.9L857.6 1102.8L858.4 1102.7L859.4 1102.6L860.4 1102.5L860.6 1102.5L861.4 1102.4L862.4 1102.2L863.0 1102.1L863.4 1102.1L864.4 1101.9L865.4 1101.7L865.6 1101.6L866.4 1101.4L867.4 1101.1L868.4 1100.8L868.6 1100.7L869.4 1100.4L870.4 1100.0L871.4 1099.6L871.6 1099.5L872.4 1099.1L873.4 1098.6L874.4 1098.2L874.6 1098.1L875.4 1097.7L876.4 1097.3L877.4 1096.8L877.6 1096.7L878.4 1096.4L879.4 1096.0L879.6 1095.9L880.4 1095.6L881.4 1095.2L882.4 1094.8L882.6 1094.7L883.4 1094.4L884.4 1094.1L885.4 1093.7L885.6 1093.7L886.4 1093.4L887.4 1093.1L888.4 1092.8L888.6 1092.7L889.4 1092.5L890.4 1092.2L891.4 1091.9L891.6 1091.9L892.4 1091.7L893.4 1091.4L894.0 1091.3L894.4 1091.2L895.4 1091.0L896.4 1090.7L896.6 1090.7L897.4 1090.5L898.4 1090.2L899.4 1090.0L899.6 1090.0L900.4 1089.8L901.4 1089.5L902.4 1089.3L902.6 1089.2L903.4 1089.1L904.4 1088.8L905.4 1088.6L905.6 1088.6L906.4 1088.4L907.4 1088.2L908.4 1088.1L908.6 1088.1L909.4 1088.0L910.4 1087.8L910.6 1087.8L911.4 1087.7L912.4 1087.6L913.4 1087.6L913.6 1087.6L914.4 1087.5L915.4 1087.5L916.4 1087.4L916.6 1087.4L917.4 1087.5L918.4 1087.5L919.4 1087.5L919.6 1087.5L920.4 1087.6L921.4 1087.6L921.9 1087.7L922.4 1087.7L923.4 1087.9L924.4 1088.0L924.6 1088.0L925.4 1088.2L926.4 1088.4L927.4 1088.6L927.6 1088.6L928.4 1088.8L929.4 1089.0L930.4 1089.2L930.6 1089.2L931.4 1089.4L932.4 1089.6L933.4 1089.8L933.6 1089.8L934.4 1089.9L935.4 1090.1L936.4 1090.2L936.6 1090.2L937.4 1090.3L938.4 1090.4L938.6 1090.4L939.4 1090.6L940.4 1090.8L941.4 1091.0L941.6 1091.0L942.4 1091.2L943.4 1091.4L944.4 1091.7L944.6 1091.8L945.4 1092.0L946.4 1092.3L947.4 1092.7L947.6 1092.7L948.4 1093.0L949.4 1093.4L950.4 1093.7L950.6 1093.8L951.4 1094.1L952.4 1094.4L952.9 1094.6L953.4 1094.8L954.4 1095.2L955.4 1095.6L955.6 1095.7L956.4 1096.1L957.4 1096.6L958.4 1097.1L958.6 1097.2L959.4 1097.6L960.4 1098.2L961.4 1098.7L961.6 1098.8L962.4 1099.2L963.4 1099.7L964.4 1100.2L964.6 1100.3L965.4 1100.6L966.4 1101.1L967.4 1101.4L967.6 1101.5L968.4 1101.7L969.4 1102.0L970.4 1102.2L970.6 1102.2L971.4 1102.2L972.4 1102.3L972.6 1102.3L973.4 1102.2L974.4 1101.9L975.4 1101.5L975.6 1101.4L976.4 1101.1L977.4 1100.6L978.4 1100.1L978.6 1100.0L979.4 1099.7L980.4 1099.3L980.6 1099.3L981.4 1099.0L982.4 1098.6L983.4 1098.2L983.6 1098.2L984.4 1097.9L985.4 1097.5L986.4 1097.1L986.6 1097.1L987.4 1096.8L988.4 1096.4L989.4 1096.0L989.6 1095.9L990.4 1095.6L991.4 1095.3L992.4 1094.9L992.6 1094.8L993.4 1094.5L994.4 1094.1L995.4 1093.7L995.5 1093.6L996.4 1093.3L997.4 1092.8L997.6 1092.7L998.4 1092.3L999.4 1091.8L1000.4 1091.3L1000.6 1091.1L1001.4 1090.7L1002.4 1090.2L1003.4 1089.6L1003.6 1089.5L1004.4 1089.0L1005.4 1088.5L1006.4 1088.0L1006.6 1087.9L1007.4 1087.5L1008.4 1087.0L1009.4 1086.6L1009.6 1086.5L1010.4 1086.3L1011.4 1086.0L1011.6 1085.9L1012.4 1085.7L1013.4 1085.4L1014.4 1085.2L1014.6 1085.1L1015.4 1085.0L1016.4 1084.8L1017.4 1084.6L1017.6 1084.6L1018.4 1084.5L1019.4 1084.4L1020.4 1084.4L1020.6 1084.4L1021.4 1084.4L1022.4 1084.5L1023.4 1084.5L1023.4 1084.5L1024.4 1084.7L1025.4 1084.9L1025.6 1085.0L1026.4 1085.2L1027.4 1085.5L1028.4 1085.9L1028.6 1086.0L1029.4 1086.3L1030.4 1086.7L1031.4 1087.2L1031.6 1087.3L1032.4 1087.6L1033.4 1088.1L1034.4 1088.5L1034.6 1088.6L1035.4 1089.0L1036.4 1089.4L1037.4 1089.8L1037.6 1089.9L1038.4 1090.2L1039.4 1090.5L1039.6 1090.6L1040.4 1090.9L1041.4 1091.2L1042.4 1091.6L1042.6 1091.7L1043.4 1092.0L1044.4 1092.5L1045.4 1092.9L1045.6 1093.0L1046.4 1093.3L1047.4 1093.8L1048.4 1094.2L1048.6 1094.3L1049.4 1094.7L1050.4 1095.1L1051.4 1095.6L1051.6 1095.7L1052.4 1096.0L1053.4 1096.4L1054.4 1096.8L1054.4 1096.9L1055.4 1097.3L1056.4 1097.7L1056.6 1097.8L1057.4 1098.1L1058.4 1098.6L1059.4 1099.1L1059.6 1099.2L1060.4 1099.5L1061.4 1100.0L1062.4 1100.4L1062.6 1100.5L1063.4 1100.8L1064.4 1101.1L1065.4 1101.4L1065.6 1101.5L1066.4 1101.6L1067.4 1101.8L1067.6 1101.8L1068.4 1102.0L1069.4 1102.1L1070.4 1102.2L1070.6 1102.3L1071.4 1102.4L1072.4 1102.5L1073.4 1102.6L1073.6 1102.6L1074.4 1102.6L1075.4 1102.7L1076.1 1102.7L1076.4 1102.7L1077.4 1102.6L1078.4 1102.6L1078.6 1102.6L1079.4 1102.5L1080.4 1102.3L1081.4 1102.1L1081.6 1102.0L1082.4 1101.9L1083.4 1101.6L1084.4 1101.4L1084.6 1101.3L1085.4 1101.2L1086.4 1100.9L1087.4 1100.7L1087.6 1100.6L1088.4 1100.5L1089.4 1100.3L1090.4 1100.1L1090.6 1100.0L1091.4 1099.9L1092.4 1099.8L1092.6 1099.8L1093.4 1099.6L1094.4 1099.5L1095.4 1099.3L1095.6 1099.2L1096.4 1099.1L1097.4 1098.8L1098.4 1098.6L1098.6 1098.5L1099.4 1098.3L1100.4 1098.0L1101.4 1097.7L1101.6 1097.7L1102.4 1097.4L1103.4 1097.1L1104.4 1096.7L1104.6 1096.6L1105.4 1096.4L1106.4 1096.0L1107.4 1095.7L1107.6 1095.6L1108.4 1095.3L1109.4 1095.0L1110.4 1094.7L1110.6 1094.6L1111.4 1094.4L1112.4 1094.1L1113.4 1093.9L1113.6 1093.9L1114.4 1093.7L1115.4 1093.6L1115.6 1093.6L1116.4 1093.6L1117.4 1093.6L1118.4 1093.6L1118.6 1093.6L1119.4 1093.6L1120.4 1093.7L1121.4 1093.9L1121.6 1094.0L1122.4 1094.1L1123.4 1094.4L1124.4 1094.7L1124.6 1094.8L1125.4 1095.1L1126.4 1095.4L1127.4 1095.8L1127.6 1095.9L1128.4 1096.2L1129.4 1096.6L1130.4 1097.0L1130.6 1097.1L1131.4 1097.4L1132.4 1097.8L1133.4 1098.3L1133.6 1098.3L1134.4 1098.6L1135.4 1099.0L1135.6 1099.1L1136.4 1099.4L1137.4 1099.8L1138.4 1100.1L1138.6 1100.2L1139.4 1100.5L1140.4 1100.9L1141.4 1101.3L1141.6 1101.4L1142.4 1101.7L1143.4 1102.1L1144.4 1102.4L1144.6 1102.5L1145.4 1102.8L1146.4 1103.2L1147.4 1103.5L1147.6 1103.6L1148.4 1103.9L1149.4 1104.2L1150.4 1104.5L1150.5 1104.6L1151.4 1104.9L1152.4 1105.2L1152.6 1105.3L1153.4 1105.6L1154.4 1106.0L1155.4 1106.4L1155.6 1106.5L1156.4 1106.7L1157.4 1107.1L1158.4 1107.4L1158.6 1107.4L1159.4 1107.6L1160.4 1107.7L1161.4 1107.8L1161.4 1107.8L1162.4 1107.8L1163.4 1107.7L1163.6 1107.6L1164.4 1107.5L1165.4 1107.2L1166.4 1106.8L1166.6 1106.8L1167.4 1106.5L1168.4 1106.0L1169.4 1105.6L1169.6 1105.5L1170.4 1105.1L1171.4 1104.6L1172.4 1104.2L1172.6 1104.1L1173.4 1103.7L1174.4 1103.3L1174.6 1103.2L1175.4 1102.8L1176.4 1102.4L1177.4 1101.9L1177.6 1101.8L1178.4 1101.5L1179.4 1101.0L1180.4 1100.6L1180.6 1100.5L1181.4 1100.2L1182.4 1099.7L1183.4 1099.3L1183.6 1099.2L1184.4 1098.9L1185.4 1098.6L1186.4 1098.2L1186.6 1098.1L1187.4 1097.9L1188.4 1097.6L1189.3 1097.3L1189.4 1097.3L1190.4 1097.0L1191.4 1096.7L1191.6 1096.7L1192.4 1096.4L1193.4 1096.1L1194.4 1095.8L1194.6 1095.7L1195.4 1095.5L1196.4 1095.2L1197.4 1094.8L1197.6 1094.8L1198.4 1094.5L1199.4 1094.2L1200.4 1093.9L1200.6 1093.8L1201.4 1093.6L1202.4 1093.2L1203.4 1092.9L1203.6 1092.9L1204.4 1092.7L1205.4 1092.4L1205.6 1092.3L1206.4 1092.1L1207.4 1091.9L1208.4 1091.6L1208.6 1091.5L1209.4 1091.3L1210.4 1091.0L1211.4 1090.7L1211.6 1090.6L1212.4 1090.4L1213.4 1090.0L1214.4 1089.8L1214.6 1089.7L1215.4 1089.5L1216.4 1089.2L1217.4 1089.0L1217.6 1088.9L1218.4 1088.7L1219.4 1088.5L1220.4 1088.4L1220.6 1088.3L1221.4 1088.2L1222.4 1088.1L1223.4 1088.0L1223.6 1088.0L1224.4 1088.0L1225.4 1088.0L1225.6 1088.0L1226.4 1088.1L1227.4 1088.2L1228.4 1088.4L1228.6 1088.4L1229.4 1088.6L1230.4 1088.8L1231.4 1089.1L1231.6 1089.1L1232.4 1089.3L1233.4 1089.6L1234.4 1090.0L1234.6 1090.0L1235.4 1090.3L1236.4 1090.6L1237.4 1091.0L1237.6 1091.1L1238.4 1091.3L1239.4 1091.7L1240.4 1092.0L1240.6 1092.1L1241.4 1092.4L1242.4 1092.8L1242.6 1092.8L1243.4 1093.2L1244.4 1093.7L1245.4 1094.2L1245.6 1094.3L1246.4 1094.7L1247.4 1095.3L1248.4 1096.0L1248.6 1096.1L1249.4 1096.6L1250.4 1097.2L1251.4 1097.9L1251.6 1098.0L1252.4 1098.5L1253.4 1099.1L1254.4 1099.7L1254.6 1099.8L1255.4 1100.3L1256.4 1100.8L1256.7 1101.0L1257.4 1101.3L1258.4 1101.8L1259.4 1102.3L1259.6 1102.4L1260.4 1102.8L1261.4 1103.3L1262.4 1103.7L1262.6 1103.8L1263.4 1104.2L1264.4 1104.6L1265.4 1104.9L1265.6 1105.0L1266.4 1105.2L1267.4 1105.5L1268.4 1105.8L1268.6 1105.8L1269.4 1106.0L1270.4 1106.1L1270.6 1106.2L1271.4 1106.3L1272.4 1106.4L1273.4 1106.5L1273.6 1106.5L1274.4 1106.5L1275.4 1106.6L1276.4 1106.6L1276.6 1106.6L1277.4 1106.6L1278.4 1106.6L1279.4 1106.6L1279.6 1106.5L1280.4 1106.5L1281.4 1106.4L1281.6 1106.4L1282.4 1106.3L1283.4 1106.1L1284.4 1105.9L1284.6 1105.8L1285.4 1105.6L1286.4 1105.4L1287.4 1105.1L1287.6 1105.0L1288.4 1104.8L1289.4 1104.5L1290.4 1104.2L1290.6 1104.2L1291.4 1104.0L1292.4 1103.7L1293.4 1103.4L1293.6 1103.3L1294.4 1103.1L1295.4 1102.9L1296.4 1102.6L1296.6 1102.6L1297.4 1102.4L1298.4 1102.2L1298.6 1102.1L1299.4 1102.0L1300.4 1101.7L1301.4 1101.5L1301.6 1101.4L1302.4 1101.2L1303.4 1100.9L1304.4 1100.6L1304.6 1100.5L1305.4 1100.2L1306.4 1099.8L1307.4 1099.4L1307.6 1099.4L1308.4 1099.1L1309.4 1098.7L1310.4 1098.3L1310.6 1098.2L1311.4 1097.9L1312.4 1097.5L1313.4 1097.1L1313.6 1097.1L1314.4 1096.8L1315.4 1096.5L1316.4 1096.2L1316.6 1096.1L1317.4 1095.9L1318.4 1095.7L1318.6 1095.7L1319.4 1095.5L1320.4 1095.3L1321.4 1095.1L1321.6 1095.0L1322.4 1094.9L1323.4 1094.7L1324.4 1094.5L1324.6 1094.5L1325.4 1094.3L1326.4 1094.2L1327.4 1094.0L1327.6 1094.0L1328.4 1093.9L1329.4 1093.8L1330.4 1093.7L1330.6 1093.6L1331.4 1093.6L1332.4 1093.5L1333.4 1093.4L1333.6 1093.4L1334.4 1093.3L1335.4 1093.2L1336.4 1093.2L1336.6 1093.2L1337.4 1093.1L1338.4 1093.1L1338.6 1093.1L1339.4 1093.1L1340.4 1093.1L1341.4 1093.1L1341.6 1093.1L1342.4 1093.1L1343.4 1093.1L1344.4 1093.2L1344.6 1093.2L1345.4 1093.3L1346.4 1093.4L1347.4 1093.5L1347.6 1093.5L1348.4 1093.6L1349.4 1093.7L1350.4 1093.9L1350.6 1093.9L1351.4 1094.1L1352.4 1094.3L1353.4 1094.5L1353.6 1094.6L1354.4 1094.8L1355.4 1095.0L1356.4 1095.3L1356.6 1095.3L1357.4 1095.5L1358.4 1095.8L1359.4 1096.1L1359.6 1096.1L1360.4 1096.3L1361.4 1096.6L1361.6 1096.6L1362.4 1096.9L1363.4 1097.1L1364.4 1097.4L1364.6 1097.4L1365.4 1097.6L1366.4 1097.8L1367.4 1098.1L1367.6 1098.1L1368.4 1098.3L1369.4 1098.4L1370.4 1098.6L1370.6 1098.6L1371.4 1098.7L1372.4 1098.8L1373.4 1098.9L1373.6 1098.9L1374.4 1098.9L1375.4 1098.9L1376.4 1098.9L1376.6 1098.9L1377.4 1098.9L1378.4 1098.8L1379.4 1098.7L1379.6 1098.7L1380.4 1098.7L1381.4 1098.6L1382.4 1098.4L1382.6 1098.4L1383.4 1098.3L1384.4 1098.2L1384.6 1098.1L1385.4 1098.0L1386.4 1097.9L1387.4 1097.8L1387.6 1097.7L1388.4 1097.7L1389.4 1097.5L1390.4 1097.4L1390.6 1097.4L1391.4 1097.3L1392.4 1097.3L1393.4 1097.2L1393.6 1097.2L1394.4 1097.1L1395.4 1097.0L1396.4 1096.9L1396.6 1096.9" stroke="#ff00ff" stroke-width="6.5" fill="none" stroke-linejoin="round" stroke-linecap="butt" stroke-dasharray="20 4.6 10.3 4.6"/>
<path d="M137.6 856.0L138.6 860.2L139.6 864.4L140.6 868.6L141.6 872.8L142.6 877.1L143.6 881.3L144.6 885.6L145.6 889.9L146.6 894.2L147.6 898.5L148.6 902.9L149.6 907.2L150.6 911.6L151.6 916.0L151.9 917.3L152.6 920.4L153.6 924.9L154.6 929.4L155.6 934.0L156.6 938.6L157.6 943.2L158.6 947.9L159.6 952.5L160.6 957.0L161.6 961.5L162.6 966.0L163.6 970.3L164.6 974.6L165.0 976.4L165.6 978.7L166.6 982.8L167.6 986.9L168.6 991.0L169.6 995.0L170.6 998.9L171.6 1002.8L172.6 1006.7L173.6 1010.5L174.6 1014.2L175.6 1017.8L176.6 1021.4L177.6 1024.8L178.2 1026.8L178.6 1028.2L179.6 1031.4L180.6 1034.5L181.6 1037.5L182.6 1040.4L183.6 1043.3L184.6 1046.2L185.6 1049.0L186.6 1052.0L187.6 1054.9L188.6 1058.0L189.1 1059.6L189.6 1061.1L190.6 1064.5L191.6 1068.0L192.6 1071.4L193.6 1074.6L194.3 1076.5L194.6 1077.4L195.6 1080.1L196.6 1082.7L197.6 1085.1L198.6 1087.3L199.6 1089.1L200.5 1090.5L200.6 1090.6L201.6 1091.9L202.6 1093.1L203.6 1094.0L204.6 1094.8L205.1 1095.1L205.6 1095.4L206.6 1095.8L207.6 1096.3L208.6 1096.7L209.6 1097.0L210.6 1097.3L211.6 1097.6L212.6 1097.8L213.6 1098.0L214.4 1098.2L214.6 1098.3L215.6 1098.5L216.6 1098.7L217.6 1098.9L218.6 1099.0L219.6 1099.2L220.6 1099.4L221.6 1099.5L222.6 1099.6L223.6 1099.7L224.6 1099.8L225.3 1099.8L225.6 1099.8L226.6 1099.7L227.6 1099.6L228.6 1099.4L229.6 1099.2L230.6 1098.9L231.6 1098.6L232.6 1098.3L233.0 1098.2L233.6 1098.0L234.6 1097.7L235.6 1097.3L236.6 1096.9L237.6 1096.4L238.6 1095.9L239.6 1095.3L240.6 1094.8L241.6 1094.2L242.6 1093.6L243.6 1093.1L244.6 1092.5L245.4 1092.0L245.6 1091.9L246.6 1091.3L247.6 1090.7L248.6 1090.1L249.6 1089.4L250.6 1088.8L251.6 1088.1L252.6 1087.4L253.6 1086.8L254.6 1086.1L255.6 1085.5L256.6 1084.9L257.6 1084.4L257.8 1084.3L258.6 1083.9L259.6 1083.3L260.6 1082.8L261.6 1082.3L262.6 1081.7L263.6 1081.2L264.6 1080.7L265.6 1080.2L266.6 1079.8L267.6 1079.4L268.6 1079.0L269.6 1078.6L270.6 1078.4L271.6 1078.1L271.8 1078.1L272.6 1077.9L273.6 1077.7L274.6 1077.5L275.6 1077.3L276.6 1077.1L277.6 1076.9L278.6 1076.8L279.6 1076.7L280.6 1076.6L281.6 1076.5L282.6 1076.5L282.6 1076.5L283.6 1076.6L284.6 1076.7L285.6 1076.9L286.6 1077.1L287.6 1077.4L288.6 1077.7L289.6 1078.0L290.6 1078.4L291.6 1078.7L291.9 1078.8L292.6 1079.1L293.6 1079.5L294.6 1079.9L295.6 1080.4L296.6 1080.9L297.6 1081.4L298.6 1081.9L299.6 1082.5L300.6 1083.1L301.6 1083.6L302.6 1084.2L302.8 1084.3L303.6 1084.7L304.6 1085.3L305.6 1085.9L306.6 1086.5L307.6 1087.1L308.6 1087.7L309.6 1088.3L310.6 1088.9L311.6 1089.4L312.6 1090.0L313.6 1090.4L313.6 1090.5L314.6 1090.9L315.6 1091.3L316.6 1091.8L317.6 1092.2L318.6 1092.6L319.6 1093.0L320.6 1093.4L321.6 1093.7L322.6 1094.1L323.6 1094.4L324.6 1094.7L325.6 1095.0L326.0 1095.1L326.6 1095.3L327.6 1095.5L328.6 1095.8L329.6 1096.0L330.6 1096.2L331.6 1096.5L332.6 1096.7L333.6 1096.9L334.6 1097.1L335.6 1097.3L336.6 1097.5L337.6 1097.6L338.6 1097.8L339.6 1098.0L340.6 1098.1L341.6 1098.2L341.6 1098.2L342.6 1098.3L343.6 1098.4L344.6 1098.5L345.6 1098.6L346.6 1098.7L347.6 1098.8L348.6 1098.9L349.6 1099.0L350.0 1099.0L350.6 1099.1L351.6 1099.2L352.6 1099.3L353.6 1099.4L354.6 1099.5L355.6 1099.6L356.6 1099.7L357.6 1099.8L358.6 1099.9L359.6 1100.0L360.6 1100.1L361.6 1100.2L362.6 1100.3L363.6 1100.4L364.6 1100.5L365.5 1100.5L365.6 1100.5L366.6 1100.6L367.6 1100.7L368.6 1100.8L369.6 1100.8L370.6 1100.9L371.6 1101.0L372.6 1101.0L373.6 1101.1L374.6 1101.1L375.6 1101.2L376.6 1101.2L377.6 1101.3L378.6 1101.3L379.6 1101.3L380.6 1101.3L381.0 1101.3L381.6 1101.3L382.6 1101.3L383.6 1101.3L384.6 1101.3L385.6 1101.2L386.6 1101.2L387.6 1101.1L388.6 1101.1L389.6 1101.0L390.6 1101.0L391.6 1100.9L392.6 1100.8L393.6 1100.8L394.6 1100.7L395.6 1100.6L396.5 1100.5L396.6 1100.5L397.6 1100.5L398.6 1100.4L399.6 1100.3L400.6 1100.1L401.6 1100.0L402.6 1099.9L403.6 1099.7L404.6 1099.6L405.6 1099.4L406.6 1099.2L407.6 1099.1L408.6 1098.9L409.6 1098.7L410.6 1098.5L411.6 1098.3L412.0 1098.2L412.6 1098.1L413.6 1097.9L414.6 1097.6L415.6 1097.4L416.6 1097.1L417.6 1096.8L418.6 1096.5L419.6 1096.1L420.6 1095.8L421.6 1095.5L422.6 1095.1L423.6 1094.8L424.6 1094.5L425.6 1094.2L426.6 1093.8L427.5 1093.6L427.6 1093.5L428.6 1093.2L429.6 1093.0L430.6 1092.7L431.6 1092.4L432.6 1092.1L433.6 1091.8L434.6 1091.5L435.6 1091.2L436.6 1090.9L437.6 1090.6L438.6 1090.3L439.6 1090.0L440.6 1089.7L441.6 1089.4L442.6 1089.1L443.0 1088.9L443.6 1088.7L444.6 1088.4L445.6 1088.0L446.6 1087.6L447.6 1087.2L448.6 1086.8L449.6 1086.4L450.6 1086.0L451.6 1085.6L452.6 1085.2L453.6 1084.7L454.6 1084.3L455.6 1083.9L456.6 1083.5L457.6 1083.1L458.5 1082.7L458.6 1082.7L459.6 1082.3L460.6 1081.9L461.6 1081.4L462.6 1081.0L463.6 1080.5L464.6 1080.1L465.6 1079.7L466.6 1079.2L467.6 1078.8L468.6 1078.4L469.6 1078.0L470.6 1077.6L471.6 1077.3L472.6 1076.9L473.6 1076.6L474.0 1076.5L474.6 1076.4L475.6 1076.1L476.6 1075.8L477.6 1075.5L478.6 1075.3L479.6 1075.0L480.6 1074.7L481.6 1074.5L482.6 1074.3L483.6 1074.1L484.6 1073.9L485.6 1073.7L486.6 1073.6L487.6 1073.5L488.6 1073.4L489.5 1073.4L489.6 1073.4L490.6 1073.4L491.6 1073.5L492.6 1073.5L493.6 1073.6L494.6 1073.7L495.6 1073.8L496.6 1074.0L497.6 1074.1L498.6 1074.3L499.6 1074.5L500.6 1074.7L501.6 1074.9L501.9 1075.0L502.6 1075.1L503.6 1075.6L504.6 1076.1L505.6 1076.8L506.6 1077.5L507.6 1078.3L508.6 1079.2L509.6 1080.1L510.6 1080.9L511.6 1081.8L512.6 1082.6L512.8 1082.7L513.6 1083.3L514.6 1084.0L515.6 1084.8L516.6 1085.6L517.6 1086.3L518.6 1087.1L519.6 1087.8L520.6 1088.6L521.6 1089.3L522.6 1090.1L523.6 1090.8L524.6 1091.6L525.2 1092.0L525.6 1092.3L526.6 1093.1L527.6 1093.8L528.6 1094.6L529.6 1095.4L530.6 1096.2L531.6 1096.9L532.6 1097.7L533.6 1098.3L534.6 1099.0L535.6 1099.5L536.0 1099.8L536.6 1100.0L537.6 1100.5L538.6 1101.0L539.6 1101.5L540.6 1101.9L541.6 1102.3L542.6 1102.7L543.6 1103.1L544.6 1103.4L545.6 1103.7L546.6 1104.0L547.6 1104.3L548.4 1104.4L548.6 1104.4L549.6 1104.6L550.6 1104.8L551.6 1105.0L552.6 1105.1L553.6 1105.2L554.6 1105.2L554.7 1105.2L555.6 1105.1L556.6 1104.9L557.6 1104.5L558.6 1104.1L559.6 1103.6L560.6 1103.0L561.6 1102.5L562.6 1101.9L563.6 1101.5L564.0 1101.3L564.6 1101.1L565.6 1100.6L566.6 1100.2L567.6 1099.8L568.6 1099.4L569.6 1099.0L570.6 1098.6L571.6 1098.2L572.6 1097.8L573.6 1097.4L574.6 1097.0L575.5 1096.7L575.6 1096.6L576.6 1096.2L577.6 1095.8L578.6 1095.3L579.6 1094.9L580.6 1094.4L581.6 1094.0L582.6 1093.5L583.6 1093.1L584.6 1092.6L585.6 1092.2L586.6 1091.8L587.6 1091.5L588.6 1091.1L589.6 1090.8L590.6 1090.6L591.0 1090.5L591.6 1090.3L592.6 1090.1L593.6 1089.9L594.6 1089.7L595.6 1089.5L596.6 1089.3L597.6 1089.1L598.6 1088.9L599.6 1088.7L600.6 1088.6L601.6 1088.5L602.6 1088.3L603.6 1088.3L604.6 1088.2L605.6 1088.2L606.5 1088.1L606.6 1088.1L607.6 1088.2L608.6 1088.2L609.6 1088.3L610.6 1088.4L611.6 1088.5L612.6 1088.6L613.6 1088.8L614.6 1089.0L615.6 1089.2L616.6 1089.4L617.6 1089.6L618.6 1089.8L619.6 1090.0L620.6 1090.2L621.6 1090.4L622.0 1090.5L622.6 1090.6L623.6 1090.8L624.6 1091.1L625.6 1091.4L626.6 1091.7L627.6 1092.0L628.6 1092.4L629.6 1092.7L630.6 1093.1L631.6 1093.4L632.6 1093.8L633.6 1094.1L634.6 1094.4L635.6 1094.7L636.6 1094.9L637.5 1095.1L637.6 1095.1L638.6 1095.3L639.6 1095.5L640.6 1095.8L641.6 1096.0L642.6 1096.2L643.6 1096.4L644.6 1096.5L645.6 1096.7L646.6 1096.9L647.6 1097.0L648.6 1097.2L649.6 1097.3L650.6 1097.4L651.6 1097.4L652.6 1097.4L653.0 1097.4L653.6 1097.4L654.6 1097.4L655.6 1097.3L656.6 1097.1L657.6 1096.9L658.6 1096.6L659.6 1096.4L660.6 1096.1L661.6 1095.8L662.6 1095.4L663.6 1095.1L664.6 1094.8L665.6 1094.5L666.6 1094.1L667.6 1093.8L668.5 1093.6L668.6 1093.5L669.6 1093.3L670.6 1093.0L671.6 1092.6L672.6 1092.3L673.6 1091.9L674.6 1091.6L675.6 1091.2L676.6 1090.9L677.6 1090.6L678.6 1090.2L679.6 1089.9L680.6 1089.6L681.6 1089.4L682.6 1089.2L683.6 1089.0L684.0 1088.9L684.6 1088.8L685.6 1088.7L686.6 1088.5L687.6 1088.4L688.6 1088.2L689.6 1088.1L690.6 1088.0L691.6 1087.9L692.6 1087.8L693.6 1087.7L694.6 1087.6L695.6 1087.5L696.6 1087.4L697.6 1087.4L698.6 1087.4L699.5 1087.4L699.6 1087.4L700.6 1087.4L701.6 1087.5L702.6 1087.7L703.6 1087.9L704.6 1088.1L705.6 1088.4L706.6 1088.7L707.6 1089.1L708.6 1089.4L709.6 1089.8L710.6 1090.2L711.6 1090.6L712.6 1091.1L713.6 1091.5L714.6 1091.8L715.0 1092.0L715.6 1092.2L716.6 1092.6L717.6 1093.1L718.6 1093.6L719.6 1094.1L720.6 1094.6L721.6 1095.1L722.6 1095.7L723.6 1096.2L724.6 1096.7L725.6 1097.3L726.6 1097.8L727.6 1098.3L728.6 1098.9L729.6 1099.3L730.5 1099.8L730.6 1099.8L731.6 1100.3L732.6 1100.8L733.6 1101.3L734.6 1101.8L735.6 1102.3L736.6 1102.9L737.6 1103.4L738.6 1103.9L739.6 1104.3L740.6 1104.8L741.6 1105.1L742.6 1105.5L743.6 1105.7L744.6 1105.9L745.6 1106.0L746.0 1106.0L746.6 1106.0L747.6 1105.9L748.6 1105.8L749.6 1105.7L750.6 1105.6L751.6 1105.4L752.6 1105.2L753.6 1105.0L754.6 1104.7L755.6 1104.5L756.6 1104.2L757.6 1104.0L758.6 1103.7L759.6 1103.4L760.6 1103.1L761.6 1102.9L761.6 1102.9L762.6 1102.6L763.6 1102.2L764.6 1101.9L765.6 1101.5L766.6 1101.1L767.6 1100.7L768.6 1100.3L769.6 1099.9L770.0 1099.8L770.6 1099.5L771.6 1099.2L772.6 1098.8L773.6 1098.4L774.6 1098.0L775.6 1097.6L776.6 1097.2L777.6 1096.8L778.6 1096.4L779.6 1096.0L780.6 1095.7L781.6 1095.3L782.6 1095.0L783.6 1094.8L784.6 1094.5L785.5 1094.3L785.6 1094.3L786.6 1094.1L787.6 1094.0L788.6 1093.8L789.6 1093.6L790.6 1093.4L791.6 1093.2L792.6 1093.1L793.6 1092.9L794.6 1092.8L795.6 1092.6L796.6 1092.5L797.6 1092.4L798.6 1092.3L799.6 1092.2L800.6 1092.1L801.6 1092.1L802.6 1092.0L803.6 1092.0L804.1 1092.0L804.6 1092.0L805.6 1092.1L806.6 1092.1L807.6 1092.3L808.6 1092.4L809.6 1092.6L810.6 1092.8L811.6 1093.0L812.6 1093.2L813.6 1093.5L814.6 1093.7L815.6 1094.0L816.6 1094.3L817.6 1094.6L818.6 1094.8L819.6 1095.1L819.6 1095.1L820.6 1095.4L821.6 1095.7L822.6 1096.1L823.6 1096.5L824.6 1096.9L825.6 1097.3L826.6 1097.8L827.6 1098.3L828.6 1098.7L829.6 1099.2L830.6 1099.6L831.6 1100.0L832.6 1100.4L833.6 1100.8L834.6 1101.2L835.1 1101.3L835.6 1101.5L836.6 1101.8L837.6 1102.1L838.6 1102.5L839.6 1102.8L840.6 1103.1L841.6 1103.4L842.6 1103.7L843.6 1103.9L844.6 1104.1L845.6 1104.3L846.6 1104.4L847.5 1104.4L847.6 1104.4L848.6 1104.4L849.6 1104.3L850.6 1104.2L851.6 1104.1L852.6 1103.9L853.6 1103.7L854.6 1103.5L855.6 1103.3L856.6 1103.1L857.6 1102.8L858.6 1102.5L859.6 1102.3L860.6 1102.0L861.6 1101.7L862.6 1101.4L863.0 1101.3L863.6 1101.2L864.6 1100.8L865.6 1100.5L866.6 1100.1L867.6 1099.7L868.6 1099.3L869.6 1098.9L870.6 1098.4L871.6 1098.0L872.6 1097.5L873.6 1097.1L874.6 1096.7L875.6 1096.2L876.6 1095.8L877.6 1095.4L878.5 1095.1L878.6 1095.1L879.6 1094.8L880.6 1094.4L881.6 1094.1L882.6 1093.8L883.6 1093.4L884.6 1093.1L885.6 1092.8L886.6 1092.5L887.6 1092.2L888.6 1091.9L889.6 1091.6L890.6 1091.3L891.6 1091.1L892.6 1090.8L893.6 1090.6L894.0 1090.5L894.6 1090.3L895.6 1090.1L896.6 1089.8L897.6 1089.6L898.6 1089.4L899.6 1089.1L900.6 1088.9L901.6 1088.7L902.6 1088.5L903.6 1088.3L904.6 1088.1L905.6 1087.9L906.6 1087.7L907.6 1087.6L908.6 1087.5L909.5 1087.4L909.6 1087.4L910.6 1087.3L911.6 1087.2L912.6 1087.1L913.6 1087.0L914.6 1086.9L915.6 1086.8L916.6 1086.8L917.6 1086.7L918.6 1086.7L919.6 1086.6L920.6 1086.6L921.6 1086.6L921.9 1086.6L922.6 1086.6L923.6 1086.6L924.6 1086.7L925.6 1086.8L926.6 1086.9L927.6 1087.0L928.6 1087.2L929.6 1087.3L930.6 1087.5L931.6 1087.7L932.6 1087.9L933.6 1088.1L934.6 1088.3L935.6 1088.5L936.6 1088.7L937.4 1088.9L937.6 1088.9L938.6 1089.2L939.6 1089.5L940.6 1089.8L941.6 1090.2L942.6 1090.6L943.6 1091.0L944.6 1091.5L945.6 1091.9L946.6 1092.4L947.6 1092.8L948.6 1093.3L949.6 1093.7L950.6 1094.2L951.6 1094.6L952.6 1095.0L952.9 1095.1L953.6 1095.4L954.6 1095.8L955.6 1096.2L956.6 1096.6L957.6 1097.0L958.6 1097.5L959.6 1097.9L960.6 1098.4L961.6 1098.8L962.6 1099.2L963.6 1099.6L964.6 1100.0L965.6 1100.3L966.6 1100.6L967.6 1100.8L968.6 1101.0L969.6 1101.2L970.6 1101.3L971.6 1101.3L971.6 1101.3L972.6 1101.2L973.6 1101.0L974.6 1100.7L975.6 1100.2L976.6 1099.8L977.6 1099.3L978.6 1098.8L979.6 1098.4L980.0 1098.2L980.6 1098.0L981.6 1097.6L982.6 1097.2L983.6 1096.8L984.6 1096.4L985.6 1096.0L986.6 1095.6L987.6 1095.2L988.6 1094.8L989.6 1094.4L990.6 1094.0L991.6 1093.6L992.6 1093.2L993.6 1092.8L994.6 1092.4L995.5 1092.0L995.6 1092.0L996.6 1091.6L997.6 1091.1L998.6 1090.7L999.6 1090.2L1000.6 1089.7L1001.6 1089.3L1002.6 1088.8L1003.6 1088.3L1004.6 1087.9L1005.6 1087.5L1006.6 1087.1L1007.6 1086.7L1008.6 1086.4L1009.6 1086.1L1010.6 1085.9L1011.0 1085.8L1011.6 1085.7L1012.6 1085.5L1013.6 1085.3L1014.6 1085.2L1015.6 1085.0L1016.6 1084.8L1017.6 1084.7L1018.6 1084.6L1019.6 1084.5L1020.6 1084.4L1021.6 1084.3L1022.6 1084.3L1023.4 1084.3L1023.6 1084.3L1024.6 1084.3L1025.6 1084.4L1026.6 1084.6L1027.6 1084.8L1028.6 1085.0L1029.6 1085.3L1030.6 1085.7L1031.6 1086.0L1032.6 1086.4L1033.6 1086.8L1034.6 1087.2L1035.6 1087.6L1036.6 1088.0L1037.6 1088.4L1038.6 1088.8L1038.9 1088.9L1039.6 1089.2L1040.6 1089.6L1041.6 1090.1L1042.6 1090.5L1043.6 1091.0L1044.6 1091.6L1045.6 1092.1L1046.6 1092.7L1047.6 1093.2L1048.6 1093.8L1049.6 1094.3L1050.6 1094.8L1051.6 1095.3L1052.6 1095.8L1053.6 1096.3L1054.4 1096.7L1054.6 1096.7L1055.6 1097.2L1056.6 1097.6L1057.6 1098.1L1058.6 1098.6L1059.6 1099.0L1060.6 1099.4L1061.6 1099.8L1062.6 1100.2L1063.6 1100.6L1064.6 1100.9L1065.6 1101.1L1066.6 1101.3L1066.8 1101.3L1067.6 1101.4L1068.6 1101.5L1069.6 1101.7L1070.6 1101.8L1071.6 1101.9L1072.6 1102.0L1073.6 1102.0L1074.6 1102.1L1075.6 1102.1L1076.1 1102.1L1076.6 1102.1L1077.6 1102.0L1078.6 1101.9L1079.6 1101.7L1080.6 1101.5L1081.6 1101.3L1082.6 1101.0L1083.6 1100.7L1084.6 1100.4L1085.6 1100.0L1086.6 1099.7L1087.6 1099.4L1088.6 1099.0L1089.6 1098.7L1090.6 1098.5L1091.6 1098.2L1091.6 1098.2L1092.6 1098.0L1093.6 1097.8L1094.6 1097.5L1095.6 1097.2L1096.6 1097.0L1097.6 1096.7L1098.6 1096.4L1099.6 1096.2L1100.6 1095.9L1101.6 1095.7L1102.6 1095.4L1103.6 1095.2L1104.6 1094.9L1105.6 1094.7L1106.6 1094.5L1107.6 1094.3L1108.6 1094.1L1109.6 1094.0L1110.6 1093.8L1111.6 1093.7L1112.6 1093.6L1113.6 1093.6L1114.6 1093.6L1114.9 1093.6L1115.6 1093.6L1116.6 1093.6L1117.6 1093.7L1118.6 1093.8L1119.6 1094.0L1120.6 1094.2L1121.6 1094.4L1122.6 1094.6L1123.6 1094.8L1124.6 1095.1L1125.6 1095.4L1126.6 1095.7L1127.6 1096.0L1128.6 1096.3L1129.6 1096.6L1130.6 1096.9L1131.6 1097.2L1132.6 1097.5L1133.6 1097.8L1134.6 1098.1L1135.0 1098.2L1135.6 1098.4L1136.6 1098.7L1137.6 1099.0L1138.6 1099.3L1139.6 1099.7L1140.6 1100.1L1141.6 1100.4L1142.6 1100.8L1143.6 1101.2L1144.6 1101.6L1145.6 1101.9L1146.6 1102.3L1147.6 1102.7L1148.6 1103.0L1149.6 1103.3L1150.5 1103.6L1150.6 1103.7L1151.6 1104.0L1152.6 1104.4L1153.6 1104.7L1154.6 1105.1L1155.6 1105.5L1156.6 1105.8L1157.6 1106.1L1158.6 1106.4L1159.6 1106.6L1160.6 1106.7L1161.4 1106.7L1161.6 1106.7L1162.6 1106.7L1163.6 1106.5L1164.6 1106.3L1165.6 1106.0L1166.6 1105.7L1167.6 1105.3L1168.6 1105.0L1169.6 1104.5L1170.6 1104.1L1171.6 1103.7L1172.6 1103.3L1173.6 1102.9L1173.8 1102.9L1174.6 1102.6L1175.6 1102.2L1176.6 1101.8L1177.6 1101.5L1178.6 1101.1L1179.6 1100.7L1180.6 1100.2L1181.6 1099.8L1182.6 1099.4L1183.6 1099.0L1184.6 1098.6L1185.6 1098.2L1186.6 1097.8L1187.6 1097.3L1188.6 1096.9L1189.3 1096.7L1189.6 1096.5L1190.6 1096.1L1191.6 1095.7L1192.6 1095.3L1193.6 1094.8L1194.6 1094.4L1195.6 1093.9L1196.6 1093.5L1197.6 1093.1L1198.6 1092.7L1199.6 1092.3L1200.6 1091.9L1201.6 1091.5L1202.6 1091.2L1203.6 1090.9L1204.6 1090.7L1205.5 1090.5L1205.6 1090.4L1206.6 1090.3L1207.6 1090.1L1208.6 1089.9L1209.6 1089.7L1210.6 1089.5L1211.6 1089.4L1212.6 1089.2L1213.6 1089.0L1214.6 1088.9L1215.6 1088.8L1216.6 1088.6L1217.6 1088.5L1218.6 1088.4L1219.6 1088.3L1220.6 1088.3L1221.6 1088.2L1222.6 1088.2L1223.6 1088.1L1224.1 1088.1L1224.6 1088.1L1225.6 1088.2L1226.6 1088.3L1227.6 1088.4L1228.6 1088.5L1229.6 1088.7L1230.6 1088.9L1231.6 1089.1L1232.6 1089.4L1233.6 1089.7L1234.6 1090.0L1235.6 1090.3L1236.6 1090.6L1237.6 1090.9L1238.6 1091.2L1239.6 1091.5L1240.6 1091.8L1241.2 1092.0L1241.6 1092.2L1242.6 1092.5L1243.6 1092.9L1244.6 1093.4L1245.6 1093.9L1246.6 1094.4L1247.6 1095.0L1248.6 1095.5L1249.6 1096.1L1250.6 1096.7L1251.6 1097.3L1252.6 1097.8L1253.6 1098.3L1254.6 1098.8L1255.6 1099.3L1256.6 1099.7L1256.7 1099.8L1257.6 1100.1L1258.6 1100.5L1259.6 1100.9L1260.6 1101.3L1261.6 1101.7L1262.6 1102.1L1263.6 1102.4L1264.6 1102.8L1265.6 1103.1L1266.6 1103.4L1267.6 1103.7L1268.6 1104.0L1269.6 1104.2L1270.6 1104.4L1270.6 1104.4L1271.6 1104.6L1272.6 1104.8L1273.6 1105.0L1274.6 1105.2L1275.6 1105.4L1276.6 1105.5L1277.6 1105.7L1278.6 1105.8L1279.6 1105.9L1280.6 1106.0L1281.5 1106.0L1281.6 1106.0L1282.6 1105.9L1283.6 1105.8L1284.6 1105.7L1285.6 1105.5L1286.6 1105.3L1287.6 1105.0L1288.6 1104.7L1289.6 1104.4L1290.6 1104.1L1291.6 1103.7L1292.6 1103.4L1293.6 1103.0L1294.6 1102.6L1295.6 1102.3L1296.6 1101.9L1297.6 1101.6L1298.5 1101.3L1298.6 1101.3L1299.6 1101.0L1300.6 1100.6L1301.6 1100.3L1302.6 1099.9L1303.6 1099.6L1304.6 1099.2L1305.6 1098.8L1306.6 1098.4L1307.6 1098.0L1308.6 1097.6L1309.6 1097.3L1310.6 1096.9L1311.6 1096.6L1312.6 1096.2L1313.6 1095.9L1314.6 1095.7L1315.6 1095.4L1316.6 1095.2L1317.1 1095.1L1317.6 1095.0L1318.6 1094.9L1319.6 1094.7L1320.6 1094.5L1321.6 1094.4L1322.6 1094.2L1323.6 1094.0L1324.6 1093.9L1325.6 1093.7L1326.6 1093.6L1327.6 1093.5L1328.6 1093.3L1329.6 1093.2L1330.6 1093.1L1331.6 1093.0L1332.6 1093.0L1333.6 1092.9L1334.6 1092.9L1335.6 1092.8L1336.6 1092.8L1337.3 1092.8L1337.6 1092.8L1338.6 1092.8L1339.6 1092.8L1340.6 1092.9L1341.6 1092.9L1342.6 1093.0L1343.6 1093.1L1344.6 1093.2L1345.6 1093.3L1346.6 1093.4L1347.6 1093.5L1348.6 1093.6L1349.6 1093.7L1350.6 1093.9L1351.6 1094.0L1352.6 1094.1L1353.6 1094.3L1354.6 1094.4L1355.6 1094.5L1356.6 1094.7L1357.6 1094.8L1358.6 1094.9L1359.6 1095.0L1360.5 1095.1L1360.6 1095.1L1361.6 1095.2L1362.6 1095.3L1363.6 1095.5L1364.6 1095.6L1365.6 1095.7L1366.6 1095.8L1367.6 1096.0L1368.6 1096.1L1369.6 1096.2L1370.6 1096.4L1371.6 1096.5L1372.6 1096.6L1373.6 1096.7L1374.6 1096.9L1375.6 1097.0L1376.6 1097.1L1377.6 1097.2L1378.6 1097.2L1379.6 1097.3L1380.6 1097.4L1381.6 1097.4L1382.6 1097.4L1383.6 1097.4L1383.8 1097.4L1384.6 1097.4L1385.6 1097.4L1386.6 1097.4L1387.6 1097.4L1388.6 1097.4L1389.6 1097.3L1390.6 1097.3L1391.6 1097.2L1392.6 1097.1L1393.6 1097.1L1394.6 1097.0L1395.6 1096.9L1396.6 1096.8L1397.3 1096.7" stroke="#00ffff" stroke-width="6.5" fill="none" stroke-linejoin="round" stroke-linecap="round"/>
</g>
</svg>
</body></html>
